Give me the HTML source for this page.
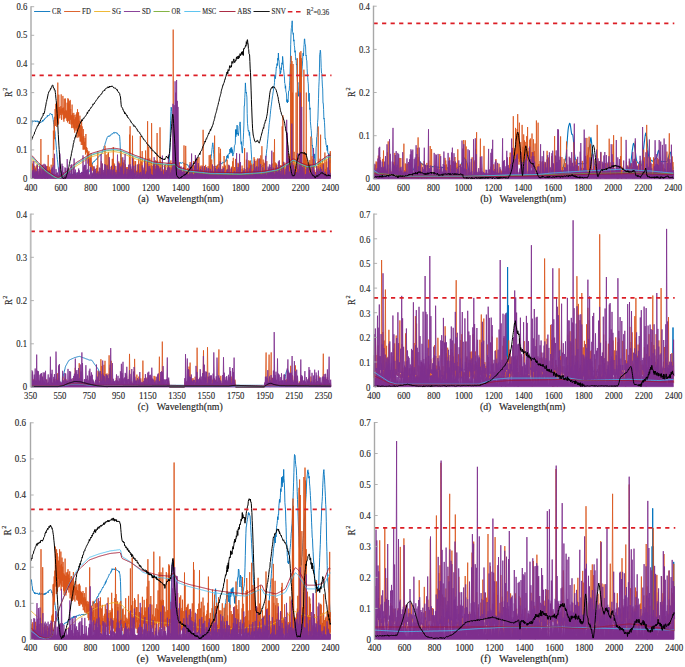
<!DOCTYPE html>
<html><head><meta charset="utf-8"><style>
html,body{margin:0;padding:0;background:#fff;width:685px;height:667px;overflow:hidden}
svg{display:block}
.tk{font-family:"Liberation Serif",serif;font-size:10.3px;fill:#262626;stroke:#262626;stroke-width:0.12px}
.lab{font-family:"Liberation Serif",serif;font-size:9.8px;fill:#262626;stroke:#262626;stroke-width:0.15px}
.lg{font-family:"Liberation Serif",serif;font-size:8px;fill:#262626;stroke:#262626;stroke-width:0.12px}
</style></head><body>
<svg width="685" height="667" viewBox="0 0 685 667">
<path d="M310,1335l3-36 3-36 3-29 3-23 3,6 3-11 3,9 3-4 3,8 3-4 3-2 3-3 3-5 3,3 3,11 3-7 3,1 3,2 3-5 3-4 3,10 3-6 3,1 3,12 3-10 3,2 3,8 3-4 3,7 3-3 3,1 3,4 3-7 3-1 3-1 3,1 3-5 3,0 3-13 3,11 3-11 3,0 3,1 3-11 3,4 3-12 3,3 3-5 3-1 3-7 3-4 3,3 3-5 3-10 3,7 3-13 3,6 3-2 3,2 3-7 3,1 3-8 3-9 3,1 3-1 3,2 3,1 3,7 3,4 3-9 3,13 3,15 3,10 3,17 3,32 3,19 3,27 3,24 3,9 3,14 3,44 3,35 3,22 3,37 3,39 3,31 3,41 3,27 3,25 3,32 3,24 3,29 3,17 3,11 3,13 3-7 3,9 3,0 3,6 3-9 2,6 3,0 3-7 3,2 3,4 3,8 3-12 3,3 3,1 3-5 3,5 3-2 3-4 3,1 3,5 3-9 3,1 3-4 3,9 3-2 3-3 3,2 3,1 3,1 3,1 3,1 3,0 3-5 3,3 3,5 3-7 3-7 3,1 3,14 3-5 3-7 3,3 3,0 3,0 3,0 3,4 3-10 3,10 3-4 3-8 3,2 3,5 3-1 3,3 3-1 3-2 3-7 3,7 3-5 3,0 3,0 3,2 3-5 3,2 3,0 3,2 3,6 3-13 3,0 3,4 3-2 3-2 3,5 3-8 3-1 3-1 3-1 3,12 3-11 3,3 3-7 3,0 3,0 3,3 3-12 3,11 3,4 3-9 3,9 3-15 3,4 3-2 3,0 3,3 3,6 3-3 3-6 3,3 3-5 3,1 3-6 3-12 3-9 3-4 3-3 3-4 3-23 3,6 3-9 3-8 3-14 3,1 3-10 3-2 3,3 3-8 3,3 3-8 3-7 3,1 3,0 3-5 3-4 3-5 3,8 3-5 3-13 3,0 3-4 3-3 3-2 3-2 3-5 3-5 3-2 3-2 3,2 3-9 3,3 3-5 3-8 3-5 3-13 3-8 3-7 3-6 3-10 3-8 3-17 3-4 3-4 3-9 3-18 3,0 3-14 3-8 3-13 3-1 3-13 3-5 3-6 3-4 3,3 3-1 3-6 3,7 3-8 3,3 3-2 3,0 3-2 3-12 3-3 3,2 3-6 3,2 3,0 3,1 3-10 3-3 3-3 3,7 3-3 3,5 3-11 3,2 3,1 3,2 3,1 3,2 3-4 3,9 3-4 3,5 3,8 3,4 3,0 3-1 3,8 3-3 3,15 3,47 3,80 3,83 2,63 3,60 3,48 3,16 3,13" transform="scale(.1)" fill="none" stroke="#0072BD" stroke-width="8.5" stroke-linejoin="round"/>
<path d="M1664,1770l3-6 3-2 3-7 3-8 3-19 3,3 3-13 3-35 3-39 3-55 3-51 3-100 3-122 3-112 3-88 3-44 3,19 3,26 3,46 3,49 3,60 3,92 3,93 3,90 3,86 3,39 3,7 3,9 3-9 3-4 3,4 3-4 3-10 3,4 3-14 3-5 3-5 3-4 3-6 3,5 3-8 3,2 3-2 3,2 3-6 3,6 3-8 3-3 2,8 3,2 3,0 3-3 3-1 3-1 3-4 3,2 3,7 3,3 3,5 3-9 3,2 3,5 3,0 3,0 3,12 3-10 3-1 3,3 3,7 3-1 3,2 3-2 3,7 3,6 3,7 3,9 3,0 3,8 3-2 3-1 3,4 3,4 3,7 3-3 3,7 3,8 3-8 3,2 3,8 3-4 3,9 3-7 3-7 3,9 3-7 3,5 3,6 3,5 3-11 3,0 3,9 3-5 3-7 3,8 3-6 3,10 3-5 3-7 3,8 3,1 3-1 3-4 3,4 3-6 3-4 3-4 3,8 3-9 3,4 3,3 3-3 3-5 3,0 3,3 3,3 3-4 3,2 3,0 3-1 3-7 3,13 3-5 3,4 3-9 3-1 3-2 3,7 3-2 3-3 3,2 3-1 3-1 3-6 3-12 3-20 3-11 3-24 3-15 3-25 3-19 3-32 3-36 3-23 3-32 3-14 3,19 3,47 3,51 3,50 3,42 3,20 3,7 3,2 3,2 3,2 3-4 3-4 3,2 3-8 3,6 3-6 3-5 3-3 3,1 3-6 3,6 3,0 3-10 3,7 3-5 3,6 3-14 3,0 3,5 3,3 3-11 3-1 3-6 3-4 3,5 3,1 3-2 3-1 3,3 3-3 3-5 3,4 3-4 3-22 3,14 3-32 3-18 3,19 3-30 3,22 3,14 3-29 3-12 3-8 3-5 3,8 3-48 3,31 3,0 3-43 3,54 3-24 3-34 3,51 3-30 3,56 3,10 3-17 3-2 3-20 3-12 3-51 3-6 3-6 3-10 3-141 3,72 3-73 3,49 3-32 3-61 3,76 3,15 3-13 3,28 3-17 3-32 3-46 3-5 3-17 3-21 3,29 2,92 3,87 3,16 3-26 3,73 3,30 3,11 3-67 3-6 3-64 3-72 3-71 3-194 3,2 3-84 3-59 3-87 3,54 3,46 3-8 3,24 3,26 3,164 3,102 3,24 3,37 3,16 3-11 3,10 3,42 3-35 3,49 3,13 3,35 3,28 3,48 3,47 3,54 3,40 3,39 3,12 3,1 3-2 3,10 3,3 3-4 3-4 3,8 3-11 3,20 3-15 3,1 3-1 3,6 3-11 3-1 3-2 3,4 3-1 3-9 3,3 3,1 3,0 3-6 3,5 3-10 3,0 3,6 3-11 3-5 3,3 3,5 3-5 3-8 3,7 3-6 3-8 3,5 3-1 3-8 3-5 3,3 3,0 3-15 3-31 3-23 3-38 3-35 3-15 3-42 3-33 3-27 3-34 3-31 3-33 3-38 3-21 3-25 3-30 3-28 3-35 3-23 3-23 3-21 3-29 3-20 3-23 3-15 3-24 3-18 3-26 3-26 3-6 3-28 3-77 3,26 3,12 3-26 3-48 3-41 3,7 3-42 3-2 3,20 3-73 3,22 3-74 3,64 3,9 3,46 3,30 3,17 3,45 3-27 3,11 3-48 3,19 3-51 3-17 3,16 3-80 3,30 3,45 3,46 3,25 3,32 3,20 3,69 3,3 3,50 3-26 3,57 3,9 3,15 3,79 3-24 3,36 3-27 3,17 3-51 3-59 3,1 3-4 3-50 3-48 3-97 3-88 3-176 3-106 3-56 3-11 3-29 3-38 3,110 3,2 3,23 3-9 3,78 3-14 3,56 3,17 3,52 3-16 3,56 3,33 3-9 3,62 3-6 3,98 3,56 3,47 3-21 3,81 3,59 3-34 3-19 3-76 3-10 3-27 3-44 3-36 2,1 3-8 3,6 3,51 3-77 3-28 3-53 3-68 3-11 3,29 3-82 3-29 3-58 3-2 3,52 3,3 3,26 3,89 3-6 3,48 3,8 3,75 3,58 3,33 3,43 3,21 3,97 3,80 3-84 3,99 3,65 3-17 3,138 3,35 3,35 3,21 3,69 3,12 3,72 3-7 3,45 3,71 3-28 3,43 3-11 3,10 3-44 3,79 3,46 3-52 3-3 3-131 3-27 3-80 3-6 3-42 3-99 3-34 3-101 3-102 3-114 3-61 3-84 3-184 3-16 3-26 3,16 3,64 3,93 3,56 3,3 3,62 3,65 3,28 3,145 3-1 3,63 3,95 3-8 3,44 3,62 3,101 3-4 3,19 3,37 3,10 3,17 3-7 3,44 3-53 3,74 3,8 3-3 3,32 3,15 3-36 3,92 3-8 3-100 3,36" transform="scale(.1)" fill="none" stroke="#0072BD" stroke-width="8.5" stroke-linejoin="round"/>
<path d="M310,1774l2-32 4,24 3-161 3,152 3-121 3,127 2-24 4,40 2-134 4,138 4-125 2,118 2-70 4,64 2-94 4,101 4-119 2,104 3-28 3,44 3-133 3,136 3-59 3,46 3-19 3,14 2-51 4,67 2-75 4,71 4-85 2,88 3-388 3,394 3-29 3,10 4-67 2,86 3-129 3,112 4-73 2,73 2-121 4,124 3-56 3,70 3-111 3,111 2-34 4,20 3-111 3,112 2-48 4,62 3-123 3,123 4-236 2,214 2-63 4,76 3-109 3,97 2-76 4,91 2-79 4,77 4-130 2,112 2-6 4,26 2-28 4,22 3-192 3,81 2-356 4,193 4-300 2,193 2-224 4,37 1-114 5,168 2-220 4,152 2-158 4,237 2-233 4,204 4-415 2,422 3-176 3,164 2-289 4,214 1-91 5,114 2-92 4,57 4-87 2,67 2-185 3,255 4-108 2,60 2-72 4,57 2-177 4,236 4-120 2,142 4-230 2,199 3-75 3,71 3-197 3,187 2-73 4,85 3-76 3,101 2-182 4,197 4-242 2,229 3-219 3,213 2-167 4,201 4-228 2,227 3-239 3,198 2-107 4,156 4-93 2,128 4-235 2,197 2-109 4,145 4-125 2,121 3-146 3,165 2-101 4,134 2-178 4,134 3-110 3,134 4-165 2,140 3-158 3,254 4-286 2,248 3-213 3,238 3-242 3,252 3-167 3,154 4-205 2,258 4-163 2,162 3-79 3,115 3-247 3,222 3-161 3,186 4-83 2,130 2-206 4,203 2-133 4,132 3-75 3,76 2-114 4,165 4-205 2,180 4-50 2,56 3-47 3,111 3-90 3,136 4-115 2,131 4-141 2,111 4-41 2,78 2-89 4,135 3-137 3,146 2-183 4,141 3-35 3,60 4-42 2,53 4-45 2,100 4-90 2,38 2-23 4,81 3-59 3,58 2-56 4,63 4-62 2,32 2-65 4,78 2-105 4,108 3-248 3,254 2-49 4,36 4-30 2,41 3-57 3,57 2-47 4,60 3-98 3,70 2-139 4,171 3-141 3,105 2-31 4,31 2-19 4,36 2-38 4,53 3-91 3,89 3-319 3,322 2-132 4,108 3-208 3,222 2-60 4,34 2-97 4,124 2-235 4,236 2-250 4,235 4-151 2,142 2-25 4,40 2-47 4,65 3-113 3,111 4-111 2,87 4-165 2,163 3-163 3,153 2-272 4,290 3-127 3,118 3-107 3,112 2-35 4,40 3-100 3,89 1-46 5,72 3-79 3,81 3-59 3,53 3-44 3,40 3-153 3,129 2-103 4,109 3-116 3,119 2-47 3,41 3-240 3,262 3-194 3,168 3-82 3,85 3-128 3,159 4-148 2,140 4-170 2,173 3-63 3,68 4-133 2,101 3-24 3,47 4-96 2,76 3-26 3,37 4-88 2,111 3-111 3,95 3-68 3,53 4-405 2,425 3-509 3,510 3-92 3,101 4-91 2,75 2-43 4,23 3-388 3,427 3-168 3,131 2-171 4,183 2-64 4,78 4-162 2,135 4-135 2,134 4-32 2,30 4-36 2,58 4-120 2,122 3-64 3,53 4-162 2,153 3-51 3,74 4-132 2,133 3-410 3,406 2-53 4,70 4-172 2,137 4-238 2,254 4-42 2,42 3-39 3,32 4-74 2,66 3-94 3,99 3-48 3,64 2-266 4,267 3-64 3,63 4-155 2,146 4-550 2,538 4-42 2,77 3-317 3,291 4-74 2,64 2-165 4,177 4-69 2,77 3-154 3,150 2-534 4,532 3-103 3,98 3-65 3,89 3-158 3,127 4-74 2,84 2-126 4,138 3-170 3,143 3-87 3,109 3-81 3,65 3-422 3,442 2-169 4,158 3-129 3,145 4-152 2,148 2-60 4,58 2-498 4,506 2-170 4,143 3-42 3,56 4-143 2,147 2-99 4,89 4-47 2,62 3-80 3,71 2-41 4,36 3-112 3,110 2-120 4,128 3-40 3,26 3-49 3,44 2-117 4,113 2-29 4,46 4-90 2,73 3-120 3,121 3-79 3,91 2-35 4,57 3-175 3,153 4-122 2,127 2-95 4,88 2-55 4,73 2-1477 4,1446 3-49 3,77 2-48 4,20 2-20 4,51 2-47 4,38 2-46 4,38 3-46 3,64 3-119 3,113 1-104 5,93 1-94 5,90 2-132 4,125 3-22 3,37 3-68 3,51 2-19 3,48 4-84 2,70 5-34 1,27 3-27 3,56 4-58 2,28 3-297 3,296 3-118 3,129 4-55 2,39 2-286 4,296 4-43 2,57 4-63 2,44 4-69 2,82 3-38 3,31 2-71 4,58 4-79 2,91 4-134 2,131 4-26 2,24 4-125 2,151 4-110 2,117 3-118 3,117 3-56 3,39 3-155 3,134 4-37 2,59 3-96 3,75 4-74 2,101 3-169 3,176 3-118 3,107 4-182 2,163 2-37 4,31 3-92 3,111 2-190 4,197 4-94 2,76 3-94 3,110 3-98 3,103 2-72 4,53 3-99 3,127 3-57 3,28 2-454 4,446 2-60 4,97 3-67 3,37 3-85 3,118 3-135 3,131 4-59 2,51 4-67 2,37 4-16 2,57 4-121 2,103 3-41 3,42 3-214 3,225 3-92 3,58 3-196 3,228 2-48 4,19 4-150 2,166 2-50 4,42 2-94 4,93 3-40 3,43 3-94 3,88 3-394 3,391 3-45 3,77 3-98 3,100 2-118 4,103 2-105 4,119 3-134 3,114 3-52 3,37 4-275 2,293 3-54 3,69 4-245 2,247 2-292 4,274 2-72 4,63 3-50 3,47 2-27 4,30 2-91 4,103 2-42 4,24 2-187 4,202 2-116 4,110 3-99 3,128 4-66 2,45 2-67 4,84 2-184 4,179 3-52 3,48 2-124 4,112 2-74 4,96 2-123 4,95 2-62 4,76 2-47 4,55 3-109 3,77 3-16 3,29 3-144 3,158 4-193 2,202 2-85 4,69 3-93 3,81 2-79 4,90 2-174 4,183 4-46 2,54 3-76 3,71 4-84 2,60 3-123 3,150 4-140 2,105 2-55 4,66 1-26 5,40 2-115 3,124 3-86 3,74 4-43 2,22 3-88 3,124 3-95 3,90 4-72 2,79 2-74 4,46 4-273 2,263 2-34 4,51 3-69 3,80 4-175 2,147 4-64 2,80 3-51 3,35 3-70 3,95 4-167 2,177 3-167 3,170 2-134 4,126 3-168 3,160 2-132 4,118 4-105 2,118 2-77 4,85 4-54 2,27 3-108 3,122 3-188 3,187 3-168 3,159 3-48 3,54 3-146 3,165 2-62 4,31 3-148 3,182 2-193 4,193 3-52 3,31 4-56 2,59 3-175 3,190 3-184 3,164 4-201 2,227 4-60 2,44 3-303 3,282 3-34 3,37 4-151 2,163 4-135 2,127 3-63 3,69 2-124 4,142 2-170 4,143 4-44 2,55 4-148 2,148 4-51 2,36 4-43 2,60 3-35 3,45 2-52 4,48 4-98 2,92 3-34 3,21 3-78 3,79 3-31 3,50 3-133 3,129 3-43 3,62 3-260 3,235 3-50 3,43 3-359 3,385 4-153 2,134 4-124 2,145 3-143 3,113 3-102 3,107 4-84 2,75 3-46 3,74 4-56 2,61 2-165 4,147 3-70 3,93 3-130 3,97 4-25 2,51 4-79 2,82 2-515 4,515 3-626 3,602 3-117 3,145 2-84 4,68 4-142 2,152 3-58 3,32 4-78 2,110 2-115 4,109 3-132 3,107 2-330 4,341 3-169 3,186 3-242 3,204 3-182 3,209 2-43 4,41 3-1127 3,1113 2-1194 4,1205 4-1153 2,1138 3-823 3,836 3-1122 3,1134 2-108 4,96 2-244 4,231 4-22 2,46 2-107 4,92 3-832 3,834 3-206 3,201 4-1173 2,1188 2-60 4,65 4-86 2,67 3-173 3,166 3-1224 3,1240 3-1211 3,1225 3-1268 2,1239 3-1168 3,1180 4-83 2,77 3-122 3,147 2-258 4,228 4-1054 2,1072 3-240 3,218 4-210 2,237 3-188 3,199 4-859 2,845 5-173 1,156 4-118 2,118 4-128 2,123 3-41 3,68 3-145 3,128 3-158 3,181 3-132 3,125 2-409 4,417 2-126 4,101 2-195 4,184 4-155 2,167 3-37 3,37 4-166 2,153 3-47 3,72 4-47 2,37 4-41 2,30 3-54 3,81 3-115 3,93 2-60 4,87 3-517 3,504 3-157 3,165 3-89 3,78 3-179 3,189 3-429 3,435 3-153 3,137 3-75 3,77 4-175 2,160 2-115 4,146 2-152 4,126 2-35 4,60 4-258 2,239 3-73 3,93 4-166 2,128 4-152 2,170 2-44 4,45 4-38 2,55 2-168 4,137 3-187 3,210 3-193 3,184 4-254 2,243" transform="scale(.1)" fill="none" stroke="#D95319" stroke-width="8.0" stroke-linejoin="round"/>
<path d="M310,1583l7,5 8,8 7,8 8,8 7,8 8,9 7,8 8,8 7,8 8,8 7,8 8,7 7,7 8,8 7,7 8,7 7,7 8,7 7,7 8,7 7,5 8,6 7,5 8,5 7,5 8,5 7,6 8,5 7,4 8,4 7,1 8,1 7,0 8,0 7,0 8,0 7,0 8,0 7-1 8-1 7-4 7-4 8-5 7-6 8-5 7-5 8-5 7-5 8-6 7-5 8-7 7-7 8-7 7-7 8-7 7-7 8-8 7-7 8-7 7-6 8-5 7-5 8-5 7-4 8-5 7-5 8-4 7-5 8-4 7-5 8-5 7-4 8-5 7-4 8-5 7-4 8-5 7-5 8-4 7-4 7-3 8-2 7-3 8-2 7-2 8-2 7-3 8-2 7-2 8-3 7-2 8-2 7-3 8-2 7-2 8-2 7-3 8-2 7-2 8-2 7-1 8-1 7-1 8-1 7,0 8-1 7-1 8-1 7,0 8-1 7,0 8,0 7,1 8,1 7,2 8,1 7,1 8,2 7,1 7,2 8,3 7,3 8,3 7,3 8,3 7,3 8,3 7,3 8,4 7,3 8,3 7,3 8,3 7,3 8,4 7,3 8,3 7,3 8,3 7,3 8,3 7,2 8,3 7,3 8,2 7,3 8,3 7,2 8,3 7,2 8,3 7,3 8,2 7,3 8,2 7,3 8,3 7,2 8,3 7,2 7,3 8,3 7,2 8,2 7,2 8,1 7,0 8,1 7,1 8,0 7,1 8,1 7,1 8,0 7,1 8,1 7,0 8,1 7,1 8,1 7,0 8,1 7,1 8,0 7,1 8,1 7,0 8,0 7-2 8-2 7-1 8,2 7,6 8,10 7,10 8,9 7,5 8,3 7,2 8,2 7,2 7,2 8,2 7,2 8,2 7,2 8,2 7,2 8,2 7,2 8,1 7,1 8,1 7,1 8,0 7,1 8,1 7,1 8,0 7,1 8,1 7,1 8,0 7,1 8,1 7,1 8,0 7,1 8,1 7,1 8,0 7,1 8,1 7,1 8,1 7,0 8,1 7,1 8,1 7,0 7,0 8,1 7,0 8,0 7,0 8,0 7,0 8,1 7,0 8,0 7,0 8,0 7,0 8,0 7,1 8,0 7,0 8,0 7,0 8,0 7,0 8,1 7,0 8,0 7,0 8,0 7,0 8,0 7,1 8,0 7,0 8,0 7,0 8,0 7,0 8,1 7,0 8,0 7,0 7,0 8,0 7-1 8,0 7-1 8,0 7-1 8,0 7-1 8,0 7-1 8,0 7-1 8,0 7-1 8,0 7-1 8,0 7,0 8-1 7,0 8-1 7,0 8-1 7,0 8-1 7,0 8-1 7,0 8-1 7-1 8-1 7-1 8-2 7-1 8-1 7-2 8-1 7-2 8-1 7-2 7-1 8-1 7-2 8-1 7-2 8-1 7-2 8-1 7-2 8-2 7-4 8-4 7-4 8-5 7-4 8-5 7-4 8-5 7-4 8-5 7-4 8-5 7-4 8-5 7-4 8-6 7-6 8-7 7-6 8-3 7,1 8,3 7,4 8,4 7,4 8,5 7,4 8,4 7,4 8,4 7,4 7,3 8,2 7,3 8,3 7,3 8,3 7,3 8,2 7,2 8,0 7-1 8-2 7-1 8-2 7-1 8-2 7-1 8-2 7-3 8-4 7-5 8-5 7-5 8-6 7-5 8-5 7-6 8-5 7-5 8-6 7-5 8-6 7-5 8-5 7-3 8-2 7-1 8,0 7,0" transform="scale(.1)" fill="none" stroke="#EDB120" stroke-width="9.0" stroke-linejoin="round"/>
<path d="M310,1775l5-43 2,40 4-48 4,24 2-44 5,43 6-136 2,164 3-53 4,34 3-62 5,82 4-62 3,33 5-34 3,34 2-100 5,109 3-67 5,74 4-13 3,7 4-96 4,99 3-54 4,45 3-104 5,104 4-8 3,7 3-102 5,102 3-62 4,84 4-134 4,134 4-65 3,48 3-109 5,114 2-96 5,82 5-42 3,73 4-57 3,45 3-46 5,30 4-40 3,55 4-25 4,36 3-41 4,34 4-81 4,59 3-73 4,80 5-98 3,95 5-9 2,29 3-232 5,214 2-13 5,40 3-88 5,81 4-44 3,30 3-32 5,31 2-10 5,17 3-91 5,73 4-210 3,231 4-25 4,28 2-62 5,64 3-135 4,117 4-94 4,91 3-28 4,28 5-3 3,10 3-84 4,104 4-97 4,84 3-47 4,56 3-183 5,179 2-90 5,98 5-80 3,57 4-59 3,75 4-24 4,13 3-112 4,98 4-103 4,128 4-31 3,29 3-96 5,97 4-185 3,192 5-59 3,42 3-64 4,64 5-16 3,15 4-36 3,23 5-21 3,34 5-74 2,73 3-55 5,46 4,0 3,0 3-20 5,32 4-42 3,39 5-37 3,46 3-213 4,208 4-97 4,98 4-114 3,112 3-111 5,121 3-193 4,181 3-59 5,70 3-76 4,75 5-182 3,182 2-20 5,3 4-8 4,33 3-107 4,75 3-70 4,99 5-47 3,31 3-21 4,34 5-73 3,58 2-93 5,87 4-2 4,16 2-76 5,75 5-28 3,10 4-13 3,27 3-46 5,54 3-27 4,31 3-95 5,74 5-5 2,10 5-215 3,229 5-83 2,76 4-127 4,140 3-75 4,53 4-10 4,5 4-108 3,114 4-104 4,105 2-6 5,26 4-121 4,94 2-56 5,67 3-64 5,53 4-176 3,182 4-14 4,9 4-54 3,57 4-94 4,96 4-4 3,9 3-59 5,70 4-80 3,81 3-118 5,95 2,0 5,4 3-31 5,50 2-28 5,33 4-230 4,203 3-94 4,124 2-148 6,127 4-36 3,33 5-89 2,99 5-89 3,72 5-95 2,104 5-184 3,172 5,0 2,11 5-21 3,25 5-221 2,238 5-92 3,64 3-5 4,31 4-84 4,79 4-35 3,22 4-110 4,109 5-56 2,47 3-105 5,105 2-82 5,83 4-41 4,45 3-175 4,189 5-64 3,52 2-96 5,116 5-44 3,38 5-122 2,99 3,0 5,12 5-37 2,27 4-6 4,33 2-130 5,115 5-9 3,23 2-44 5,26 4-36 4,28 3,0 4,17 4-111 4,126 2-106 5,95 4-66 4,74 4-184 3,172 4-26 4,14 3-12 4,6 5-29 3,53 4-175 3,179 3-112 5,116 4-45 3,36 5-108 3,109 4-83 3,85 3-31 4,8 5,0 3,20 4-19 3,24 4-127 4,127 4-202 3,182 4-7 4,17 4-77 3,79 4-154 4,143 5-105 2,108 4-71 4,76 2-105 5,100 3-70 5,81 3-91 4,86 4-53 4,45 5-41 2,64 4-223 4,209 3-26 4,27 3-19 5,21 4-114 3,108 5-43 3,37 4-56 3,54 4-36 4,35 3-76 4,81 4-210 4,231 3-40 4,32 3-98 5,83 4-30 3,49 4-77 4,61 5-92 2,90 5-719 3,546 3-269 4,384 2-647 6,601 3-840 4,894 3-781 5,771 3-897 4,847 3-638 5,629 2-569 5,681 2-38 6,60 3-116 4,93 4-75 4,97 2-108 5,103 3-72 4,52 3-26 5,42 4-91 3,100 5-48 3,41 4-67 3,54 3-15 5,13 5-32 2,58 5-63 3,50 3-18 4,22 3-21 5,31 4-118 3,106 3-120 5,125 3-29 4,14 4-219 4,244 3-94 4,79 5-22 3,25 3-20 4,18 3-110 5,109 4-214 3,196 5-168 3,178 3-52 4,62 4-70 4,72 3-137 4,133 4-58 4,41 3-16 4,28 3-68 5,56 5-34 2,59 5-109 3,98 4-32 3,25 4-16 4,13 5-90 2,115 3-74 5,63 3-30 4,14 4-77 4,86 2-29 5,45 5-94 3,85 4-77 3,74 5-33 3,50 5-90 2,76 4-57 3,55 5-17 3,0 3-101 4,116 5-29 3,29 4-42 3,58 5-119 3,120 3-95 4,80 4-23 4,18 4-68 3,82 4-22 4,10 5-84 2,100 4-82 4,76 5-156 2,147 3-62 5,70 3-47 4,42 3-76 5,67 3-44 4,62 4-97 4,81 2-11 5,0 5-15 3,20 5-10 2,25 5-61 3,52 2-65 5,83 3-40 5,19 3-105 4,105 2-33 6,51 4-22 3,16 4-87 4,79 3-14 4,13 3-7 5,8 2-29 5,25 5-44 3,40 4-16 3,29 3-38 5,54 4-248 3,221 3-30 5,54 3-106 4,91 3-34 5,28 4-217 3,214 5-131 2,140 4-18 4,15 5-32 2,20 6,0 2,7 3-44 4,61 6-88 2,65 3-32 4,41 5-21 3,34 4-44 3,45 4-246 4,240 4-30 3,28 3-37 5,25 4-66 3,80 4-31 4,22 4-103 3,116 5-28 3,23 5-13 2,18 5-53 3,51 5-64 2,53 4-150 4,166 2-45 5,36 4-90 4,82 2-91 5,116 5-71 3,57 3-98 4,86 3-167 5,171 2-18 5,12 5-110 3,129 4-27 3,15 3-12 5,23 4-97 3,104 3-56 5,32 4-10 3,27 4-68 4,53 4-196 3,195 3-4 5,3 4-36 3,53 5-103 3,86 4-70 3,89 3-127 5,112 3-47 4,70 4-132 3,105 5-245 3,270 4-69 3,47 4-79 4,82 4-47 3,66 5-37 3,19 4-78 3,74 5-101 3,98 3-30 4,24 3-30 5,55 3-155 4,149 5-163 3,165 5-60 2,50 4-22 4,38 4-117 3,104 4-10 4,21 5-106 2,107 3-154 5,135 4-7 3,14 5-10 3,3 5-64 2,68 4-559 4,552 3-423 4,436 5-182 3,198 5-34 2,0 3-29 5,55 5-67 2,47 3-95 5,116 2-536 5,526 2-21 6,28 2-120 5,108 3-67 5,87 3-34 4,34 3-29 5,15 5-43 2,30 5-17 3,30 2-232 5,244 3-44 5,14 4-91 3,122 4-850 4,843 3-83 4,74 4-691 3,701 5-100 3,85 4-37 3,47 5-105 3,92 2-4 5,28 3-34 5,9 3-8 4,5 4-81 4,104 4-123 3,123 5-95 3,73 5-22 2,38 5-17 3,18 3-119 4,112 3-19 5,20 5-92 2,83 5-41 3,46 2-276 5,275 3-39 5,48 3-17 4,15 4-18 4,6 4-90 3,89 4-37 4,46 4-72 3,73 5-34 3,44 2-61 5,55 3-93 5,103 5-84 2,74 4-45 4,59 3-66 4,59 4-126 4,125 3-20 4,14 5-46 3,39 4-13 3,33 4-31 4,12 4-9 3,5 4-79 4,100 2-232 5,232 5-73 3,75 2-48 5,30V1785H310Z" transform="scale(.1)" fill="#7E2F8E" stroke="#7E2F8E" stroke-width="8.0" stroke-linejoin="round"/>
<path d="M310,1565l7,6 8,7 7,9 8,8 7,8 8,8 7,9 8,8 7,8 8,8 7,8 8,7 7,7 8,7 7,7 8,8 7,7 8,7 7,7 8,6 7,6 8,6 7,5 8,5 7,5 8,5 7,5 8,5 7,5 8,5 7,3 8,4 7,2 8,3 7,3 8,1 7,0 8-1 7-2 8-3 7-5 7-5 8-7 7-6 8-6 7-7 8-6 7-6 8-7 7-6 8-7 7-7 8-7 7-7 8-8 7-7 8-7 7-7 8-7 7-6 8-6 7-4 8-5 7-5 8-4 7-5 8-4 7-5 8-5 7-4 8-5 7-4 8-5 7-4 8-5 7-5 8-4 7-5 8-4 7-4 7-3 8-2 7-3 8-2 7-2 8-3 7-2 8-2 7-3 8-2 7-2 8-2 7-3 8-2 7-2 8-3 7-2 8-2 7-2 8-2 7-1 8-1 7-1 8-1 7-1 8,0 7-1 8-1 7-1 8,0 7,0 8,0 7,1 8,1 7,1 8,2 7,1 8,1 7,2 7,2 8,2 7,3 8,4 7,3 8,3 7,3 8,3 7,3 8,3 7,4 8,3 7,3 8,3 7,3 8,3 7,4 8,3 7,3 8,3 7,3 8,3 7,2 8,3 7,3 8,2 7,3 8,2 7,3 8,3 7,2 8,3 7,2 8,3 7,3 8,2 7,3 8,2 7,3 8,3 7,2 7,3 8,2 7,3 8,2 7,1 8,1 7,1 8,1 7,1 8,0 7,1 8,1 7,0 8,1 7,1 8,1 7,0 8,1 7,1 8,0 7,1 8,1 7,1 8,0 7,1 8,1 7,0 8,0 7-2 8-2 7-1 8,1 7,7 8,10 7,10 8,8 7,6 8,3 7,2 8,2 7,2 7,2 8,2 7,2 8,2 7,2 8,2 7,2 8,2 7,2 8,1 7,1 8,1 7,0 8,1 7,1 8,1 7,0 8,1 7,1 8,1 7,0 8,1 7,1 8,1 7,0 8,1 7,1 8,1 7,1 8,0 7,1 8,1 7,1 8,0 7,1 8,1 7,1 8,0 7,1 7,0 8,0 7,1 8,0 7,0 8,0 7,0 8,0 7,0 8,1 7,0 8,0 7,0 8,0 7,0 8,0 7,1 8,0 7,0 8,0 7,0 8,0 7,0 8,1 7,0 8,0 7,0 8,0 7,0 8,0 7,1 8,0 7,0 8,0 7,0 8,0 7,0 8,1 7,0 7,0 8-1 7,0 8-1 7,0 8,0 7-1 8,0 7-1 8,0 7-1 8,0 7-1 8,0 7-1 8,0 7-1 8,0 7-1 8,0 7-1 8,0 7-1 8,0 7-1 8,0 7,0 8-1 7,0 8-1 7-1 8-1 7-1 8-2 7-1 8-2 7-1 8-1 7-2 8-1 7-2 7-1 8-2 7-1 8-1 7-2 8-1 7-2 8-1 7-2 8-2 7-4 8-4 7-4 8-5 7-4 8-5 7-4 8-5 7-4 8-5 7-4 8-5 7-4 8-5 7-4 8-6 7-6 8-7 7-6 8-3 7,0 8,4 7,4 8,4 7,4 8,5 7,4 8,4 7,4 8,4 7,3 7,3 8,3 7,3 8,3 7,3 8,3 7,3 8,2 7,1 8,0 7-1 8-1 7-1 8-2 7-1 8-2 7-1 8-2 7-3 8-4 7-5 8-5 7-5 8-6 7-5 8-6 7-5 8-5 7-6 8-5 7-5 8-6 7-5 8-5 7-3 8-2 7-1 8,0 7,0" transform="scale(.1)" fill="none" stroke="#77AC30" stroke-width="9.0" stroke-linejoin="round"/>
<path d="M310,1560l7,5 8,8 7,8 8,8 7,8 8,9 7,8 8,8 7,9 8,7 7,8 8,7 7,7 8,8 7,7 8,7 7,7 8,7 7,7 8,7 7,5 8,6 7,5 8,5 7,5 8,5 7,6 8,5 7,5 8,4 7,5 8,4 7,4 8,3 7,3 8,2 7-1 8-2 7-3 8-4 7-5 7-6 8-6 7-7 8-6 7-6 8-7 7-6 8-6 7-7 8-7 7-7 8-7 7-7 8-7 7-7 8-8 7-7 8-7 7-6 8-5 7-5 8-5 7-4 8-5 7-5 8-4 7-5 8-4 7-5 8-4 7-5 8-5 7-4 8-5 7-4 8-5 7-4 8-5 7-4 7-3 8-2 7-3 8-2 7-2 8-2 7-3 8-2 7-2 8-3 7-2 8-2 7-2 8-3 7-2 8-2 7-3 8-2 7-2 8-2 7-1 8-1 7-1 8,0 7-1 8-1 7-1 8,0 7-1 8-1 7,0 8,0 7,1 8,1 7,2 8,1 7,1 8,2 7,1 7,2 8,3 7,3 8,3 7,3 8,3 7,3 8,3 7,4 8,3 7,3 8,3 7,3 8,3 7,3 8,4 7,3 8,3 7,3 8,3 7,3 8,3 7,3 8,2 7,3 8,2 7,3 8,3 7,2 8,3 7,2 8,3 7,3 8,2 7,3 8,2 7,3 8,3 7,2 8,3 7,2 7,3 8,3 7,2 8,2 7,2 8,1 7,0 8,1 7,1 8,1 7,0 8,1 7,1 8,0 7,1 8,1 7,1 8,0 7,1 8,1 7,0 8,1 7,1 8,1 7,0 8,1 7,0 8,0 7-2 8-2 7-1 8,2 7,6 8,10 7,10 8,9 7,5 8,3 7,2 8,2 7,2 7,2 8,2 7,2 8,2 7,2 8,2 7,2 8,2 7,2 8,1 7,1 8,1 7,1 8,0 7,1 8,1 7,1 8,0 7,1 8,1 7,1 8,0 7,1 8,1 7,1 8,1 7,0 8,1 7,1 8,1 7,0 8,1 7,1 8,1 7,0 8,1 7,1 8,1 7,0 7,1 8,0 7,0 8,0 7,0 8,0 7,0 8,1 7,0 8,0 7,0 8,0 7,0 8,0 7,1 8,0 7,0 8,0 7,0 8,0 7,0 8,1 7,0 8,0 7,0 8,0 7,0 8,0 7,1 8,0 7,0 8,0 7,0 8,0 7,0 8,1 7,0 8,0 7,0 7,0 8,0 7-1 8,0 7-1 8,0 7-1 8,0 7-1 8,0 7-1 8,0 7-1 8,0 7,0 8-1 7,0 8-1 7,0 8-1 7,0 8-1 7,0 8-1 7,0 8-1 7,0 8-1 7,0 8-1 7-1 8-1 7-1 8-1 7-2 8-1 7-2 8-1 7-2 8-1 7-1 7-2 8-1 7-2 8-1 7-2 8-1 7-1 8-2 7-2 8-2 7-4 8-4 7-4 8-5 7-4 8-5 7-4 8-5 7-4 8-5 7-4 8-4 7-5 8-4 7-5 8-6 7-6 8-7 7-5 8-4 7,1 8,3 7,4 8,4 7,4 8,5 7,4 8,4 7,5 8,3 7,4 7,3 8,3 7,2 8,3 7,3 8,3 7,3 8,2 7,2 8,0 7-1 8-2 7-1 8-2 7-1 8-1 7-2 8-2 7-2 8-5 7-5 8-5 7-5 8-6 7-5 8-5 7-6 8-5 7-5 8-6 7-5 8-6 7-5 8-5 7-3 8-2 7-1 8,0 7,0" transform="scale(.1)" fill="none" stroke="#4DBEEE" stroke-width="9.0" stroke-linejoin="round"/>
<path d="M310,1548l7,6 8,7 7,8 8,9 7,8 8,8 7,9 8,8 7,8 8,8 7,8 8,7 7,7 8,7 7,7 8,7 7,8 8,7 7,7 8,6 7,6 8,5 7,6 8,5 7,5 8,5 7,5 8,5 7,5 8,5 7,5 8,4 7,5 8,4 7,3 8,2 7-1 8-3 7-4 8-4 7-6 7-6 8-6 7-6 8-6 7-7 8-6 7-6 8-7 7-6 8-7 7-7 8-7 7-8 8-7 7-7 8-7 7-7 8-7 7-6 8-6 7-5 8-4 7-5 8-4 7-5 8-5 7-4 8-5 7-4 8-5 7-4 8-5 7-5 8-4 7-5 8-4 7-5 8-4 7-4 7-3 8-3 7-2 8-2 7-3 8-2 7-2 8-2 7-3 8-2 7-2 8-3 7-2 8-2 7-2 8-3 7-2 8-2 7-2 8-2 7-1 8-1 7-1 8-1 7-1 8,0 7-1 8-1 7-1 8,0 7-1 8,1 7,1 8,1 7,1 8,2 7,1 8,1 7,2 7,2 8,2 7,3 8,3 7,4 8,3 7,3 8,3 7,3 8,3 7,3 8,4 7,3 8,3 7,3 8,3 7,3 8,3 7,4 8,3 7,3 8,2 7,3 8,3 7,2 8,3 7,3 8,2 7,3 8,2 7,3 8,3 7,2 8,3 7,2 8,3 7,3 8,2 7,3 8,2 7,3 7,3 8,2 7,3 8,2 7,1 8,1 7,1 8,1 7,0 8,1 7,1 8,1 7,0 8,1 7,1 8,0 7,1 8,1 7,1 8,0 7,1 8,1 7,0 8,1 7,1 8,0 7,1 8,0 7-2 8-2 7-2 8,2 7,7 8,10 7,10 8,8 7,5 8,3 7,3 8,2 7,2 7,2 8,2 7,2 8,2 7,2 8,2 7,2 8,2 7,2 8,1 7,1 8,0 7,1 8,1 7,1 8,0 7,1 8,1 7,1 8,0 7,1 8,1 7,1 8,1 7,0 8,1 7,1 8,1 7,0 8,1 7,1 8,1 7,0 8,1 7,1 8,1 7,0 8,1 7,1 7,0 8,0 7,0 8,1 7,0 8,0 7,0 8,0 7,0 8,0 7,1 8,0 7,0 8,0 7,0 8,0 7,0 8,1 7,0 8,0 7,0 8,0 7,0 8,0 7,1 8,0 7,0 8,0 7,0 8,0 7,0 8,1 7,0 8,0 7,0 8,0 7,0 8,0 7,1 7-1 8,0 7,0 8-1 7,0 8-1 7,0 8-1 7,0 8-1 7,0 8-1 7,0 8,0 7-1 8,0 7-1 8,0 7-1 8,0 7-1 8,0 7-1 8,0 7-1 8,0 7-1 8,0 7-1 8,0 7-1 8-1 7-1 8-2 7-1 8-2 7-1 8-2 7-1 8-1 7-2 7-1 8-2 7-1 8-2 7-1 8-1 7-2 8-1 7-2 8-3 7-3 8-4 7-5 8-4 7-5 8-4 7-5 8-4 7-4 8-5 7-4 8-5 7-4 8-5 7-5 8-5 7-6 8-7 7-6 8-3 7,0 8,3 7,4 8,5 7,4 8,4 7,5 8,4 7,4 8,4 7,3 7,3 8,3 7,3 8,3 7,3 8,3 7,2 8,3 7,1 8,0 7-1 8-1 7-2 8-1 7-1 8-2 7-1 8-2 7-3 8-4 7-5 8-5 7-6 8-5 7-5 8-6 7-5 8-5 7-6 8-5 7-6 8-5 7-5 8-5 7-4 8-1 7-1 8,0 7,0" transform="scale(.1)" fill="none" stroke="#A2142F" stroke-width="9.0" stroke-linejoin="round"/>
<path d="M310,1407l3-4 3-6 3-1 3-10 3-4 3-16 3-5 3-5 3-8 3-5 3-2 3-20 3-2 3-4 3-10 3-10 3-6 3-5 3-8 3-2 3-13 3-5 3-6 3,4 3-15 3-6 3-7 3,9 3-9 3-16 3,0 3-12 3-4 3-11 3,1 3-4 3-13 3-3 3-2 3-2 3-29 3,9 3-7 3,1 3-13 3-16 3-17 3-17 3-9 3-21 3-18 3-8 3-18 3-7 3-20 3-10 3-20 3-5 3-14 3,0 3-9 3-5 3-5 3,0 3-18 3,1 3,2 3-12 3-3 3-16 3-3 3-2 3,0 3,18 3,11 3,1 3,0 3,20 3-3 3,2 3,24 3,22 3,36 3,23 3,36 3,51 3,42 3,46 3,52 3,58 3,56 3,54 3,51 3,44 3,52 3,45 3,39 3,29 3,38 3,22 2,12 3,12 3,7 3,24 3,3 3,1 3,0 3,6 3,0 3-2 3,2 3-4 3-5 3,1 3,7 3-3 3-9 3-12 3-5 3-13 3-4 3-17 3-10 3-17 3-10 3-9 3-11 3-19 3-9 3-23 3-11 3-13 3-21 3-6 3-25 3-8 3-22 3-9 3-15 3-11 3-24 3-17 3-5 3-26 3-3 3-4 3-22 3,2 3-17 3,10 3-30 3,0 3-8 3-10 3-2 3-18 3-6 3-8 3-5 3-6 3-15 3-11 3-5 3-6 3-5 3-11 3-8 3,3 3-1 3-19 3,14 3-12 3-3 3-10 3,2 3,2 3-6 3-10 3-3 3-2 3-4 3,0 3-5 3-8 3-4 3-6 3,0 3-16 3,10 3-16 3-2 3-9 3-3 3,7 3-11 3-6 3-5 3-3 3,1 3-13 3,3 3-3 3-7 3-2 3-3 3-8 3-15 3,6 3-3 3-2 3-8 3,3 3-12 3-3 3-3 3-6 3-1 3-8 3-4 3-4 3-2 3-8 3,0 3-10 3,2 3-10 3,1 3-3 3,1 3-11 3-2 3-3 3-5 3-3 3,1 3-2 3-12 3-2 3-9 3-6 3,2 3-3 3-4 3-1 3-1 3,5 3-18 3-3 3,0 3-2 3-5 3-1 3,1 3,1 3-5 3-2 3-8 3,12 3-7 3,5 3-4 3-13 3,10 3-2 3,0 3-7 3,4 3,4 3-8 3-3 3,5 3,1 3,6 3,3 3-2 3,7 3-1 3,5 3-1 3-3 3,6 3-3 3,5 3,4 3,6 3-2 3,8 3-5 3,13 3,5 3,2 3,8 3-3 3,8 3,4 3,1 3,21 3,5 3,19 2,27 3,35 3,25 3,4 3,6 3,0 3,6 3,15 3-2 3,11 3,10 3-2 3,2 3,20 3-11 3,13 3-6 3,10 3,5 3-1 3,12 3-6 3,18 3,2 3,7 3-3 3,7 3,1 3,3 3,5 3,4 3,4 3,9 3,7 3,5 3-4 3,10 3,5 3,3 3,1 3,2 3,6 3,7 3-3 3,16 3-5 3-2 3,7 3-1 3,9 3,2 3,6 3,5 3,1 3,1 3,16 3-1 3,10 3-1 3,6 3,1 3,4 3-1 3,3 3,14 3,3 3,0 3,10 3,3 3,11 3-7 3,7 3,10 3,6 3,3 3-2 3,9 3,8 3,0 3,0 3,2 3,4 3,9 3,3 3,4 3,2 3,4 3,10 3,3 3,2 3-1 3,9 3,5 3-4 3,2 3,14 3,0 3-2 3,11 3-3 3,14 3-1 3,0 3-1 3,7 3,14 3,3 3,0 3-4 3,3 3,1 3,5 3,9 3,2 3,5 3-5 3,13 3-3 3,2 3-1 3,11 3-2 3,9 3-5 3,9 3,2 3,6 3,1 3,3 3,2 3-5 3,11 3-4 3-1 3,10 3,6 3-10 3,11 3-2 3-1 3,0 3,3 3,4 3-6 3,5 3-6 3,12 3-6 3-5 3-8 3-5 3-4 3-12 3,8 3,0 3,4 3,8 3-5 3,10 3-19 3,3 3-16 3-18 3-24 3-37 3-49 3-49 3-37 3-37 3-34 3-36 3-43 3-29 3-18 3,9 3,31 3,54 3,52 3,52 3,49 3,55 3,55 3,62 3,51 3,51 3,48 3,42 3,4 3,8 3-2 3,8 3-1 3,8 3,0 3-1 3,7 3-3 3-1 3-4 3,2 3-5 2,8 3-9 3-7 3-1 3,5 3-3 3-7 3-2 3-2 3-1 3-2 3-6 3,7 3,0 3-13 3,6 3-8 3,3 3-1 3-14 3,3 3,2 3-9 3-4 3-4 3-6 3,2 3-8 3-7 3-4 3-2 3,0 3,1 3-19 3,7 3-6 3-6 3-6 3-2 3-1 3-7 3-13 3-6 3,7 3-9 3,5 3-13 3-8 3,0 3-15 3-1 3-4 3,9 3-14 3-11 3,0 3,1 3-10 3-15 3-1 3-6 3-2 3-12 3,14 3-12 3-19 3-2 3-2 3-5 3,0 3-13 3-9 3-3 3-17 3-6 3-1 3-12 3-3 3-9 3-4 3-19 3,10 3-13 3-12 3-7 3,4 3-10 3-11 3-4 3-7 3-8 3-7 3-12 3,7 3-18 3-1 3-9 3-2 3-18 3,12 3-18 3,1 3-7 3-13 3,1 3-11 3-11 3-1 3-22 3-9 3-6 3-14 3-8 3-16 3-14 3-13 3-9 3-8 3-12 3-10 3-15 3-16 3-7 3-12 3-10 3-19 3-8 3-6 3-24 3-12 3-8 3-10 3-13 3-8 3-21 3-13 3-11 3-8 3-11 3-11 3-15 3,2 3-12 3-6 3-7 3-15 3-13 3,1 3-18 3-8 3-8 3-16 3,6 3-29 3,11 3-18 3,21 3-41 3,8 3,4 3,2 3-27 3-26 3,8 3,9 3,1 3-1 3-19 3,16 3-27 3-30 3,16 3-2 3,5 3-26 3-2 3-16 3,33 3,4 3-11 3,7 3-23 3,3 3,5 3-17 3-21 3,2 3,20 3-14 3-8 3-9 3,15 3,13 3-31 3,20 3-13 3-5 3-23 3,21 2-14 3,4 3,2 3-28 3,18 3-22 3-3 3,31 3-10 3,20 3-65 3-6 3,7 3-6 3-9 3-1 3-16 3-6 3,9 3-45 3,4 3,22 3-45 3-1 3,30 3,13 3,45 3,11 3,41 3,4 3,9 3,66 3,73 3,38 3,83 3,91 3,97 3,73 3,89 3,72 3,56 3,32 3,30 3,12 3,16 3,7 3,16 3,9 3,3 3,8 3,0 3-3 3-5 3-5 3,8 3-1 3-11 3,0 3,2 3,10 3,3 3,10 3,3 3-14 3-2 3-12 3-16 3-8 3-17 3-6 3-21 3,1 3-19 3-6 3-19 3-2 3-15 3,7 3-20 3-20 3-4 3-9 3-13 3-16 3,5 3-14 3-10 3-19 3-12 3-18 3-22 3-32 3-21 3-26 3-12 3-25 3-24 3-29 3-20 3-15 3-8 3-12 3,0 3-8 3-6 3,6 3,3 3-17 3,6 3-1 3,0 3-2 3,1 3,1 3,12 3,2 3,3 3,5 3,6 3,6 3,16 3,6 3,11 3,11 3,17 3,6 3,26 3,15 3,22 3,1 3,23 3,16 3,18 3,12 3,15 3,3 3,18 3,7 3,8 3,3 3,9 3,6 3,9 3,8 3,11 3,5 3,12 3,14 3,24 3,12 3,20 3,23 3,4 3,18 3,21 3,25 3,22 3,42 3,17 3,44 3,21 3,30 3,27 3,26 3,22 3,24 3,16 3,16 3,11 3,16 3,20 3,2 3,19 3,3 3,2 3,1 3-6 3,5 3,3 3-5 3-5 3-11 3-27 3-20 3-8 3-32 3-19 3-3 3-22 3-9 3-15 3,6 3-24 3-6 3-12 3-9 3,10 3-13 3-2 3-5 3-4 2-1 3,6 3-7 3,6 3-7 3,4 3,0 3-1 3,7 3-5 3,4 3-9 3,0 3,13 3,6 3-9 3,6 3,5 3-8 3,20 3,14 3,10 3,10 3,7 3,18 3,19 3,10 3,2 3,28 3,5 3,6 3,14 3,10 3,10 3,2 3,5 3,8 3,3 3,10 3,0 3,8 3-1 3,7 3-7 3,3 3,4 3,9 3-4 3,14 3-10 3-3 3,2 3-6 3-4 3-7 3,6 3,5 3,1 3-11 3-6 3-3 3,2 3,2 3-2 3-4 3-3 3-4 3,0 3-10 3,6 3-3 3-4 3,1 3,8 3,6 3,1 3-5 3,2 3,3 3,0 3,1 3,11 3-12 3,1 3,10 3,5 3-2 3,7 3-6 3,4 3-3 3,1 3-11 3,13 3-5 3,3 3-9 3,3 3,11 3-3" transform="scale(.1)" fill="none" stroke="#000000" stroke-width="10.0" stroke-linejoin="round"/>
<line x1="31.0" y1="75.42" x2="331.5" y2="75.42" stroke="#dc1e26" stroke-width="1.7" stroke-dasharray="4.2 4.35"/>
<line x1="31.0" y1="178.5" x2="31.0" y2="6.2" stroke="#bcbcbc" stroke-width="1.8"/>
<line x1="31.0" y1="178.5" x2="34.2" y2="178.5" stroke="#aaa" stroke-width="0.9"/>
<line x1="31.0" y1="149.9" x2="34.2" y2="149.9" stroke="#aaa" stroke-width="0.9"/>
<line x1="31.0" y1="121.2" x2="34.2" y2="121.2" stroke="#aaa" stroke-width="0.9"/>
<line x1="31.0" y1="92.6" x2="34.2" y2="92.6" stroke="#aaa" stroke-width="0.9"/>
<line x1="31.0" y1="64.0" x2="34.2" y2="64.0" stroke="#aaa" stroke-width="0.9"/>
<line x1="31.0" y1="35.3" x2="34.2" y2="35.3" stroke="#aaa" stroke-width="0.9"/>
<line x1="31.0" y1="6.7" x2="34.2" y2="6.7" stroke="#aaa" stroke-width="0.9"/>
<text x="23.0" y="181.5" class="tk" style="font-size:10.3px" textLength="4.4" lengthAdjust="spacingAndGlyphs">0</text>
<text x="16.5" y="152.9" class="tk" style="font-size:10.3px" textLength="10.9" lengthAdjust="spacingAndGlyphs">0.1</text>
<text x="16.5" y="124.2" class="tk" style="font-size:10.3px" textLength="10.9" lengthAdjust="spacingAndGlyphs">0.2</text>
<text x="16.5" y="95.6" class="tk" style="font-size:10.3px" textLength="10.9" lengthAdjust="spacingAndGlyphs">0.3</text>
<text x="16.5" y="67.0" class="tk" style="font-size:10.3px" textLength="10.9" lengthAdjust="spacingAndGlyphs">0.4</text>
<text x="16.5" y="38.3" class="tk" style="font-size:10.3px" textLength="10.9" lengthAdjust="spacingAndGlyphs">0.5</text>
<text x="16.5" y="9.7" class="tk" style="font-size:10.3px" textLength="10.9" lengthAdjust="spacingAndGlyphs">0.6</text>
<text x="24.4" y="190.9" class="tk" style="font-size:10.3px" textLength="13.1" lengthAdjust="spacingAndGlyphs">400</text>
<text x="54.4" y="190.9" class="tk" style="font-size:10.3px" textLength="13.1" lengthAdjust="spacingAndGlyphs">600</text>
<text x="84.3" y="190.9" class="tk" style="font-size:10.3px" textLength="13.1" lengthAdjust="spacingAndGlyphs">800</text>
<text x="112.1" y="190.9" class="tk" style="font-size:10.3px" textLength="17.5" lengthAdjust="spacingAndGlyphs">1000</text>
<text x="142.0" y="190.9" class="tk" style="font-size:10.3px" textLength="17.5" lengthAdjust="spacingAndGlyphs">1200</text>
<text x="172.0" y="190.9" class="tk" style="font-size:10.3px" textLength="17.5" lengthAdjust="spacingAndGlyphs">1400</text>
<text x="201.9" y="190.9" class="tk" style="font-size:10.3px" textLength="17.5" lengthAdjust="spacingAndGlyphs">1600</text>
<text x="231.9" y="190.9" class="tk" style="font-size:10.3px" textLength="17.5" lengthAdjust="spacingAndGlyphs">1800</text>
<text x="261.8" y="190.9" class="tk" style="font-size:10.3px" textLength="17.5" lengthAdjust="spacingAndGlyphs">2000</text>
<text x="291.8" y="190.9" class="tk" style="font-size:10.3px" textLength="17.5" lengthAdjust="spacingAndGlyphs">2200</text>
<text x="321.7" y="190.9" class="tk" style="font-size:10.3px" textLength="17.5" lengthAdjust="spacingAndGlyphs">2400</text>
<text x="137.9" y="202.0" class="lab" style="font-size:9.8px" textLength="10.9" lengthAdjust="spacingAndGlyphs">(a)</text>
<text x="156.6" y="202.0" class="lab" style="font-size:9.8px" textLength="66.7" lengthAdjust="spacingAndGlyphs">Wavelength(nm)</text>
<g transform="translate(12.0,97.1) rotate(-90) scale(0.9,1)"><text x="0" y="0" class="lab" style="font-size:9.5px">R<tspan dx="0.8" dy="-5.0" style="font-size:7px">2</tspan></text></g>
<path d="M3735,1683l3,4 3,6 3,7 3,6 3,6 3,7 3,6 3,7 3,6 3,4 3,2 3,2 3,0 3,1 3,0 3,0 3,1 3,0 3,1 3,0 3,1 3,0 3,0 3,1 3,0 3,1 3,0 3,1 3,0 3,0 3,1 3,0 3,1 3,0 3,1 3,0 3,1 3,0 3,0 3,1 3,0 3,1 3,0 3,1 3,0 3,0 3,1 3,0 3,1 3,0 3,0 3,0 3,0 3,0 3,0 3,0 3,0 3,0 3,0 3,0 3,0 3,0 3,0 3,0 3,0 3,0 3,0 3,0 3,0 3,0 3,0 3,0 3,0 3,0 3,0 3,0 3,0 3,0 3,0 3,0 3,0 3,0 3,0 3,0 3,0 3,0 3,0 3,0 3,0 3,0 3,0 3,0 3,0 3,0 3,0 3,0 3,0 3,0 3,0 3,0 3,0 3,0 3,0 3,0 3,0 3,0 3,0 3,0 3,0 3,0 3,0 3,0 3,0 3,0 3,0 3,0 3,0 3,0 3-1 3-1 3-4 3-4 3-5 3-6 3-5 3-5 3-5 3-5 3-5 3-6 3-5 3-5 3-5 3-5 3-6 3-5 3-5 3-5 3-6 3-5 3-7 3-7 3-7 3-7 3-7 3-8 3-7 3-6 3-3 3,0 3,3 3,4 3,4 3,3 3,4 3,4 3,4 3,4 3,4 3,3 3,2 3,2 3,2 3,1 3,2 3,2 3,1 3,2 3,1 3,2 3,2 3,1 3,1 3,1 3,1 3,0 3,1 3,0 3,0 3,1 3,0 3,0 3,1 3,0 3,0 3,1 3,0 3,0 3,1 3,0 3,0 3,1 3,0 3,0 3,1 3,0 3,0 3,1 3,0 3,0 3,0 3,1 3,0 3,0 3,1 3,0 3,0 3,0 3,1 3,0 3,0 3,1 3,0 3,0 3,0 3,1 3,0 3,0 3,0 3,1 3,0 3,0 3,1 3,0 3,0 3,0 3,1 3,0 3,0 3,1 3,0 3,0 3,0 3,1 3,0 3,0 3,0 3,1 3,0 3,0 3,1 3,0 3,0 3,0 3,1 3,0 3,1 3,1 3,1 2,1 3,1 3,2 3,1 3,1 3,1 3,1 3,1 3,2 3,1 3,1 3,1 3,1 3,1 3,1 3,0 3,0 3-2 3-1 3-2 3-2 3-2 3-1 3-2 3-2 3-2 3-1 3-2 3-2 3-1 3-2 3-2 3-2 3-1 3-2 3-2 3-2 3-1 3-2 3-2 3-3 3-5 3-5 3-6 3-5 3-6 3-6 3-6 3-5 3-6 3-6 3-6 3-5 3-6 3-4 3-1 3,4 3,7 3,8 3,9 3,8 3,9 3,9 3,8 3,10 3,12 3,14 3,16 3,17 3,18 3,17 3,16 3,13" transform="scale(.1)" fill="none" stroke="#0072BD" stroke-width="11.0" stroke-linejoin="round"/>
<path d="M5087,1776l3-9 3-10 3-10 3-11 3-10 3-10 3-11 3-10 3-11 3-10 3-12 3-14 3-16 3-17 3-17 3-17 3-17 3-17 3-15 3-13 3-11 3-11 3-11 3-11 3-11 3-10 3-11 3-7 3-1 3,10 3,16 3,19 3,19 3,19 3,20 3,19 3,20 3,19 3,21 3,22 3,23 3,22 3,23 3,23 3,22 3,18 3,11" transform="scale(.1)" fill="none" stroke="#0072BD" stroke-width="11.0" stroke-linejoin="round"/>
<path d="M5612,1772l3-13 3-14 3-15 3-14 3-14 3-15 3-14 3-12 3-12 3-11 3-10 3-10 3-10 3-11 3-12 3-18 3-27 3-37 3-42 3-44 3-44 3-41 3-33 3-22 3-15 3-11 3-10 3-8 3,0 3,11 3,18 3,20 3,21 3,20 3,15 3,7 3,1 3,1 3,9 3,24 3,35 3,39 3,38 3,36 3,29 3,18 3,11 3,8 3,7 3,7 3,7 3,7 3,7 3,5 3,2 3,1 3,0 3,0 3,0 3,0 3,0 3,0 3,0 3,0 3,0 3,0 3,0 3,0 3,0 3,0 3,0 3,0 3,0 3,0 3,0 3,0 3,0 3,0 3,0 3,0 3,0 3,0 3-2 3-6 3-10 3-15 3-16 3-16 3-16 3-16 3-16 3-16 3-17 3-16 3-18 3-22 3-26 3-24 3-9 3,12 3,28 3,33 3,30 3,27 3,23 3,22 3,21 3,21 3,18 3,15 3,12 3,12 3,11 3,12 3,12 3,13 3,14 3,16 3,17 3,16 3,13" transform="scale(.1)" fill="none" stroke="#0072BD" stroke-width="11.0" stroke-linejoin="round"/>
<path d="M6283,1780l3-12 3-15 3-17 3-17 3-17 3-18 3-20 3-22 3-24 3-26 3-26 3-27 3-26 3-24 3-21 3-19 3-12 3-3 3,6 3,12 3,14 3,17 3,20 3,23 3,25 3,24 3,20 3,15 3,7 3,4 3,3 3,2 3,3 3,2 3,3 3,2 3,3 3,2 3,3 3,2 3,3 3,2 3,2 3-1 3-8 3-18 3-26 3-28 3-29 3-28 3-29 3-27 3-26 3-24 3-24 3-22 3-20 3-13 3,1 3,13 3,21 3,26 3,29 3,32 3,34 3,32 3,28 3,19 3,10 3,6 3,3 3,4 3,3 3,4 3,3 3,4 3,3 3,3 3,3 3,1 3,0 3-2 3-3 3-3 3-3 3-3 3-3 3-3 3-2 3-3 3-3 3-3 3-3 3-4 3-7 3-9 3-13 3-13 3-12 3-11 3-6 3,4 3,14 3,19 3,21 3,20 3,17 3,11 3,5 3,1 3,0 3,0 3,0 3,0 3,0 3,0 3,0 3,0 3,0 3,0 3,0 3,0 3,0 3,0 3,0 3,0 3,0 3,0 3-1 3-4 3-8 3-10 3-11 3-12 3-11 3-11 3-11 3-9 3-6 3,0 3,8 3,17 3,22 3,23 3,21 3,20 3,18 3,17 3,15 3,12" transform="scale(.1)" fill="none" stroke="#0072BD" stroke-width="11.0" stroke-linejoin="round"/>
<path d="M3735,1764l4-9 3,19 4-23 4,9 3-111 4,103 4-138 4,143 5-135 2,158 4-16 4,0 3-208 4,231 3-57 5,46 4-206 3,194 4-50 4,46 4-1 3,20 5-20 3,0 2-170 5,184 3-268 5,280 3-98 4,58 4-80 4,99 4-77 3,75 5-31 3,50 4-257 3,231 5-341 3,371 5-42 2,38 4-95 4,66 4-47 3,50 5-41 3,55 5,0 2,12 5-146 3,132 3-122 4,131 3-157 5,153 3-243 4,251 4-72 4,41 3-78 4,81 5-104 3,97 3-39 4,67 4-61 4,57 3-190 4,179 6-44 2,34 3-168 4,203 5-76 3,75 5-31 2,34 5-55 3,56 4-349 3,342 5-78 3,74 3-141 4,135 3-128 5,117 3-63 4,61 3-119 5,112 2,0 5,5 5,0 3,21 5-144 2,114 5,0 3,28 3,0 4,9 3-33 5,0 4-22 3,22 4,0 4,20 4-4 3,15 4-128 4,122 4-27 3,0 5-37 3,74 3-306 4,279 4-383 4,412 3-215 4,189 3-7 5,0 3-128 4,137 4,0 4,26 3-154 4,151 5-18 3,0 4-12 3,0 4-145 4,173 4-120 3,108 4-24 4,0 3,0 4,41 2-159 6,117 3,0 4,34 5-175 3,175 4-29 3,0 5-291 3,286 4,0 3,10 4-265 4,297 2-23 5,16 3-35 5,0 4-16 3,34 3-114 5,104 2-60 5,59 5-65 3,75 3-65 4,80 3-94 5,91 2-24 5,0 3-39 5,34 3-205 4,238 3-20 5,0 3-5 4,0 3,0 5,26 2-17 5,0 4-41 4,37 4,0 3,12 3-192 5,193 3-167 4,169 3-129 5,111 5-7 2,0 5-79 2,92 4,0 4,22 4-209 3,181 5-107 3,123 4-51 3,27 5-38 3,58 2-43 5,37 5-151 3,151 2-91 5,78 6-179 2,189 3,0 4,5 3-136 5,135 4-18 3,17 4-269 4,264 3-82 4,73 3-4 5,26 5-131 2,128 3-116 5,105 2-6 5,0 4-70 4,73 4-161 3,165 3-357 5,363 4-5 3,24 4-379 4,382 5-320 2,318 3-151 5,123 2-5 5,36 4-86 4,78 5-43 2,25 3-138 5,149 4,0 3,16 4-40 4,0 4-174 3,178 4,0 4,37 5-32 2,7 4-147 4,132 3-146 4,181 4-292 4,276 4-445 3,450 3-27 5,0 3,0 4,40 5,0 3,0 3-16 4,0 5-383 3,382 3-86 4,89 3-9 5,0 4,0 3,14 4-20 4,0 3-297 4,310 3-23 5,0 5,0 2,39 5-35 3,11 3,0 4,18 4-18 4,0 3,0 4,4 5-59 3,71 4-6 3,0 3-104 5,98 4-166 3,162 5-12 3,0 3,0 4,14 4-120 4,107 3-60 4,73 4,0 4,1 2-174 5,192 3-23 5,0 3-71 4,57 3,0 5,34 3-142 4,116 3,0 5,9 4-69 3,92 3-79 5,72 4-59 3,48 5-59 3,75 5-70 2,71 3-37 5,25 2-63 5,37 5,0 3,31 2-31 5,0 3-62 5,96 2-72 5,63 4-90 4,69 4-179 3,200 3-245 5,224 3-2 4,16 3-255 5,203 5-185 2,86 4-451 4,458 3-140 4,280 3-234 5,144 3-391 4,307 3-260 5,397 4-434 3,466 3-614 5,447 3-252 4,310 5-419 3,392 3-123 4,154 4-229 4,343 4-241 3,69 2-343 6,492 2-273 5,138 3-262 4,337 4-277 4,304 3-289 4,320 4-253 4,107 3-231 4,245 5-337 3,486 5-243 2,65 5-99 3,267 4-349 3,182 3-194 5,269 3-133 4,156 4-342 4,294 4-109 3,105 4-232 4,324 4-206 3,148 5-224 3,239 4-7 3,75 3-537 5,519 5-63 2,86 5-520 3,536 4-123 3,123 5-56 3,74 2-171 5,141 4-134 4,143 4-5 3,29 5-47 3,28 4-14 3,27 3-137 5,127 4-150 3,137 5-128 3,159 3-30 4,0 5-248 3,262 3,0 4,14 4-209 4,209 5-182 2,144 5-16 3,40 3-37 4,43 5-216 3,195 3-66 4,99 4-123 4,82 3-102 4,119 5-403 3,424 2-96 5,74 3-200 5,188 2-129 5,143 5,0 3,21 4-82 3,68 4-29 4,38 5-91 2,98 5-424 3,394 2-34 5,34 3-188 5,214 2-114 5,101 3-32 5,18 2-169 5,192 3-46 5,31 3-134 4,151 4-367 4,370 3-28 4,0 5-24 3,41 3-19 4,5 5-175 3,176 4-46 3,37 2-147 6,178 3-109 4,93 3-132 5,151 4-32 3,0 3-332 5,346 5-147 2,137 4-108 4,100 5-157 2,166 3-127 5,149 5-121 2,114 3-115 5,94 4-5 3,25 3-11 5,0 5-83 2,89 3-89 5,80 4-150 3,145 3-2 5,8 4-9 3,0 4-158 4,187 3-75 4,48 3-49 5,76 5-401 2,383 4-209 4,198 3-279 4,286 5-391 3,419 4-34 3,0 5-314 3,336 4-180 3,188 5-36 3,0 4-50 3,76 4-29 4,39 4-122 3,92 5-161 3,169 2-19 5,42 3-12 5,16 3-538 4,499 4-114 3,113 3-18 5,20 4-136 3,140 4-58 4,91 3-262 4,224 3-21 5,47 5-132 2,129 3-31 5,40 3-114 4,110 4-10 4,21 2-156 5,116 4,0 4,38 5-49 2,9 4-111 4,152 4-24 3,16 4-391 4,397 5-160 2,123 5-80 3,115 4-25 3,0 4-2 4,0 4-312 3,314 3-405 5,428 3-27 4,0 4,0 4,22 5-25 2,0 4-78 4,114 2-44 5,43 5-1 3,0 3-120 4,116 4-99 4,67 5-187 2,215 4-408 4,420 5-120 2,96 6-2 2,3 2,0 5,13 5-54 3,33 4,0 3,13 3-51 5,69 4-169 3,154 4-2 4,0 4-115 3,120 3-101 5,106 2-167 5,154 5-73 3,55 4-94 3,124 3-144 5,113 4-75 3,110 5-24 3,1 4-170 3,192 5-77 3,55 2-347 5,361 5-161 3,144 2-88 5,82 3-24 5,48 4-134 3,110 5-45 3,71 5-115 2,105 4-161 4,178 3-16 4,0 5-130 3,108 2-152 5,186 4-286 4,272 2-194 5,212 3-68 5,40 4-3 3,24 4-529 4,506 3,0 4,6 3-96 5,81 4-179 3,212 4-169 4,147 3-183 4,188 3-45 5,68 4-145 3,126 5-20 3,0 4-172 3,178 3-158 5,179 2-112 5,100 4-69 4,82 2-20 5,0 5-175 3,178 2,0 5,24 3-188 5,161 2-49 5,42 2-173 6,187 3-37 4,29 3-18 5,37 4-104 3,116 4-141 4,114 4-76 3,75 3,0 5,5 3-11 4,0 4-29 4,60 3-265 4,249 3-100 5,118 4-200 3,170 5-420 3,445 4-96 3,101 3-30 5,0 3-10 4,23 4-202 4,195 4-138 3,132" transform="scale(.1)" fill="none" stroke="#D95319" stroke-width="8.0" stroke-linejoin="round"/>
<path d="M3735,1745l7,1 8,1 7,0 8,1 7,1 8,1 7,1 8,1 7,1 8,0 7,1 8,1 7,1 8,1 7,1 8,1 7,1 8,0 7,1 8,1 7,1 8,1 7,1 8,1 7,0 8,1 7,1 8,1 7,1 8,1 7,1 8,0 7,1 8,1 7,1 8,1 7,1 8,1 7,0 8,1 7,0 8,0 7,0 8,0 7,0 8,0 7,0 8,0 7,0 8,0 7,0 8,0 7,0 8,0 7,0 8,0 7,0 8,0 7,0 8,0 7,0 8,0 7,0 8,0 7,0 8,0 7,0 8,0 7,0 8,0 7,0 8,0 7,0 8,0 7,0 8,0 7,0 8,0 7,0 8,0 7,0 8,0 7,0 8,0 7,0 8,0 7,0 8,0 7,0 8,0 7,0 8,0 7,0 8,0 7,0 8,0 7,0 8,0 7,0 7,0 8,0 7,0 8,0 7,0 8,0 7,0 8,0 7,0 8,0 7,0 8,0 7,0 8,0 7,0 8,0 7,0 8,0 7,0 8,0 7,0 8,0 7,0 8,0 7,0 8,0 7,0 8,0 7,0 8-1 7,0 8,0 7,0 8,0 7,0 8,0 7,0 8,0 7-1 8,0 7,0 8,0 7,0 8,0 7,0 8,0 7,0 8-1 7,0 8,0 7,0 8,0 7,0 8,0 7,0 8,0 7-1 8,0 7,0 8,0 7,0 8,0 7,0 8,0 7,0 8,0 7-1 8,0 7,0 8,0 7,0 8,0 7,0 8,0 7,0 8-1 7,0 8,0 7,0 8,0 7,0 8,0 7,0 8,0 7-1 8,0 7,0 8,0 7,0 8,0 7,0 8,0 7,0 8-1 7,0 8,0 7,0 8,0 7,0 8,0 7,0 7,0 8-1 7,0 8,0 7,0 8-1 7,0 8,0 7,0 8,0 7-1 8,0 7,0 8,0 7,0 8-1 7,0 8,0 7,0 8-1 7,0 8,0 7,0 8,0 7-1 8,0 7,0 8,0 7-1 8,0 7,0 8,0 7,0 8-1 7,0 8,0 7,0 8,0 7-1 8,0 7,0 8,0 7-1 8,0 7,0 8,0 7,0 8-1 7,0 8,0 7,0 8,0 7-1 8,0 7,0 8,0 7-1 8,0 7,0 8,0 7,0 8-1 7,0 8,0 7,0 8,0 7-1 8,0 7,0 8,0 7-1 8,0 7,0 8,0 7,0 8-1 7,0 8,0 7,0 8,0 7-1 8,0 7,0 8,0 7,0 8,0 7-1 8,0 7,0 8,0 7,0 8,0 7,0 8-1 7,0 8,0 7,0 8,0 7,0 7,0 8-1 7,0 8,0 7,0 8,0 7,0 8,0 7-1 8,0 7,0 8,0 7,0 8,0 7,0 8-1 7,0 8,0 7,0 8,0 7,0 8,0 7-1 8,0 7,0 8,0 7,0 8,0 7,0 8-1 7,0 8,0 7,0 8,0 7,0 8,0 7-1 8,0 7,0 8,0 7,0 8,0 7,0 8,0 7,0 8,1 7,0 8,0 7,0 8,0 7,0 8,0 7,1 8,0 7,0 8,0 7,0 8,0 7,0 8,1 7,0 8,0 7,0 8,0 7,0 8,0 7,1 8,0 7,0 8,0 7,0 8,0 7,0 8,1 7,0 8,0 7,0 8,0 7,0 8,0 7,1 8,0 7,0 8,0 7,0 8,0 7,0 8,1 7,0 8,0 7,0 8,0 7,0 8,0 7,1 8,0 7,0 8,0 7,0 8,0 7,0" transform="scale(.1)" fill="none" stroke="#EDB120" stroke-width="8.0" stroke-linejoin="round"/>
<path d="M3735,1729l5-51 3,54 6-94 2,127 6-66 3,18 5-18 3,65 3-83 5,31 3-127 5,189 6-296 3,253 4-263 4,290 5-156 3,130 6-59 2,46 5-103 4,125 4-63 4,50 5-61 3,93 4-144 4,106 5-161 4,209 2-64 6,37 3-300 5,320 4-117 4,117 5-19 4,25 3-377 5,365 3-219 5,226 3-43 5,47 6-153 3,106 5-442 3,465 3-107 5,81 3-62 5,69 3-175 6,212 4-251 4,215 4-25 4,21 4-193 4,240 5-227 4,171 5,0 3,56 2-91 6,48 3-58 5,55 5,0 4,12 3-213 5,212 5-2 3,0 3-14 5,0 4,0 5,27 2-28 6,40 5-173 3,170 5-22 3,37 5-149 4,150 5-177 3,166 5-215 3,199 3-250 5,221 4-207 4,227 6-238 3,228 3,0 5,3 3-136 5,150 5-166 3,177 6-300 3,314 5-226 3,224 5-59 3,43 3-86 5,70 4-256 5,235 5-93 3,119 3-15 5,48 5-53 3,0 3-45 6,81 3-60 5,67 5-283 3,293 5-125 3,74 5-61 4,88 5-31 3,45 4-110 4,106 6-464 2,431 5-43 4,42 3-26 5,20 5-62 3,97 4-78 4,74 4-3 5,24 5-38 3,26 5-227 3,188 3-35 5,37 6-176 3,180 2-172 6,169 5-31 3,53 3-203 5,215 5-32 4,51 4-80 4,33 4-165 4,170 5-64 3,56 6-5 3,17 4-95 4,74 3-199 5,202 4-65 4,109 6-62 3,15 3,0 5,17 2,0 6,11 4-213 4,189 4-109 4,115 5-121 4,132 3-11 5,13 6-212 2,208 6-256 2,260 3-119 6,153 5-239 3,214 3-117 5,95 3-109 5,160 6-48 3,36 2-79 6,36 5-30 3,71 4-157 4,168 4-28 5,8 3-101 5,117 3-98 5,100 3-365 5,310 4-229 5,249 4-293 4,279 3-35 5,84 3-180 5,143 3-41 6,79 4-26 4,28 5-280 3,279 6-47 2,34 3-256 6,220 4,0 4,34 5-169 3,142 3-17 5,46 6-16 3,18 2-369 6,368 4-37 4,32 4-372 4,343 5-184 4,180 5,0 3,39 4-38 4,0 6-42 2,82 6-48 3,0 5-146 3,195 3-45 5,0 3-156 5,152 5,0 4,47 3-41 5,22 4-11 4,0 5,0 3,14 3-49 5,15 5-13 4,76 5-42 3,14 5-258 3,226 6-20 2,56 6-23 3,0 3-200 5,247 4-286 4,254 5-345 3,371 4-62 5,39 5-30 3,50 5-142 3,120 3-140 5,160 3-37 6,0 4-98 4,113 5-11 3,0 5-2 3,0 4-57 5,77 5-14 3,39 4-47 4,0 5-344 3,370 5-143 4,134 5-144 3,137 4-25 4,0 5-49 3,61 6-216 3,212 4-146 4,168 4-90 4,85 3-59 5,76 3-46 6,39 5-107 3,86 4-340 4,358 3-265 5,241 4-169 5,186 4-140 4,128 3,0 5,10 4-148 4,147 4-181 5,193 3-208 5,188 3,0 5,36 4-43 4,0 5-35 4,79 5-239 3,224 5-22 3,12 5-115 3,136 6-44 2,0 6-36 3,95 5-158 3,140 4-161 4,142 5-195 3,206 5-8 4,1 4-32 4,3 3-140 5,185 4-291 4,292 5-166 4,164 5-50 3,54 3-197 5,185 3-226 5,226 4-186 5,166 3-111 5,113 4,0 4,26 6-52 2,7 6,0 3,47 2-90 6,54 4-60 4,82 4-29 4,2 6-275 3,317 5-24 3,17 4-190 4,194 3-143 5,110 3-214 6,209 4,0 4,45 4-138 4,112 3-62 5,98 5-179 4,131 2-173 6,207 5-22 3,32 3-246 5,188 5-37 4,55 5-27 3,58 3-228 5,190 3-215 5,265 4-139 5,118 2-7 6,20 4-209 4,185 5-236 3,234 6-117 3,105 3-434 5,423 3-419 5,456 3-154 5,174 3-206 6,182 3-45 5,28 5-27 3,41 6-17 2,30 4-55 4,32 6-63 3,67 5-64 3,62 3-23 5,0 3-218 5,224 6-74 3,122 3-41 5,0 3-160 5,185 4-173 4,155 4-74 5,88 3-227 5,191 3-84 5,95 5-58 3,66 5-495 4,523 4-147 4,155 4-53 4,53 4-120 4,91 6-170 3,182 3-38 5,0 3,0 5,36 6-231 2,245 4-332 5,283 3,0 5,29 4-37 4,19 5-42 3,77 5-463 4,444 5-361 3,347 3-167 5,153 5-15 3,75 3-53 6,20 5-15 3,0 5,0 3,32 5-182 3,177 4-143 5,152 3-39 5,43 3-69 5,60 3-212 5,186 5-27 4,59 4-40 4,0 5-83 3,124 4-266 4,251 3-59 6,27 2-131 6,140 5-114 3,106 4-78 4,134 6-253 2,236 4-19 5,24 3-143 5,105 5-94 3,144 4-217 4,202 5-237 4,201 5,0 3,30 3-201 5,206 3-59 5,57 6-135 3,132 4-189 4,170 5-73 3,93 6-7 2,6 3-309 6,281 3-181 5,202 6-123 2,98 4-8 4,44 6-73 3,82 4-62 4,21 4-323 4,353 3-91 5,92 3-180 6,192 4-114 4,67 5-129 3,124 4-42 4,67 5,0 4,33 5-38 3,32 3-53 5,0 4-108 4,142 6-58 3,53 2-38 6,37 3-342 5,333 5-77 3,88 6-74 3,44 5,0 3,17 2-143 6,170 4-32 4,0 3-95 6,123 2-50 6,70 4-254 4,221 4-131 4,130 5-151 4,123 4-327 4,390 3-146 5,125 4-95 4,69 4-70 4,102 4-43 5,49 5-155 3,142 3-194 5,156 3-59 5,85 3-29 6,0 3-441 5,441 4-103 4,131 6-14 2,0 6-36 3,54 3-220 5,215 5-100 3,76 3-210 5,215 5-44 4,51 5-331 3,367 4-139 4,142 5-138 3,102 5-45 4,83 2-23 6,15 3-38 5,27 4-84 4,92 5-354 4,346 4-105 4,84 5-187 3,184 4-85 4,96 4-84 5,88 4-339 4,367 2-84 6,88 3-355 5,357 4-151 5,132 3-305 5,291 3-3 5,20 4-372 4,342 5-37 4,62 4-309 4,291 2-12 6,0 3-93 5,107 4-161 5,190 3-43 5,0 4-130 4,163 4-127 4,85 3-266 6,287 3-21 5,0 4-14 4,28V1788H3735Z" transform="scale(.1)" fill="#7E2F8E" stroke="#7E2F8E" stroke-width="8.0" stroke-linejoin="round"/>
<path d="M3735,1728l7,1 8,0 7,1 8,1 7,1 8,1 7,1 8,0 7,1 8,1 7,1 8,1 7,1 8,1 7,1 8,0 7,1 8,1 7,1 8,1 7,1 8,1 7,0 8,1 7,1 8,1 7,1 8,1 7,1 8,0 7,1 8,1 7,1 8,1 7,1 8,1 7,1 8,0 7,1 8,1 7,0 8,0 7,0 8,0 7,0 8,0 7,0 8,0 7,0 8,0 7,0 8,0 7,0 8,0 7,0 8,0 7,0 8,0 7,0 8,0 7,0 8,0 7,0 8,0 7,0 8,0 7,0 8,0 7,0 8,0 7,0 8,0 7,0 8,0 7,0 8,0 7,0 8,0 7,0 8,0 7,0 8,0 7,0 8,0 7,0 8,0 7,0 8,0 7,0 8,0 7,0 8,0 7,0 8,0 7,0 8,0 7,0 8,0 7,0 7,0 8,0 7,0 8,0 7,0 8,0 7,0 8,0 7,0 8,0 7,0 8,0 7,0 8,0 7,0 8,0 7,0 8,0 7,0 8,0 7,0 8,0 7,0 8,0 7,0 8,0 7-1 8,0 7,0 8,0 7,0 8,0 7,0 8,0 7,0 8-1 7,0 8,0 7,0 8,0 7,0 8,0 7,0 8,0 7,0 8-1 7,0 8,0 7,0 8,0 7,0 8,0 7,0 8,0 7-1 8,0 7,0 8,0 7,0 8,0 7,0 8,0 7,0 8-1 7,0 8,0 7,0 8,0 7,0 8,0 7,0 8,0 7,0 8-1 7,0 8,0 7,0 8,0 7,0 8,0 7,0 8,0 7-1 8,0 7,0 8,0 7,0 8,0 7,0 8,0 7,0 8-1 7,0 8,0 7,0 8,0 7,0 8,0 7,0 8,0 7-1 7,0 8,0 7,0 8,0 7-1 8,0 7,0 8,0 7,0 8-1 7,0 8,0 7,0 8-1 7,0 8,0 7,0 8,0 7-1 8,0 7,0 8,0 7,0 8-1 7,0 8,0 7,0 8-1 7,0 8,0 7,0 8,0 7-1 8,0 7,0 8,0 7-1 8,0 7,0 8,0 7,0 8-1 7,0 8,0 7,0 8,0 7-1 8,0 7,0 8,0 7-1 8,0 7,0 8,0 7,0 8-1 7,0 8,0 7,0 8,0 7-1 8,0 7,0 8,0 7-1 8,0 7,0 8,0 7,0 8-1 7,0 8,0 7,0 8,0 7-1 8,0 7,0 8,0 7-1 8,0 7,0 8,0 7,0 8,0 7,0 8-1 7,0 8,0 7,0 8,0 7,0 8-1 7,0 8,0 7,0 8,0 7,0 8,0 7-1 7,0 8,0 7,0 8,0 7,0 8,0 7-1 8,0 7,0 8,0 7,0 8,0 7,0 8-1 7,0 8,0 7,0 8,0 7,0 8,0 7-1 8,0 7,0 8,0 7,0 8,0 7,0 8-1 7,0 8,0 7,0 8,0 7,0 8,0 7-1 8,0 7,0 8,0 7,0 8,0 7,0 8,0 7,0 8,0 7,0 8,0 7,0 8,1 7,0 8,0 7,0 8,0 7,0 8,0 7,1 8,0 7,0 8,0 7,0 8,0 7,0 8,1 7,0 8,0 7,0 8,0 7,0 8,0 7,1 8,0 7,0 8,0 7,0 8,0 7,0 8,1 7,0 8,0 7,0 8,0 7,0 8,0 7,1 8,0 7,0 8,0 7,0 8,0 7,0 8,1 7,0 8,0 7,0 8,0 7,0 8,1 7,0 8,0 7,0 8,0 7,0" transform="scale(.1)" fill="none" stroke="#77AC30" stroke-width="8.0" stroke-linejoin="round"/>
<path d="M3735,1704l7,3 8,5 7,5 8,5 7,6 8,5 7,5 8,5 7,5 8,3 7,2 8,1 7,1 8,0 7,1 8,0 7,1 8,0 7,0 8,1 7,0 8,1 7,0 8,1 7,0 8,0 7,1 8,0 7,1 8,0 7,1 8,0 7,0 8,1 7,0 8,1 7,0 8,1 7,0 8,0 7,0 8,0 7,0 8,0 7,0 8,0 7,0 8,0 7,0 8,0 7,0 8,0 7,0 8,0 7,0 8,0 7,0 8,0 7,0 8,0 7,0 8,0 7,0 8,0 7,0 8,0 7,0 8,0 7,0 8,0 7,0 8,0 7,0 8,0 7,0 8,0 7,0 8,0 7,0 8,0 7,0 8,0 7,0 8,0 7,0 8,0 7,0 8,0 7,0 8,0 7,0 8,0 7,0 8,0 7,0 8,0 7,0 8,0 7,0 7,0 8,0 7,0 8,0 7,0 8,0 7,0 8,0 7,0 8,0 7,0 8,0 7,0 8,0 7,0 8,0 7,0 8,0 7,0 8,0 7,0 8,0 7,0 8,0 7-1 8,0 7,0 8-1 7,0 8,0 7,0 8-1 7,0 8,0 7-1 8,0 7,0 8,0 7-1 8,0 7,0 8-1 7,0 8,0 7,0 8-1 7,0 8,0 7-1 8,0 7,0 8,0 7-1 8,0 7,0 8-1 7,0 8,0 7-1 8,0 7,0 8,0 7-1 8,0 7,0 8-1 7,0 8,0 7,0 8-1 7,0 8,0 7-1 8,0 7,0 8,0 7-1 8,0 7,0 8-1 7,0 8,0 7,0 8,0 7,0 8,0 7,0 8-1 7,0 8,0 7,0 8,0 7,0 8,0 7,0 8,0 7-1 8,0 7,0 8,0 7,0 7,0 8,0 7,0 8,0 7-1 8,0 7,0 8,0 7,0 8,0 7,0 8,0 7,0 8-1 7,0 8,0 7,0 8,0 7,0 8,0 7-1 8-1 7-1 8-1 7,0 8-1 7-1 8-1 7-1 8-1 7,0 8-1 7-1 8-1 7-1 8,0 7-1 8,0 7-1 8,0 7-1 8,0 7-1 8,0 7-1 8,0 7-1 8,0 7-1 8,0 7-1 8,0 7-1 8,0 7-1 8,0 7-1 8,0 7-1 8,0 7,0 8-1 7,0 8-1 7,0 8-1 7,0 8-1 7,0 8-1 7,0 8-1 7,0 8-1 7,0 8-1 7,0 8-1 7,0 8-1 7,0 8,0 7-1 8,0 7,0 8-1 7,0 8,0 7-1 8,0 7,0 8-1 7,0 8-1 7,0 8,0 7-1 8,0 7,0 7-1 8,0 7,0 8-1 7,0 8,0 7-1 8,0 7,0 8-1 7,0 8,0 7-1 8,0 7,0 8-1 7,0 8,0 7-1 8,0 7,0 8-1 7,0 8-1 7,0 8,0 7-1 8,0 7,0 8,0 7-1 8,1 7,0 8,0 7,1 8,0 7,1 8,0 7,1 8,0 7,0 8,1 7,0 8,1 7,0 8,1 7,0 8,0 7,1 8,0 7,1 8,0 7,1 8,0 7,0 8,1 7,0 8,1 7,0 8,1 7,0 8,0 7,1 8,0 7,1 8,0 7,1 8,0 7,0 8,1 7,0 8,1 7,1 8,0 7,1 8,1 7,1 8,0 7,1 8,1 7,1 8,0 7,1 8,1 7,0 8,1 7,1 8,1 7,0 8,1 7,1 8,0 7,1 8,1 7,1 8,0 7,1 8,1 7,0 8,1 7,1" transform="scale(.1)" fill="none" stroke="#4DBEEE" stroke-width="9.0" stroke-linejoin="round"/>
<path d="M3735,1737l7,0 8,1 7,1 8,1 7,1 8,0 7,1 8,1 7,1 8,1 7,1 8,1 7,0 8,1 7,1 8,1 7,1 8,1 7,1 8,0 7,1 8,1 7,1 8,1 7,1 8,1 7,1 8,0 7,1 8,1 7,1 8,1 7,1 8,1 7,0 8,1 7,1 8,1 7,1 8,0 7,1 8,0 7,0 8,0 7,0 8,0 7,0 8,0 7,0 8,0 7,0 8,0 7,0 8,0 7,0 8,0 7,0 8,0 7,0 8,0 7,0 8,0 7,0 8,0 7,0 8,0 7,0 8,0 7,0 8,0 7,0 8,0 7,0 8,0 7,0 8,0 7,0 8,0 7,0 8,0 7,0 8,0 7,0 8,0 7,0 8,0 7,0 8,0 7,0 8,0 7,0 8,0 7,0 8,0 7,0 8,0 7,0 8,0 7,0 7,0 8,0 7,0 8,0 7,0 8,0 7,0 8,0 7,0 8,0 7,0 8,0 7,0 8,0 7,0 8,0 7,0 8,0 7,0 8,0 7,0 8,0 7,0 8-1 7,0 8,0 7,0 8,0 7,0 8,0 7,0 8,0 7-1 8,0 7,0 8,0 7,0 8,0 7,0 8,0 7,0 8-1 7,0 8,0 7,0 8,0 7,0 8,0 7,0 8,0 7,0 8-1 7,0 8,0 7,0 8,0 7,0 8,0 7,0 8,0 7-1 8,0 7,0 8,0 7,0 8,0 7,0 8,0 7,0 8-1 7,0 8,0 7,0 8,0 7,0 8,0 7,0 8,0 7-1 8,0 7,0 8,0 7,0 8,0 7,0 8,0 7,0 8,0 7-1 8,0 7,0 8,0 7,0 8,0 7,0 8,0 7,0 8-1 7,0 8,0 7,0 7,0 8,0 7-1 8,0 7,0 8,0 7,0 8-1 7,0 8,0 7,0 8,0 7-1 8,0 7,0 8,0 7-1 8,0 7,0 8,0 7,0 8-1 7,0 8,0 7,0 8,0 7-1 8,0 7,0 8,0 7-1 8,0 7,0 8,0 7,0 8-1 7,0 8,0 7,0 8-1 7,0 8,0 7,0 8,0 7-1 8,0 7,0 8,0 7,0 8-1 7,0 8,0 7,0 8-1 7,0 8,0 7,0 8,0 7-1 8,0 7,0 8,0 7,0 8-1 7,0 8,0 7,0 8-1 7,0 8,0 7,0 8,0 7-1 8,0 7,0 8,0 7-1 8,0 7,0 8,0 7,0 8,0 7-1 8,0 7,0 8,0 7,0 8,0 7,0 8-1 7,0 8,0 7,0 8,0 7,0 8,0 7-1 8,0 7,0 7,0 8,0 7,0 8,0 7-1 8,0 7,0 8,0 7,0 8,0 7,0 8-1 7,0 8,0 7,0 8,0 7,0 8,0 7-1 8,0 7,0 8,0 7,0 8,0 7,0 8-1 7,0 8,0 7,0 8,0 7,0 8,0 7-1 8,0 7,0 8,0 7,0 8,0 7,0 8-1 7,0 8,0 7,1 8,0 7,0 8,0 7,0 8,0 7,0 8,1 7,0 8,0 7,0 8,0 7,0 8,0 7,1 8,0 7,0 8,0 7,0 8,0 7,0 8,1 7,0 8,0 7,0 8,0 7,0 8,0 7,1 8,0 7,0 8,0 7,0 8,0 7,0 8,1 7,0 8,0 7,0 8,0 7,0 8,0 7,1 8,0 7,0 8,0 7,0 8,0 7,0 8,1 7,0 8,0 7,0 8,0 7,0 8,0 7,1 8,0 7,0" transform="scale(.1)" fill="none" stroke="#A2142F" stroke-width="8.0" stroke-linejoin="round"/>
<path d="M3735,1778l3-7 3-1 3,1 3,3 3-5 3-1 3,1 3-7 3,3 3,8 3-2 3,1 3-5 3-4 3-2 3,5 3,4 3,1 3,2 3-14 3,8 3,1 3-10 3,10 3-3 3-2 3,9 3-2 3-20 3,12 3,10 3-6 3-2 3-4 3,3 3,4 3-5 3-5 3,7 3,1 3,0 3,4 3-15 3,3 3,1 3-1 3-6 3,7 3,3 3-10 3,14 3-9 3-7 3-2 3,6 3-1 3,0 3,0 3-1 3-7 3,4 3-5 3,5 3,5 3,1 3-10 3,13 3-6 3,9 3-5 3,5 3,1 3,3 3,0 3-3 3-4 3,5 3,6 3-5 3,14 3-11 3-10 3,20 3-9 3-6 3-4 3,3 3,7 3-10 3,0 3,8 3-2 3,4 3-2 3-8 3,11 3-10 3,3 3,0 3,3 3-6 3,3 3,0 3,5 3-7 3,1 3-6 3,2 3,1 3,1 3,0 3-1 3-6 3,8 3,0 3-8 3-6 3,4 3,2 3-11 3,7 3,3 3-4 3-4 3,5 3-6 3,4 3-3 3-2 3,12 3-17 3,2 3,0 3,0 3,1 3-8 3,5 3-4 3,10 3-17 3,7 3-1 3,5 3-1 3-7 3,15 3-20 3,8 3-1 3-4 3-9 3,6 3-4 3,9 3-4 3-6 3,9 3,7 3-6 3,0 3,1 3-3 3,2 3,6 3-2 3,4 3,1 3,6 3-6 3,6 3-7 3,11 3-11 3,9 3-7 3,6 3-1 3-8 3,10 3-12 3-5 3,5 3,10 3-10 3,2 3-1 3,0 3-5 3-3 3,5 3-5 3,8 3-13 3,14 3,0 3-4 3-5 3-1 3,12 3-7 3,0 3-8 3,13 3,6 3,2 3-6 3-2 3,3 3,2 3,4 3-2 3,0 3-10 3,13 3,5 3-2 3,0 3,10 3-9 3,0 3,0 3,5 3-4 3-2 3-3 3,2 3,6 3-9 3-4 3,7 3,10 3-15 3-2 3,5 3,1 3-7 3,1 3,3 3,0 3-2 3-4 3,4 3,6 3-3 3-3 3-1 3,4 3-6 3,6 2-7 3-3 3,4 3,3 3-2 3,12 3-16 3,10 3,1 3-2 3,2 3-4 3,1 3-1 3-5 3,3 3,5 3-2 3,3 3-8 3,9 3-3 3-9 3,9 3-2 3-2 3,9 3-8 3-3 3,3 3-1 3,6 3-4 3,2 3-1 3,6 3-3 3-4 3,5 3-5 3-4 3,6 3,1 3-2 3,6 3-1 3,3 3,0 3-6 3,22 3,8 3,6 3,2 3-1 3,0 3-3 3,3 3-3 3,3 3,0 3,0 3-8 3,12 3-5 3-3 3,1 3,6 3,0 3-4 3-5 3,2 3,3 3,1 3,0 3,0 3,5 3,0 3-6 3-8 3,7 3,8 3-3 3-4 3,4 3-5 3,4 3,0 3,2 3-7 3,0 3,0 3-1 3,3 3-5 3,9 3-7 3,4 3,1 3,1 3-6 3,2 3-4 3,8 3-4 3,5 3-7 3-3 3,10 3-9 3,9 3-11 3,6 3-2 3,7 3-11 3,7 3,1 3-6 3,8 3-2 3,0 3,2 3-8 3-3 3,11 3-10 3,2 3,6 3-4 3-6 3,11 3,0 3,2 3-13 3,4 3,8 3-3 3-3 3,3 3-6 3,5 3-5 3,4 3,0 3,4 3-4 3-2 3,10 3-9 3-3 3,1 3,2 3,3 3,4 3-1 3-2 3,2 3-4 3,2 3-1 3-6 3,4 3-2 3,10 3-9 3,5 3-10 3,13 3-3 3-6 3-6 3,15 3-5 3,2 3-10 3-2 3,8 3-3 3,6 3,2 3-6 3,4 3-5 3,4 3-7 3,6 3,0 3-4 3,3 3-5 3,8 3,2 3-8 3,2 3,4 3,2 3-1 3-3 3,1 3,3 3-3 3-9 3-8 3-7 3,3 3-4 3-13 3-2 3-11 3-9 3-7 3-16 3-9 3-16 3-25 3-21 3,0 3-16 3-22 3-25 3-13 3-32 3-31 3-11 3-29 3-33 3-24 3-11 3-23 3-16 3-5 3-14 3,4 3,12 3,16 3,25 3,23 3,19 3,23 3,27 3,35 3,48 3,43 3,40 3,33 3,40 3,30 3,17 3-17 3-30 3-42 3-32 3-39 3-29 3-28 3-20 3-32 3-17 3-12 3,12 3,16 3,21 3,11 3,30 3,2 3,14 3,11 3,7 3,6 3,7 3,4 3,16 3,7 3-2 3,2 3,11 3,1 3-3 3,5 3-3 3,8 3,2 3-12 3,13 3,4 3,11 3,11 3-2 3,5 3,14 3,6 3,3 3,10 3,13 3-3 3,7 3,17 3-8 3,20 3,7 3,5 3,2 3,4 3,8 3-7 3-2 3,5 3,7 3-5 3-2 3-6 3,5 3-4 3-10 3,12 3,1 3-5 3-1 3-1 3,6 3,5 3,3 3-4 3-2 3,3 3,1 3-4 3,0 3,1 3-10 3,3 3,10 3-10 3,5 3,3 3-1 3-14 3,12 3,3 3-3 3-4 3,3 3,1 3,3 3-1 3,3 3-6 3-2 3,0 3,3 3-6 3,3 3-1 3,7 3-3 3,0 3-7 3,5 3,0 3,0 3-8 3,9 3,0 3-4 3,1 3-7 3,1 3,3 3,2 3-1 3-6 3,4 3-1 3,12 3-5 3-5 3-3 3-1 3,3 3,7 3-8 3,4 3,5 3-5 3-3 3-2 3-3 3,2 3,1 3,2 3-3 3,5 3-8 3,2 3-4 3,1 3,4 3-1 3-1 3,0 3,10 3-7 3-12 3,7 3-6 3,8 3,4 3-6 3,0 3,1 3-8 3-2 3,9 3-11 3,5 3,10 3-8 3,3 3,3 3,8 3-8 3,6 3-10 3,14 3,3 3-8 3,8 3-10 3,11 3-6 3,8 3-1 3-1 3,4 3-5 3,6 3-9 3,2 3,11 3-15 3,7 3,5 3-5 3,1 3-3 3-1 3-1 3,10 3-6 3,4 3,4 3-3 3,1 3-7 3,3 3-2 3,1 3,0 3-2 3,6 3-3 3,0 3,1 3,2 3-6 3-3 3-11 3-3 3-12 3-6 3-16 3-17 3-15 3-6 3-18 3-19 3-29 3-28 3-28 3-38 3-37 3-18 3-15 3-1 3,0 3,13 3,8 3,30 3,21 3,22 3,28 3,31 3,27 3,31 3,24 3,32 3,19 3,25 3,1 3,2 2-2 3-12 3-11 3-6 3-7 3,1 3-6 3-8 3-4 3-8 3-5 3-2 3,7 3-11 3,14 3-7 3,0 3-3 3,0 3-6 3,7 3-7 3,7 3-5 3-3 3-3 3,9 3,3 3-17 3,10 3-4 3-1 3-8 3,1 3-3 3-2 3,3 3,2 3-8 3,0 3,2 3,8 3-7 3-6 3,3 3-7 3-9 3,10 3-2 3-4 3-5 3,16 3-9 3-9 3,5 3,6 3-11 3,8 3-9 3,0 3,7 3,5 3-7 3,5 3,1 3,2 3,1 3,3 3-6 3-1 3,10 3,3 3-8 3-1 3,5 3,0 3,3 3,5 3,4 3,4 3-1 3,9 3-11 3,13 3-4 3,1 3,4 3,2 3,6 3,0 3-3 3,2 3,11 3-5 3,8 3-7 3,0 3,7 3-12 3,12 3-10 3,13 3-10 3,12 3-6 3,4 3-6 3,5 3-2 3-2 3,6 3-2 3-5 3,4 3-8 3,8 3-19 3,3 3,9 3-4 3-2 3,1 3,8 3,10 3,11 3,18 3-1 3,3 3-2 3,4 3,8 3-4 3-12 3,12 3-4 3,7 3,2 3-1 3,3 3-4 3,5 3,4 3-15 3-3 3,1 3-5 3-8 3-2 3,2 3-14 3-8 3,7 3,0 3-12 3-6 3,2 3-11 3-14 3-9 3,14 3,19 3,22 3,22 3,0 3-2 3,16 3-6 3,2 3,3 3-3 3,7 3-7 3,6 3,5 3-5 3,2 3-5 3,5 3,2 3-9 3,7 3-1 3-4 3,8 3-2 3,3 3-12 3,13 3,1 3,0 3-13 3,3 3,8 3,0 3-13 3,13 3-3 3,3 3-14 3,14 3,3 3-7 3,0 3,2 3,2 3,5 3-4 3-12 3,15 3-13 3-4 3,4 3,4 3-4 3,0 3,11 3-8 3,7 3,4 3-13 3,7 3-5 3,5 3-11 3,0 3,2 3,1 3-2 3-5 3,2 3,0 3-7 3,2 3,0 3,4 3,13 3-3 3,5 3,2 3-6 3,2 3-3 3,3 3-4 3,3 3-2 3-3 3-3 3,9 3,7 3-2" transform="scale(.1)" fill="none" stroke="#000000" stroke-width="10.0" stroke-linejoin="round"/>
<line x1="373.5" y1="23.46" x2="674.3" y2="23.46" stroke="#dc1e26" stroke-width="1.7" stroke-dasharray="4.2 4.35"/>
<line x1="373.5" y1="178.8" x2="373.5" y2="5.7" stroke="#a8a8a8" stroke-width="1.4"/>
<line x1="373.5" y1="178.8" x2="376.7" y2="178.8" stroke="#aaa" stroke-width="0.9"/>
<line x1="373.5" y1="135.7" x2="376.7" y2="135.7" stroke="#aaa" stroke-width="0.9"/>
<line x1="373.5" y1="92.5" x2="376.7" y2="92.5" stroke="#aaa" stroke-width="0.9"/>
<line x1="373.5" y1="49.4" x2="376.7" y2="49.4" stroke="#aaa" stroke-width="0.9"/>
<line x1="373.5" y1="6.2" x2="376.7" y2="6.2" stroke="#aaa" stroke-width="0.9"/>
<text x="365.5" y="182.2" class="tk" style="font-size:10.3px" textLength="4.4" lengthAdjust="spacingAndGlyphs">0</text>
<text x="359.0" y="139.1" class="tk" style="font-size:10.3px" textLength="10.9" lengthAdjust="spacingAndGlyphs">0.1</text>
<text x="359.0" y="95.9" class="tk" style="font-size:10.3px" textLength="10.9" lengthAdjust="spacingAndGlyphs">0.2</text>
<text x="359.0" y="52.8" class="tk" style="font-size:10.3px" textLength="10.9" lengthAdjust="spacingAndGlyphs">0.3</text>
<text x="359.0" y="9.6" class="tk" style="font-size:10.3px" textLength="10.9" lengthAdjust="spacingAndGlyphs">0.4</text>
<text x="366.9" y="191.2" class="tk" style="font-size:10.3px" textLength="13.1" lengthAdjust="spacingAndGlyphs">400</text>
<text x="396.9" y="191.2" class="tk" style="font-size:10.3px" textLength="13.1" lengthAdjust="spacingAndGlyphs">600</text>
<text x="426.9" y="191.2" class="tk" style="font-size:10.3px" textLength="13.1" lengthAdjust="spacingAndGlyphs">800</text>
<text x="454.7" y="191.2" class="tk" style="font-size:10.3px" textLength="17.5" lengthAdjust="spacingAndGlyphs">1000</text>
<text x="484.7" y="191.2" class="tk" style="font-size:10.3px" textLength="17.5" lengthAdjust="spacingAndGlyphs">1200</text>
<text x="514.6" y="191.2" class="tk" style="font-size:10.3px" textLength="17.5" lengthAdjust="spacingAndGlyphs">1400</text>
<text x="544.6" y="191.2" class="tk" style="font-size:10.3px" textLength="17.5" lengthAdjust="spacingAndGlyphs">1600</text>
<text x="574.6" y="191.2" class="tk" style="font-size:10.3px" textLength="17.5" lengthAdjust="spacingAndGlyphs">1800</text>
<text x="604.6" y="191.2" class="tk" style="font-size:10.3px" textLength="17.5" lengthAdjust="spacingAndGlyphs">2000</text>
<text x="634.6" y="191.2" class="tk" style="font-size:10.3px" textLength="17.5" lengthAdjust="spacingAndGlyphs">2200</text>
<text x="664.5" y="191.2" class="tk" style="font-size:10.3px" textLength="17.5" lengthAdjust="spacingAndGlyphs">2400</text>
<text x="480.2" y="202.0" class="lab" style="font-size:9.8px" textLength="11.6" lengthAdjust="spacingAndGlyphs">(b)</text>
<text x="499.5" y="202.0" class="lab" style="font-size:9.8px" textLength="66.5" lengthAdjust="spacingAndGlyphs">Wavelength(nm)</text>
<g transform="translate(354.5,97.0) rotate(-90) scale(0.9,1)"><text x="0" y="0" class="lab" style="font-size:9.5px">R<tspan dx="0.8" dy="-5.0" style="font-size:7px">2</tspan></text></g>
<path d="M307,3857l3,0 3,0 3,0 3,0 3,0 3,0 2,0 3,0 3,0 3,0 3,0 3,0 3,0 3,0 3,0 3,0 3,0 3,0 3,0 3,0 2,0 3,0 3,0 3,0 3,0 3,0 3,0 3,0 3,0 3,0 3,0 3,0 3,0 3,0 2,0 3,0 3,0 3,0 3,0 3,0 3,0 3,0 3,0 3,0 3,0 3,0 3,0 3,0 2,0 3,0 3,0 3,0 3,0 3,0 3,0 3,0 3,0 3,0 3,0 3,0 3,0 3,0 2,0 3,0 3,0 3,0 3,0 3,0 3,0 3,0 3,0 3,0 3,0 3,0 3,0 3,0 2,0 3,0 3,0 3,0 3,0 3,0 3,0 3,0 3,0 3,0 3,0 3,0 3,0 3,0 2,0 3,0 3,0 3,0 3,0 3,0 3,0 3,0 3,0 3,0 3,0 3,0 3,0 2-2 3-5 3-10 3-13 3-15 3-15 3-15 3-15 3-14 3-14 3-14 3-13 3-13 3-12 2-11 3-10 3-7 3-6 3-5 3-5 3-6 3-5 3-6 3-5 3-5 3-6 3-4 3-3 2-3 3-1 3-2 3-1 3-1 3-2 3-1 3-1 3-2 3-1 3-1 3-2 3-1 3-1 2-2 3-1 3-1 3-2 3-1 3-1 3,0 3-1 3-1 3-1 3-1 3,0 3-1 3-1 2-1 3-1 3,0 3-1 3-1 3-1 3,0 3,0 3,1 3,1 3,1 3,1 3,1 3,1 2,1 3,2 3,1 3,1 3,1 3,1 3,1 3,1 3,1 3,1 3,1 3,2 3,1 2,1 3,1 3,1 3,1 3,1 3,1 3,1 3,1 3,1 3,2 3,1 3,1 3,1 3,1 2,1 3,0 3,0 3-1 3,0 3-1 3,1 3,1 3,3 3,4 3,4 3,4 3,5 3,4 2,4 3,4 3,4 3,5 3,4 3,4 3,4 3,4 3,4 3,4 3,3 3,4 3,4 3,3 2,4 3,4 3,5 3,6 3,11 3,14 3,16 3,17 3,17 3,15 3,15 3,14 3,13 3,11 2,7 3,3 3,1 3,0 3,0 3,0 3,0 3,0 3,0 3,0 3,0 3,0 3,0 3,0 2,0 3,0 3,0 3,0 3,0 3,0 3,0 3,0 3,0 3,0 3,0 3,0 3,0 3,0 2,0 3,0 3,0 3,0 3,0 3,0 3,0 3,0 3,0 3,0 3,0 3,0 3,0 2,0 3,0 3,0 3,0 3,0 3,0 3,0 3,0 3,0 3,0 3,0 3,0 3,0 3,0 2,0 3,0 3,0 3,0 3,0 3,0 3,0 3,0 3,0 3,0 3,0 3,0 3,0 3,0 2,0 3,0 3,0 3,0 3,0 3,0 3,0 3,0 3,0 3,0 3,0 3,0 3,0 3,0 2,0 3,0 3,0 3,0 3,0 3,0 3,0 3,0 3,0 3,0 3,0 3,0 3,0 3,0 2,0 3,0 3,0 3,0 3,0 3,0 3,0 3,0 3,0 3,0 3,0 3,0 3,0 3,0 2,0 3,0 3,0 3,0 3,0 3,0 3,0 3,0 3,0 3,0 3,0 3,0 3,0 3,0 2,0 3,0 3,0 3,0 3,0 3,0 3,0 3,0 3,0 3,0 3,0 3,0 3,0 2,0 3,0 3,0 3,0 3,0 3,0 3,0 3,0 3,0 3,0 3,0 3,0 3,0 3,0 2,0 3,0 3,0 3,0 3,0 3,0 3,0 3,0 3,0 3,0 3,0 3,0 3,0 3,0 2,0 3,0 3,0 3,0 3,0 3,0 3,0 3,0 3,0 3,0 3,0 3,0 3,0 3,0 2,0 3,0 3,0 3,0 3,0 3,0 3,0 3,0 3,0 3,0 3,0 3,0 3,0 3,0 2,0 3,0 3,0 3,0 3,0 3,0 3,0 3,0 3,0 3,0 3,0 3,0 3,0 3,0 2,0 3,0 3,0 3,0 3,0 3,0 3,0 3,0 3,0 3,0 3,0 3,0 3,0 3,0 2,0 3,0 3,0 3,0 3,0 3,0 3,0 3,0 3,0 3,0 3,0 3,0 3,0 2,0 3,0 3,0 3,0 3,0 3,0 3,0 3,0 3,0 3,0 3,0 3,0 3,0 3,0 2,0 3,0 3,0 3,0 3,0 3,0 3,0 3,0 3,0 3,0 3,0 3,0 3,0 3,0 2,0 3,0 3,0 3,0 3,0 3,0 3,0 3,0 3,0 3,0 3,0 3,0 3,0 3,0 2,0 3,0 3,0 3,0 3,0 3,0 3,0 3,0 3,0 3,0 3,0 3,0 3,0 3,0 2,0 3,0 3,0 3,0 3,0 3,0 3,0 3,0 3,0 3,0 3,0 3,0 3,0 3,0 2,0 3,0 3,0 3,0 3,0 3,0 3,0 3,0 3,0 3,0 3,0 3,0 3,0 2,0 3,0 3,0 3,0 3,0 3,0 3,0 3,0 3,0 3,0 3,0 3,0 3,0 3,0 2,0 3,0 3,0 3,0 3,0 3,0 3,0 3,0 3,0 3,0 3,0 3,0 3,0 3,0 2,0 3,0 3,0 3,0 3,0 3,0 3,0 3,0 3,0 3,0 3,0 3,0 3,0 3,0 2,0 3,0 3,0 3,0 3,0 3,0 3,0 3,0 3,0 3,0 3,0 3,0 3,0 3,0 2,0 3,0 3,0 3,0 3,0 3,0 3,0 3,0 3,0 3,0 3,0 3,0 3,0 3,0 2,0 3,0 3,0 3,0 3,0 3,0 3,0 3,0 3,0 3,0 3,0 3,0 3,0 3,0 2,0 3,0 3,0 3,0 3,0 3,0 3,0 3,0 3,0 3,0 3,0 3,0 3,0 2,0 3,0 3,0 3,0 3,0 3,0 3,0 3,0 3,0 3,0 3,0 3,0 3,0 3,0 2,0 3,0 3,0 3,0 3,0 3,0 3,0 3,0 3,0 3,0 3,0 3,0 3,0 3,0 2,0 3,0 3,0 3,0 3,0 3,0 3,0 3,0 3,0 3,0 3,0 3,0 3,0 3,0 2,0 3,0 3,0 3,0 3,0 3,0 3,0 3,0 3,0 3,0 3,0 3,0 3,0 3,0 2,0 3,0 3,0 3,0 3,0 3,0 3,0 3,0 3,0 3,0 3,0 3,0 3,0 3,0 2,0 3,0 3,0 3,0 3,0 3,0 3,0 3,0 3,0 3,0 3,0 3,0 3,0 3,0 2,0 3,0 3,0 3,0 3,0 3,0 3,0 3,0 3,0 3,0 3,0 3,0 3,0 2,0 3,0 3,0 3,0 3,0 3,0 3,0 3,0 3,0 3,0 3,0 3,0 3,0 3,0 2,0 3,0 3,0 3,0 3,0 3,0 3,0 3,0 3,0 3,0 3,0 3,0 3,0 3,0 2,0 3,0 3,0 3,0 3,0 3,0 3,0 3,0 3,0 3,0 3,0 3,0 3,0 3,0 2,0 3,0 3,0 3,0 3,0 3,0 3,0 3,0 3,0 3,0 3,0 3,0 3,0 3,0 2,0 3,0 3,0 3,0 3,0 3,0 3,0 3,0 3,0 3,0 3,0 3,0 3,0 3,0 2,0 3,0 3,0 3,0 3,0 3,0 3,0 3,0 3,0 3,0 3,0 3,0 3,0 3,0 2,0 3,0 3,0 3,0 3,0 3,0 3,0 3,0 3,0 3,0 3,0 3,0 3,0 2,0 3,0 3,0 3,0 3,0 3,0 3,0 3,0 3,0 3,0 3,0 3-1 3-2 3-6 2-11 3-16 3-18 3-18 3-17 3-18 3-15 3-12 3-10 3-7 3-6 3-3 3,2 3,7 2,11 3,11 3,14 3,17 3,20 3,21 3,21 3,18 3,11 3,5 3,1 3,1 3,0 3,0 2,0 3,0 3,0 3,0 3,0 3,0 3,0 3,0 3,0 3,0 3,0 3,0 3,0 3,0 2,0 3,0 3,0 3,0 3,0 3,0 3,0 3,0 3,0 3,0 3,0 3,0 3,0 3,0 2,0 3,0 3,0 3,0 3,0 3,0 3,0 3,0 3,0 3,0 3,0 3,0 3,0 2,0 3,0 3,0 3,0 3,0 3,0 3,0 3,0 3,0 3,0 3,0 3,0 3,0 3,0 2,0 3,0 3,0 3,0 3,0 3,0 3,0 3,0 3,0 3,0 3,0 3,0 3,0 3,0 2,0 3,0 3,0 3,0 3,0 3,0 3,0 3,0 3,0 3,0 3,0 3,0 3,0 3,0 2,0 3,0 3,0 3,0 3,0 3,0 3,0 3,0 3,0 3,0 3,0 3,0 3,0 3,0 2,0 3,0 3,0 3,0 3,0 3,0 3,0 3,0 3,0 3,0 3,0 3,0 3,0 3,0 2,0 3,0 3,0 3,0 3,0 3,0 3,0 3,0 3,0 3,0 3,0 3,0 3,0 3,0 2,0 3,0 3,0 3,0 3,0 3,0 3,0" transform="scale(.1)" fill="none" stroke="#0072BD" stroke-width="9.0" stroke-linejoin="round"/>
<path d="M307,3851l6-22 4,34 7-14 3,0 8-55 3,57 6-50 4,64 6-16 4,0 7,0 3,16 7-41 4,28 6-50 4,58 6-40 4,44 6-9 4,6 5-22 6,31 4-104 6,84 6,0 4,16 5-10 5,9 8-20 3,10 6-60 4,61 7-5 3,0 4-22 6,28 7-4 4,0 3,0 7,6 3,0 7,8 4-39 6,24 6-59 5,72 6-76 4,65 5-5 5,12 4-70 6,77 4-136 7,125 3-75 7,80 5-6 5,7 4-6 6,4 4-7 7,0 4-89 6,91 6-3 4,1 3-67 7,73 4-70 7,69 4-12 6,8 5-13 5,9 4-47 6,56 7-11 4,0 4,0 6,18 6-12 4,0 4-68 6,68 4,0 7,8 4-185 6,192 4-12 6,0 6-65 4,69 7-73 4,64 3-221 7,224 4-23 6,24 4-63 6,73 4-12 7,0 4-19 6,30 6-10 4,0 7,0 3,3 5,0 6,9 5-18 5,0 7,0 3,3 6-66 4,72 5-52 6,54 6,0 4,1 5-21 5,27 5-14 5,11 7-3 4,0 4-64 6,0 5,0 5,39 7-130 3,135 6-117 5,84 7-11 3,68 5-274 5,230 4-163 6,155 4-83 7,76 5-159 5,200 5-240 5,233 7-64 3,37 5-80 6,102 5-55 5,74 5-302 5,304 3-178 7,189 6-260 5,251 6,0 4,10 6-56 4,53 6-15 4,0 6-6 5,17 5-83 5,84 5-57 5,43 4,0 6,7 3-47 8,56 5-39 5,36 4-46 6,40 3-10 7,21 5-18 6,0 5,0 5,3 6,0 4,12 6-101 4,105 7-28 3,8 5-9 6,16 4-316 6,313 3,0 7,15 7-53 3,37 8-3 3,18 4-25 6,14 4-266 6,262 6-39 4,51 7-117 4,103 3,0 7,12 5-95 5,98 7-15 3,4 5-69 6,73 6,0 4,3 5-254 5,261 5-57 5,40 6-14 5,18 6-78 4,94 5-45 5,34 5-82 5,85 4-12 7,7 6,0 4,8 5-102 5,98 5-64 5,60 4-7 7,0 4-91 6,99 4-93 6,99 6-15 4,0 7-7 4,26 3-65 7,67 6-303 4,294 6-72 4,70 5-60 6,55 4-438 6,450 7-8 3,2 5-7 5,0 7,0 4,12 5-19 5,7 3-4 7,0 5-55 5,57 5,19 6,0 5,0 5,0 7,0 3,0 5,0 5,0 4,0 7,0 6,0 4,0 4,0 6,0 4,0 6,0 5,0 6,0 3,0 7,0 5,0 5,0 4,0 6,0 7,0 4,0 5,0 5,0 5,0 5,0 7-46 3,31 5,0 6,11 6-53 4,46 5-51 5,47 5-189 5,187 6-227 5,224 5-36 5,47 3-76 7,64 4-67 6,67 4-1 7,12 4-93 6,92 7-52 3,53 4-383 6,390 4-34 7,28 5-47 5,49 4-72 6,78 7-20 3,19 7-30 4,21 6-356 4,347 4,0 6,7 4-69 6,70 5-14 6,24 5-396 5,378 4-79 6,97 6-106 4,88 5-82 6,85 5,0 5,2 6-58 4,67 4-92 6,78 6-59 5,68 3-57 7,53 7-19 3,28 7-28 3,23 7-365 4,371 4-68 6,68 5-107 5,100 7,0 3,2 6-34 4,38 8-13 3,19 3-31 7,24 4-54 6,46 3-5 7,18 6-40 5,33 6-36 4,32 4,0 6,3 7-94 3,103 5-82 6,66 5,0 5,5 4-17 6,10 3-55 7,74 6,0 5,0 4,0 6,0 7,0 3,0 7,0 3,0 8,0 3,0 4,0 6,0 6,0 4,0 7,0 3,0 4,0 7,0 4,0 6,0 5,0 5,0 7,0 3,0 4,0 7,0 4,0 6,0 4,0 6,0 5,0 5,0 4,0 7,0 6,0 4,0 4,0 6,0 7,0 3,0 7,0 4,0 7,0 3,0 4,0 6,0 4,0 6,0 5,0 6,0 4,0 6,0 6,0 4,0 3,0 7,0 4-16 7,0 7-329 3,328 4-16 6,12 7-9 3,25 7-319 4,321 6,0 4,0 7-343 3,331 5-78 5,73 4-71 7,77 4-27 6,39 5-84 5,75 4-51 6,48 5,0 6,7 6-45 4,43 5-43 5,35 7-3 3,15 4-52 7,52 3-50 7,54 5-9 5,9 5-10 5,0 4-50 7,60 4-75 6,70 7-57 3,46 7-36 3,32 4-40 7,45 7-196 3,211 5-31 5,14 5-99 5,99 4-29 7,40 3-100 7,93 3-202 7,204 4,0 6,7 5-56 6,55 4-7 6,7 7-52 3,37 7-82 3,93 4-89 7,80 4-21 6,19 6,0 4,18 6-22 4,13 4-18 7,13 5-22 5,26 4-12 6,20 5-85 5,74 7-43 4,43 4-89 6,96 3-33 7,40 4-18 6,18 5-68 6,67 6-44 4,42 6-75 4,62 3,0 7,1 7-25 3,37 6-99 5,86 5,0 5,5 5-2 5,0 4-2 6,5 6-321 5,319 3-59 7,64 7-40 3,39 4-14 6,4 5-79 6,81 4,0 6,8 6-14 4,4 7-2 3,10" transform="scale(.1)" fill="none" stroke="#D95319" stroke-width="8.0" stroke-linejoin="round"/>
<path d="M307,3826l5-83 3,84 3-126 5,149 3-136 5,99 4-5 4,0 4-62 4,92 5-153 3,128 3-8 5,1 4-260 4,280 3-119 5,104 5-99 4,121 2-28 6,13 4-71 4,84 3-94 5,119 3-125 5,112 4-74 4,63 4-108 4,122 3-40 5,8 3-89 5,83 3-100 5,137 5-48 3,47 3-13 5,2 6-89 2,70 4,0 4,29 5-68 3,52 4-260 4,284 4-114 4,115 5-154 3,143 6-15 2,25 6-82 2,50 4-78 5,67 2,0 6,31 3-323 5,296 2-72 6,87 5-27 3,50 5-196 3,172 5-186 3,172 5,0 3,32 4-23 4,12 4,0 4,10 6-135 2,115 4-20 4,39 6-20 2,12 4-104 4,101 4-95 4,86 3-15 5,0 4,0 4,2 3-120 5,149 6-6 2,0 4-122 5,145 4-138 4,121 3-50 5,48 4-17 4,0 4-39 4,38 3-59 5,52 2-74 6,77 3-228 5,264 2-135 6,117 3-132 5,125 3-83 5,105 3-166 5,137 5-35 3,31 5-169 3,172 4-102 4,125 5-316 3,321 3-215 5,221 5-24 3,29 6-63 2,60 3-61 5,61 5-201 4,157 3-19 5,32 4-66 4,65 3-16 5,7 5-105 3,143 4-163 4,122 5-50 3,52 4-87 4,124 4-100 4,101 3-54 5,25 4-6 4,16 3,0 5,16 5-46 3,21 6-176 2,206 5-85 3,42 4,0 4,38 5-132 3,133 5-21 3,0 4-116 4,115 4-18 5,18 5-86 3,86 3-220 5,230 2-87 6,82 4-68 4,51 3,0 5,31 4-104 4,99 4-91 4,87 2-80 6,93 5-65 3,55 3-97 5,85 6-179 2,178 3-344 5,325 3,0 5,29 4-204 4,196 5-39 3,32 3-5 5,0 5-7 3,0 5,0 3,37 5-101 4,111 3-49 5,0 3-48 5,78 2-21 6,34 3-65 5,38 3-109 5,104 5-179 3,201 3-109 5,85 5-197 3,223 4-56 4,59 4-69 4,40 4-86 4,90 3-78 5,84 3-157 5,177 4-52 4,46 4-48 4,28 6-118 2,120 3-82 5,81 5,0 3,6 5-136 3,158 5-20 4,14 5-127 3,138 3-183 5,141 3-44 5,53 3-12 5,29 2-31 6,46 5-70 3,24 5,0 3,47 5-61 3,38 4-110 4,91 3-4 5,30 5-11 3,22 4-29 4,29 5-16 3,22 6-45 2,26 3-52 5,42 4-84 4,100 5-55 3,48 5-7 3,0 4-101 5,100 5-109 3,118 2-83 6,66 5-70 3,95 4-55 4,23 3-134 5,148 4-39 4,64 3-54 5,39 5-12 3,21 4-40 4,32 5-6 3,19 5-82 3,76 6-99 2,107 4-117 4,94 5-8 3,0 4-11 4,38 4-127 4,86 4-94 4,130 4-122 4,93 4-152 4,183 5-54 4,65 4-56 4,55 5-59 3,59 4-64 4,19 5-234 3,255 3-37 5,21 3-38 5,52 3,42 5,0 4,0 4,0 5,0 3,0 4,0 4,0 5,0 3,0 3,0 5,0 4,0 4,0 6,0 2,0 5,0 3,0 4,0 4,0 6,0 2,0 5,0 3,0 6,0 3,0 3,0 5,0 4,0 4,0 2,0 6,0 3,0 5,0 5,0 3,0 5,0 3,0 3-88 5,59 2-300 6,272 4,0 4,6 4-234 4,269 5-164 3,140 3-132 5,139 3-71 5,82 3-77 5,60 4-86 4,61 5,0 3,13 6-3 2,0 3-18 5,32 3-31 5,54 6-29 3,31 2-196 6,195 4-135 4,91 2-21 6,25 5-21 3,41 5-57 3,70 4-155 4,122 4-16 4,32 4-65 4,64 3-98 5,74 4-244 4,278 6-192 2,209 4-83 4,33 4-92 4,106 4-101 4,130 3-18 5,1 3-67 5,83 5-121 3,96 5-32 3,22 4-59 5,64 4-64 4,85 4-7 4,24 4-120 4,99 3-311 5,299 3-38 5,38 3-16 5,0 3-44 5,70 3-257 5,240 5,0 3,9 4-71 4,65 4-41 4,57 4-28 4,0 3,0 5,45 3-20 5,0 4-82 4,77 4-255 4,240 4-85 4,94 5-22 3,37 6-67 3,74 3-82 5,67 3-21 5,1 5-60 3,76 3-55 5,77 3-175 5,144 2-104 6,134 2-14 6,16 5-167 3,153 5-112 3,103 5-248 3,237 4-6 4,42 5,21 3,0 4,0 4,0 5,0 3,0 4,0 4,0 6,0 2,0 3,0 5,0 3,0 5,0 6,0 2,0 5,0 4,0 3,0 5,0 4,0 4,0 3,0 5,0 3,0 5,0 3,0 5,0 5,0 3,0 5,0 3,0 3,0 5,0 6,0 2,0 3,0 5,0 3,0 5,0 5,0 3,0 4,0 4,0 5,0 3,0 4,0 4,0 3,0 5,0 6,0 2,0 3,0 5,0 4,0 5,0 3,0 5,0 2,0 6,0 3,0 5,0 5,0 3,0 5,0 3,0 5,0 3,0 3,0 5,0 5,0 3,0 5-45 3,24 4-81 4,53 4-56 4,89 4-72 4,70 4-151 4,151 4-30 4,4 6-62 2,75 4-37 4,54 5-106 3,82 5-9 3,5 3-46 5,48 4-124 5,116 3-501 5,498 3-69 5,67 5-100 3,99 4-18 4,18 4-231 4,272 5-121 3,104 5-94 3,78 3-10 5,24 6-68 2,52 4-89 4,79 4-6 4,0 5,0 3,44 5-105 3,68 4-69 4,66 5-8 3,33 3-20 5,31 5-161 3,121 4-212 4,257 4-134 5,96 2-80 6,109 3-113 5,80 3-82 5,88 5-255 3,257 5-18 3,22 5-3 3,0 4-207 4,228 5-126 3,97 5,0 3,25 3-138 5,149 3-89 5,80 5-2 3,21 3-29 5,11 5-15 3,25 4-253 4,234 5-79 3,70 5-56 3,86 3-40 5,0 6-8 2,36 5-127 4,142 3-38 5,34 3-78 5,41 2-4 6,0 4-17 4,53 5-173 3,170 5-142 3,158 5-31 3,6 5-19 3,24 3-109 5,120 5-29 3,0 4-64 4,93 6-151 2,152 3-19 5,0 4-105 4,112 3-83 5,98 3-42 5,22 3-127 5,148 5-74 3,45 3-3 6,21 2-68 6,78 4-26 4,29 5-88 3,39 3-41 5,72 3-96 5,113 4-84 4,42 2-74 6,93 4-42 4,32 4-127 4,136 4-29 4,43 5-277 3,260 4,0 4,2 5-32 3,54V3870H307Z" transform="scale(.1)" fill="#7E2F8E" stroke="#7E2F8E" stroke-width="8.0" stroke-linejoin="round"/>
<path d="M307,3861l7,0 8,0 7,0 7,0 8,0 7,0 7,0 8,0 7,0 7,0 8,0 7,0 7,0 7,0 8,0 7,0 7,0 8,0 7,0 7,0 8,0 7,0 7,0 8,0 7,0 7,0 8,0 7,0 7,0 8,0 7,0 7,0 8,0 7,0 7,0 8,0 7,0 7,0 7,0 8,0 7,0 7,0 8-1 7-2 7-2 8-1 7-2 7-1 8-2 7-1 7-1 8-1 7-1 7-1 8-1 7-1 7-1 8-1 7,0 7-1 7,0 8,1 7,0 7,0 8,1 7,0 7,1 8,0 7,1 7,0 8,1 7,0 7,1 8,1 7,0 7,1 8,1 7,0 7,1 8,1 7,0 7,1 8,0 7,1 7,1 7,0 8,1 7,1 7,0 8,1 7,0 7,0 8,0 7,0 7,0 8,0 7,0 7,0 8,0 7,0 7,0 8,0 7,0 7,0 8,0 7,0 7,0 8,0 7,0 7,0 7,0 8,0 7,0 7,0 8,0 7,0 7,0 8,0 7,0 7,0 8,0 7,0 7,0 8,0 7,0 7,0 8,0 7,0 7,0 8,0 7,0 7,0 7,0 8,0 7,0 7,0 8,0 7,0 7,0 8,0 7,0 7,0 8,0 7,0 7,0 8,0 7,0 7,0 8,0 7,0 7,0 8,0 7,0 7,0 8,0 7,0 7,0 7,0 8,0 7,0 7,0 8,0 7,0 7,0 8,0 7,0 7,0 8,0 7,0 7,0 8,0 7,0 7,0 8,0 7,0 7,0 8,0 7,0 7,0 8,0 7,0 7,0 7,0 8,0 7,0 7,0 8,0 7,0 7,0 8,0 7,0 7,1 8,0 7,0 7,0 8,0 7,1 7,0 8,0 7,0 7,0 8,1 7,0 7,0 8,0 7,0 7,1 7,0 8,0 7,0 7,0 8,0 7,0 7,0 8,0 7,0 7,0 8,0 7,0 7,0 8,0 7,0 7,0 8,0 7,0 7,0 8,0 7,0 7,0 7,0 8,0 7,0 7,0 8,0 7,0 7,0 8,0 7,0 7,0 8,0 7,0 7,0 8,0 7,0 7,0 8,0 7,0 7,0 8,0 7-1 7,0 8,0 7,0 7,0 7,0 8,0 7,0 7,0 8,0 7,0 7,0 8,0 7,0 7,0 8,0 7,0 7,0 8,0 7,0 7,0 8,0 7,0 7,0 8,0 7,0 7,0 8,0 7,0 7,0 7,0 8,0 7,0 7,0 8,0 7,0 7,0 8,0 7,0 7,0 8,0 7,0 7,0 8,0 7,0 7,0 8-1 7,0 7,0 8,0 7,0 7,0 7,0 8,0 7,0 7,0 8,0 7,0 7,0 8,0 7,0 7,0 8,0 7,0 7,0 8,0 7,0 7,0 8,0 7,0 7,0 8,0 7,0 7,0 8,0 7,0 7,0 7,0 8,0 7,0 7,0 8,0 7,0 7,0 8,0 7,0 7,0 8,0 7,0 7,0 8,0 7,0 7,0 8-1 7,0 7,0 8,0 7,0 7,0 8,0 7,0 7,0 7,0 8,0 7,0 7,0 8,0 7,0 7,0 8,0 7,0 7,0 8,0 7,0 7,0 8,0 7,0 7,0 8,0 7,0 7,0 8,0 7,0 7,0 7,0 8,0 7,0 7,0 8,0 7,0 7,0 8,0 7,0 7,0 8,0 7,0 7,0 8,0 7,0 7-1 8,0 7,0 7,0 8,0 7,0 7,0 8,0 7,0 7,0 7,0 8,0 7,0 7,0 8,0 7,0 7,0 8,0 7,0 7,0 8,0 7,0" transform="scale(.1)" fill="none" stroke="#4DBEEE" stroke-width="9.0" stroke-linejoin="round"/>
<path d="M307,3857l7,0 8,0 7,0 7,0 8,0 7,0 7,0 8,0 7,0 7,0 8,0 7,0 7,0 7,0 8,0 7,0 7,0 8,0 7,0 7,0 8,0 7,0 7,0 8,0 7,0 7,0 8,0 7,0 7,0 8,0 7,0 7,0 8,0 7,0 7,0 8,0 7,0 7,0 7,0 8,0 7,0 7-1 8-1 7-1 7-2 8-1 7-2 7-2 8-1 7-2 7-1 8-1 7-1 7,0 8-1 7-1 7-1 8-1 7-1 7,0 7,0 8,0 7,1 7,0 8,1 7,0 7,0 8,1 7,0 7,1 8,0 7,1 7,1 8,0 7,1 7,1 8,0 7,1 7,1 8,0 7,1 7,1 8,0 7,1 7,0 7,1 8,1 7,0 7,1 8,0 7,1 7,0 8,0 7,0 7,0 8,0 7,0 7,0 8,0 7,0 7,0 8,0 7,0 7,0 8,0 7,0 7,0 8,0 7,0 7,0 7,0 8,0 7,0 7,0 8,0 7,0 7,0 8,0 7,0 7,0 8,0 7,0 7,0 8,0 7,0 7,0 8,0 7,0 7,0 8,0 7,0 7,0 7,0 8,0 7,0 7,0 8,0 7,0 7,0 8,0 7,0 7,0 8,0 7,0 7,0 8,0 7,0 7,0 8,0 7,0 7,0 8,0 7,0 7,0 8,0 7,0 7,0 7,0 8,0 7,0 7,0 8,0 7,0 7,0 8,0 7,0 7,0 8,0 7,0 7,0 8,0 7,0 7,0 8,0 7,0 7,0 8,0 7,0 7,0 8,0 7,0 7,0 7,0 8,0 7,0 7,0 8,0 7,0 7,0 8,0 7,0 7,0 8,0 7,1 7,0 8,0 7,0 7,0 8,1 7,0 7,0 8,0 7,1 7,0 8,0 7,0 7,0 7,1 8,0 7,0 7,0 8,0 7,0 7,0 8,0 7,0 7,0 8,0 7,0 7,0 8,0 7,0 7,0 8,0 7,0 7,0 8,0 7,0 7,0 7,0 8,0 7,0 7,0 8,0 7-1 7,0 8,0 7,0 7,0 8,0 7,0 7,0 8,0 7,0 7,0 8,0 7,0 7,0 8,0 7,0 7,0 8,0 7,0 7,0 7,0 8,0 7,0 7,0 8,0 7,0 7,0 8,0 7,0 7,0 8,0 7,0 7,0 8,0 7,0 7,0 8,0 7,0 7,0 8,0 7,0 7,0 8,0 7,0 7,0 7,0 8,0 7-1 7,0 8,0 7,0 7,0 8,0 7,0 7,0 8,0 7,0 7,0 8,0 7,0 7,0 8,0 7,0 7,0 8,0 7,0 7,0 7,0 8,0 7,0 7,0 8,0 7,0 7,0 8,0 7,0 7,0 8,0 7,0 7,0 8,0 7,0 7,0 8,0 7,0 7,0 8,0 7,0 7,0 8,0 7,0 7,0 7,0 8-1 7,0 7,0 8,0 7,0 7,0 8,0 7,0 7,0 8,0 7,0 7,0 8,0 7,0 7,0 8,0 7,0 7,0 8,0 7,0 7,0 8,0 7,0 7,0 7,0 8,0 7,0 7,0 8,0 7,0 7,0 8,0 7,0 7,0 8,0 7,0 7,0 8,0 7,0 7,0 8,0 7,0 7,0 8,0 7,0 7,0 7-1 8,0 7,0 7,0 8,0 7,0 7,0 8,0 7,0 7,0 8,0 7,0 7,0 8,0 7,0 7,0 8,0 7,0 7,0 8,0 7,0 7,0 8,0 7,0 7,0 7,0 8,0 7,0 7,0 8,0 7,0 7,0 8,0 7,0 7,0 8,0 7,0" transform="scale(.1)" fill="none" stroke="#A2142F" stroke-width="7.0" stroke-linejoin="round"/>
<path d="M307,3866l3,0 3,0 3,0 3,0 3,0 3,0 2,0 3,0 3,0 3,0 3,0 3,0 3,0 3,0 3,0 3,0 3,0 3,0 3,0 3,0 2,0 3,0 3,0 3,0 3,0 3,0 3,0 3,0 3,0 3,0 3,0 3,0 3,0 3,0 2,0 3,0 3,0 3,0 3,0 3,0 3,0 3,0 3,0 3,0 3,0 3,0 3,0 3,0 2,0 3,0 3,0 3,0 3,0 3,0 3,0 3,0 3,0 3,0 3,0 3,0 3,0 3,0 2,0 3,0 3,0 3,0 3,0 3,0 3,0 3,0 3,0 3,0 3,0 3,0 3,0 3,0 2,0 3,0 3,0 3,0 3,0 3,0 3,0 3,0 3,0 3,0 3,0 3,0 3,0 3,0 2,0 3,0 3,0 3-1 3,0 3,0 3-1 3,0 3-1 3,0 3-1 3,0 3-1 2,0 3-1 3,0 3-1 3-1 3,0 3-1 3-1 3-1 3-1 3-2 3-1 3-1 3-2 2-1 3-1 3-2 3-1 3-1 3-2 3-1 3-1 3-2 3-1 3-1 3-1 3-1 3-1 2-1 3-1 3,0 3-1 3-1 3-1 3-1 3-1 3-1 3-1 3-1 3-1 3-1 3-1 2,0 3-1 3-1 3-1 3,0 3-1 3,0 3,1 3,0 3,0 3,0 3,0 3,1 3,0 2,0 3,0 3,0 3,1 3,0 3,0 3,0 3,1 3,0 3,0 3,1 3,0 3,1 3,0 2,1 3,1 3,1 3,1 3,0 3,1 3,1 3,1 3,0 3,1 3,1 3,1 3,0 2,1 3,1 3,1 3,1 3,0 3,1 3,1 3,1 3,0 3,1 3,1 3,1 3,0 3,1 2,1 3,0 3,1 3,1 3,0 3,1 3,1 3,0 3,1 3,0 3,1 3,1 3,0 3,1 2,1 3,0 3,1 3,1 3,0 3,1 3,0 3,1 3,1 3,0 3,1 3,0 3,1 3,0 2,0 3,0 3,1 3,0 3,0 3,1 3,0 3,0 3,0 3,1 3,0 3,0 3,1 3,0 2,0 3,1 3,0 3,0 3,0 3,1 3,0 3,0 3,1 3,0 3,0 3,0 3,0 3,1 2,0 3,0 3,0 3,0 3,0 3,0 3,0 3-1 3,0 3,0 3,0 3,0 3,0 3,0 2,0 3,0 3,0 3,0 3,0 3,0 3,0 3,0 3,0 3,0 3,0 3,0 3,0 2,0 3,0 3,0 3,0 3,0 3,0 3,0 3,0 3,0 3,0 3,0 3,0 3,0 3,0 2,0 3,0 3,0 3,0 3,0 3,0 3,0 3,0 3,0 3,0 3,0 3,0 3,0 3,0 2,0 3,0 3,0 3-1 3,0 3,0 3,0 3,0 3,0 3,0 3,0 3,0 3,0 3,0 2,0 3,0 3,0 3,0 3,0 3,0 3,0 3,0 3,0 3,0 3,0 3,0 3,0 3,0 2,0 3,0 3,0 3,0 3,0 3,0 3,0 3,0 3,0 3,0 3,0 3,0 3,0 3,0 2,0 3,0 3,0 3,0 3,0 3,0 3,0 3,0 3,0 3,0 3,0 3,0 3-1 3,0 2,0 3,0 3,0 3,0 3,0 3,0 3,0 3,0 3,0 3,0 3,0 3,0 3,0 2,0 3,0 3,0 3,0 3,0 3,0 3,0 3,0 3,0 3,0 3,0 3,0 3,0 3,0 2,0 3,0 3,0 3,0 3,0 3,0 3,0 3,0 3,0 3,0 3,0 3,0 3,0 3,0 2,0 3,0 3,0 3,0 3,0 3,0 3,0 3-1 3,0 3,0 3,0 3,0 3,0 3,0 2,0 3,0 3,0 3,0 3,0 3,0 3,0 3,0 3,0 3,0 3,0 3,0 3,0 3,0 2,0 3,0 3,0 3,0 3,0 3,0 3,0 3,0 3,0 3,0 3,0 3,0 3,0 3,0 2,0 3,0 3,0 3,0 3,0 3,0 3,0 3,0 3,0 3,0 3,0 3,0 3,0 3,0 2,0 3,0 3-1 3,0 3,0 3,0 3,0 3,0 3,0 3,0 3,0 3,0 3,0 2,0 3,0 3,0 3,0 3,0 3,0 3,0 3,0 3,0 3,0 3,0 3,0 3,0 3,0 2,0 3,0 3,0 3,0 3,0 3,0 3,0 3,0 3,0 3,0 3,0 3,0 3,0 3,0 2,0 3,0 3,0 3,0 3,0 3,0 3,0 3,0 3,0 3,0 3,0 3,0 3,0 3,0 2,0 3,0 3,0 3,0 3,0 3,0 3,0 3,0 3,0 3,0 3,0 3,0 3,0 3,0 2,0 3,0 3,0 3,0 3,0 3,0 3,0 3,0 3,0 3,0 3,0 3,0 3,0 3,0 2,0 3,0 3,0 3,0 3,0 3,0 3,0 3,0 3,0 3,0 3,0 3,0 3,0 2,0 3,0 3,0 3,0 3,0 3,0 3,0 3,0 3,0 3,0 3,0 3,0 3,0 3,0 2,0 3,0 3,0 3,0 3,0 3,0 3,0 3,0 3,0 3,0 3,0 3,0 3,0 3,0 2,0 3,0 3,0 3,0 3,0 3,0 3,0 3,0 3,0 3,0 3,0 3,0 3,0 3,0 2,0 3,0 3,0 3,0 3,0 3,0 3,0 3,0 3,0 3,0 3,0 3,0 3,0 3,0 2,0 3,0 3,0 3,0 3,0 3,0 3,0 3,0 3,0 3,0 3,0 3,0 3,0 3,0 2,0 3,0 3,0 3,0 3,0 3,0 3,0 3,0 3,0 3,0 3,0 3,0 3,0 3,0 2,0 3,0 3,0 3,0 3,0 3,0 3,0 3,0 3,0 3,0 3,0 3,0 3,0 2,0 3,0 3,0 3,0 3,0 3,0 3,0 3,0 3,0 3,0 3,0 3,0 3,0 3,0 2,0 3,0 3,0 3,0 3,0 3,0 3-1 3,0 3,0 3-1 3,0 3,0 3-1 3,0 2-1 3,0 3,0 3-1 3,0 3,0 3-1 3,0 3,0 3-1 3,0 3,0 3-1 3,0 2,0 3,0 3,0 3,0 3,0 3,0 3,1 3,0 3,0 3,0 3,0 3,0 3,0 3,0 2,1 3,0 3,0 3,0 3,0 3,0 3,0 3,1 3,0 3,0 3,0 3,0 3,0 3,0 2,0 3,1 3,0 3,0 3,0 3,0 3,0 3,0 3,0 3,1 3,0 3,0 3,0 3,0 2,0 3,0 3,1 3,0 3,0 3,0 3,0 3,0 3,0 3,0 3,1 3,0 3,0 2,0 3,0 3,0 3,0 3,1 3,0 3,0 3,0 3,0 3,0 3,0 3,0 3,1 3,0 2,0 3,0 3,0 3,0 3,0 3,0 3,1 3,0 3,0 3,0 3,0 3,0 3,0 3,1 2,0 3,0 3,0 3,0 3,0 3,0 3,0 3,1 3,0 3,0 3,0 3,0 3,0 3,0 2,0 3-1 3-1 3-2 3-2 3-2 3-2 3-2 3-3 3-2 3-2 3-2 3-1 3-1 2-2 3-1 3-1 3-1 3-1 3-1 3-1 3,0 3-1 3,0 3,0 3,1 3,1 3,1 2,2 3,1 3,1 3,1 3,2 3,1 3,0 3,1 3,1 3,1 3,0 3,1 3,1 3,0 2,1 3,1 3,0 3,1 3,0 3,1 3,1 3,0 3,1 3,1 3,0 3,1 3,0 2,0 3,0 3,0 3,0 3,0 3,0 3,0 3,0 3,0 3,0 3,0 3,0 3,0 3,0 2,0 3,0 3,0 3,1 3,0 3,0 3,0 3,0 3,0 3,0 3,0 3,0 3,0 3,0 2,0 3,0 3,0 3,0 3,0 3,0 3,0 3,0 3,0 3,0 3,0 3,0 3,0 3,0 2,0 3,0 3,0 3,0 3,0 3,0 3,0 3,0 3,0 3,0 3,0 3,0 3,0 3,0 2,0 3,0 3,1 3,0 3,0 3,0 3,0 3,0 3,0 3,0 3,0 3,0 3,0 3,0 2,0 3,0 3,0 3,0 3,0 3,0 3,0 3,0 3,0 3,0 3,0 3,0 3,0 2,0 3,0 3,0 3,0 3,0 3,0 3,0 3,0 3,0 3,0 3,0 3,0 3,0 3,0 2,0 3,1 3,0 3,0 3,0 3,0 3,0 3,0 3,0 3,0 3,0 3,0 3,0 3,0 2,0 3,0 3,0 3,0 3,0 3,0 3,0 3,0 3,0 3,0 3,0 3,0 3,0 3,0 2,0 3,0 3,0 3,0 3,0 3,0 3,0 3,0 3,0 3,0 3,0 3,0 3,0 3,0 2,1 3,0 3,0 3,0 3,0 3,0 3,0 3,0 3,0 3,0 3,0 3,0 3,0 3,0 2,0 3,0 3,0 3,0 3,0 3,0 3,0 3,0 3,0 3,0 3,0 3,0 3,0 3,0 2,0 3,0 3,0 3,0 3,0 3,0 3,0" transform="scale(.1)" fill="none" stroke="#000000" stroke-width="10.0" stroke-linejoin="round"/>
<line x1="169.3" y1="387.0" x2="184.6" y2="387.0" stroke="#444" stroke-width="1.1"/>
<line x1="235.5" y1="387.0" x2="264.5" y2="387.0" stroke="#444" stroke-width="1.1"/>
<line x1="30.7" y1="231.39" x2="331.8" y2="231.39" stroke="#dc1e26" stroke-width="1.7" stroke-dasharray="4.2 4.35"/>
<line x1="30.7" y1="387.0" x2="30.7" y2="213.6" stroke="#bcbcbc" stroke-width="1.8"/>
<line x1="30.7" y1="387.0" x2="33.9" y2="387.0" stroke="#aaa" stroke-width="0.9"/>
<line x1="30.7" y1="343.8" x2="33.9" y2="343.8" stroke="#aaa" stroke-width="0.9"/>
<line x1="30.7" y1="300.6" x2="33.9" y2="300.6" stroke="#aaa" stroke-width="0.9"/>
<line x1="30.7" y1="257.3" x2="33.9" y2="257.3" stroke="#aaa" stroke-width="0.9"/>
<line x1="30.7" y1="214.1" x2="33.9" y2="214.1" stroke="#aaa" stroke-width="0.9"/>
<text x="22.7" y="390.4" class="tk" style="font-size:10.3px" textLength="4.4" lengthAdjust="spacingAndGlyphs">0</text>
<text x="16.2" y="347.2" class="tk" style="font-size:10.3px" textLength="10.9" lengthAdjust="spacingAndGlyphs">0.1</text>
<text x="16.2" y="303.9" class="tk" style="font-size:10.3px" textLength="10.9" lengthAdjust="spacingAndGlyphs">0.2</text>
<text x="16.2" y="260.7" class="tk" style="font-size:10.3px" textLength="10.9" lengthAdjust="spacingAndGlyphs">0.3</text>
<text x="16.2" y="217.5" class="tk" style="font-size:10.3px" textLength="10.9" lengthAdjust="spacingAndGlyphs">0.4</text>
<text x="24.1" y="399.4" class="tk" style="font-size:10.3px" textLength="13.1" lengthAdjust="spacingAndGlyphs">350</text>
<text x="53.4" y="399.4" class="tk" style="font-size:10.3px" textLength="13.1" lengthAdjust="spacingAndGlyphs">550</text>
<text x="82.7" y="399.4" class="tk" style="font-size:10.3px" textLength="13.1" lengthAdjust="spacingAndGlyphs">750</text>
<text x="112.0" y="399.4" class="tk" style="font-size:10.3px" textLength="13.1" lengthAdjust="spacingAndGlyphs">950</text>
<text x="139.1" y="399.4" class="tk" style="font-size:10.3px" textLength="17.5" lengthAdjust="spacingAndGlyphs">1150</text>
<text x="168.3" y="399.4" class="tk" style="font-size:10.3px" textLength="17.5" lengthAdjust="spacingAndGlyphs">1350</text>
<text x="197.6" y="399.4" class="tk" style="font-size:10.3px" textLength="17.5" lengthAdjust="spacingAndGlyphs">1550</text>
<text x="226.9" y="399.4" class="tk" style="font-size:10.3px" textLength="17.5" lengthAdjust="spacingAndGlyphs">1750</text>
<text x="256.2" y="399.4" class="tk" style="font-size:10.3px" textLength="17.5" lengthAdjust="spacingAndGlyphs">1950</text>
<text x="285.4" y="399.4" class="tk" style="font-size:10.3px" textLength="17.5" lengthAdjust="spacingAndGlyphs">2150</text>
<text x="314.7" y="399.4" class="tk" style="font-size:10.3px" textLength="17.5" lengthAdjust="spacingAndGlyphs">2350</text>
<text x="137.7" y="410.3" class="lab" style="font-size:9.8px" textLength="10.9" lengthAdjust="spacingAndGlyphs">(c)</text>
<text x="156.8" y="410.3" class="lab" style="font-size:9.8px" textLength="66.0" lengthAdjust="spacingAndGlyphs">Wavelength(nm)</text>
<g transform="translate(11.7,305.1) rotate(-90) scale(0.9,1)"><text x="0" y="0" class="lab" style="font-size:9.5px">R<tspan dx="0.8" dy="-5.0" style="font-size:7px">2</tspan></text></g>
<path d="M507.2,357.1L507.6,267.1L508.0,357.1M506.5,362.0L506.9,312.7L507.2,362.0M508.0,362.0L508.4,305.3L508.7,362.0M559.4,374.4L559.8,349.7L560.2,374.4M635.9,374.4L636.2,337.4L636.6,374.4M672.6,367.0L673.0,327.5L673.3,367.0M488.3,376.8L488.7,362.0L489.1,376.8" fill="none" stroke="#0072BD" stroke-width="1.00" stroke-linejoin="round"/>
<path d="M3739,3779l6-165 6,234 4-466 8,444 7-275 5,231 6-329 6,341 4-235 8,262 4-81 8,36 5-1176 7,1237 5-517 7,472 7-387 5,421 7-930 5,916 7-354 5,365 7-247 5,264 6-542 6,542 7-139 5,52 6-31 6,139 6-159 6,139 8-356 4,374 4-425 8,400 7-479 5,395 7-154 5,163 4-26 8,30 8-559 4,576 4-31 8,60 5-370 7,323 3-86 9,124 6-131 6,140 4-475 8,522 7-245 5,198 4-132 8,147 4-127 8,131 5-78 7,39 7-127 5,96 3-182 9,217 6-363 6,396 7-664 5,635 7-561 5,624 4-105 8,95 5-195 7,144 7-33 5,60 8-205 4,231 6-205 6,192 7-95 5,2 5-77 7,198 4-292 8,282 4-168 8,72 7-365 5,380 8-133 4,173 5-224 7,273 6-129 6,88 6-246 6,217 6-343 6,401 7-293 5,303 4-207 8,211 4-489 8,416 8-128 4,169 5-67 7,96 8-376 4,330 7-156 5,129 5-42 7,63 4-549 8,531 7-260 5,329 6-386 6,320 7-54 4,113 7-305 5,219 5-279 7,262 7-226 5,321 9-184 3,89 8-317 4,388 8-1022 4,957 7-140 5,141 7-217 5,238 7-114 5,147 6-413 6,377 4-436 8,510 7-131 5,123 6-117 6,36 6-347 6,379 5-217 7,190 5-95 7,193 5-268 7,174 4-254 8,240 8-243 4,231 9-404 3,443 8-140 4,172 8-302 4,340 8-230 4,221 6-140 6,147 6-268 6,246 5-433 7,352 7-605 5,616 4-322 8,368 8-622 4,647 7-210 5,146 6-109 6,203 7-417 5,326 6-47 6,120 8-92 4,101 5-136 7,112 8-463 4,456 4-105 8,45 7-42 5,117 6-333 6,247 8-375 4,385 5-23 7,18 8-6 4,104 8-232 4,169 8-30 4,28 8-331 4,342 4-420 8,454 6-216 6,246 7-305 5,222 5-16 7,9 5-370 7,401 7-306 5,300 5-225 7,183 8-59 4,108 6-419 6,427 7-88 5,94 5-177 7,112 7-198 5,209 8-44 4,84 8-426 4,406 7-237 5,252 5-105 7,54 8,0 4,69 4-408 8,424 4-85 8,0 7,0 5,47 5-219 7,219 6-41 6,95 6-278 6,184 6-151 6,258 4-243 8,205 4-207 8,175 4-101 8,152 6-448 6,427 5-241 7,169 6-125 6,123 6-170 6,276 7-331 5,262 5-201 7,199 8-218 4,257 4-1239 8,1166 8,0 4,46 4-410 8,390 5-62 7,73 5-50 7,27 4-516 8,565 6-414 6,467 4-483 8,482 6-181 6,170 5-251 7,171 5-123 7,212 5-192 7,117 5-1106 7,1174 6-296 6,186 5-341 7,452 5-195 7,167 6-73 6,68 5-82 7,20 4-80 8,154 7-490 5,437 4-65 8,71 6-478 6,435 4-322 8,392 5-52 7,48 5-578 7,533 6-7 6,92 5-466 7,387 3-1012 9,1040 6-763 6,722 7-81 5,121 6-128 6,156 4-899 8,879 7-335 5,297 6-363 6,376 5-33 7,68 4-576 8,600 5-765 7,719 6-595 6,650 4-341 8,278 3-286 9,304 7-40 5,37 6-45 6,96 5-266 7,200 6-81 6,100 4-43 8,31 7-142 4,108 4-1419 8,1486 4-87 8,90 8-265 4,268 8-490 4,501 7-160 5,61 6-336 6,394 5-64 7,48 7-352 5,377 7-435 5,449 5-220 7,240 6-109 6,35 5-369 7,340 6-241 6,285 8-415 4,376 6-62 6,151 7-418 5,429 5-465 7,361 6-85 6,126 7-77 5,144 6-445 6,445 4-107 8,77 7-221 5,263 7-373 5,304 4-189 8,194 8-149 4,153 6-537 6,569 6-418 6,408 4-505 8,466 5-153 7,131 7-605 5,688 6-871 6,851 9-272 3,235 4-347 8,410 6-427 6,424 7-244 5,160 5-122 7,100 8-100 4,189 7-365 5,309 4-28 8,114 5-327 7,304 6-120 6,46 5-427 7,509 5-121 7,40 8-350 4,367 7-832 5,850 5-354 7,345 6-177 6,198 4-475 8,453 5-138 7,198 8-451 4,402 5-56 7,77 6-946 6,951 5-150 7,176 6-241 6,207 4-354 8,306 5-321 7,302 4-131 8,143 8-598 4,627 8-141 4,105 5-8 7,7 6-229 6,258 6-174 6,216" transform="scale(.1)" fill="none" stroke="#D95319" stroke-width="8.0" stroke-linejoin="round"/>
<path d="M3739,3757l4-205 5,264 6-37 3,17 3-56 6,76 6-83 3,120 4-278 5,201 5-109 4,122 6-228 3,217 5-49 4,91 4-184 5,182 5-51 4,75 5-133 4,113 6-78 3,0 5,0 4,9 5-135 4,178 3-219 6,237 6-246 3,179 5-154 4,191 3-154 6,220 5-147 4,132 4-202 5,121 4-34 5,34 4-192 5,261 3-69 6,73 5-78 4,73 6-104 3,117 3-63 6,9 4-12 5,81 5-225 4,204 3-45 6,39 4-83 5,74 6-91 3,109 3-119 6,136 3-86 6,24 5-69 4,61 4-165 5,192 4-30 5,56 4-220 5,230 3-241 6,196 5-27 4,55 2-246 7,175 6-16 3,66 3-125 6,92 5-204 4,237 4-56 5,0 6-53 3,64 3-69 6,94 6-22 3,0 3,0 6,3 5-51 4,124 3-67 6,47 3-42 6,2 4-114 5,150 3-212 6,206 5-182 4,161 5-55 4,54 4-196 5,167 5-103 4,97 5,0 4,5 2,0 7,25 6-94 3,90 5-166 4,195 6-116 3,137 3-68 6,3 3-6 6,0 4,0 5,18 4-142 5,181 6-238 3,229 3-252 6,228 6-97 3,137 6-96 3,24 3-31 6,80 3-27 6,28 6-243 3,226 4-6 5,52 2-125 7,112 3-63 6,0 4,0 5,61 5-47 4,32 2-85 7,75 6-215 3,229 6-8 3,42 3-163 6,129 4-233 5,234 4-131 4,86 6-148 3,159 7-39 2,37 6-153 3,182 6-96 3,121 4-255 5,212 4-31 5,49 3-34 6,36 6-139 3,138 4-78 5,38 6,0 3,66 5-34 4,58 5-154 4,90 4-197 5,209 5-28 4,87 5-214 4,131 3,0 6,54 6-107 3,100 7-198 2,188 5-160 4,152 6-73 3,65 4-62 5,80 5-182 4,189 4-31 5,27 5-211 4,213 4-229 5,176 5-178 4,172 5,0 4,96 7-105 2,0 5-48 4,111 3-253 6,263 5-168 4,116 6-193 3,188 6-208 3,206 4-189 5,199 6,0 3,31 4-99 5,140 6-191 3,167 4-226 5,194 5-89 4,128 6-99 3,68 6-45 3,37 5-15 4,35 3-255 6,247 5-228 4,261 4-45 5,0 6-19 3,33 3-162 6,197 6-189 3,121 4,0 5,53 4-96 5,97 4-41 5,17 3-71 6,112 6-252 3,190 5-88 4,106 5-169 4,226 5-175 4,128 6-168 3,138 6-14 3,75 4-184 5,189 3-110 6,40 6-9 3,62 6-129 3,105 5-25 4,0 6-61 3,142 5-247 4,160 5-55 4,131 6-69 3,38 3-44 6,0 5-132 4,208 6-62 3,4 6-17 3,0 4-203 5,286 3-288 6,247 6-256 3,226 5-187 4,227 3-141 6,98 5-4 4,32 5-57 4,40 3-139 6,116 5-4 4,15 4-211 5,201 6-108 3,155 6-53 3,59 5-141 4,135 3-131 6,83 6-170 3,203 5-169 4,166 6-40 3,68 3-74 6,32 5-16 4,36 4-15 5,34 4-146 5,110 3-170 6,187 5-15 4,49 6-175 3,163 3-259 6,200 3-155 6,238 5-227 4,172 5-71 4,93 4-158 5,175 4-108 5,58 4-34 5,35 3-155 6,119 4-2 5,0 5-97 4,135 3-8 6,21 3-64 6,40 3-171 6,204 3-135 6,133 3-45 6,95 3-111 6,78 5-214 4,175 5-51 4,95 5-175 4,177 3-245 6,209 3-33 6,0 4-13 5,0 5,0 4,52 4-198 5,191 3-8 6,6 4,0 5,10 3-224 6,213 4-61 5,60 3-188 6,172 5,0 4,33 5-90 4,75 3-19 6,54 3-162 6,111 4,0 5,3 5-194 4,179 5-23 4,33 5-121 4,189 3-57 6,68 3-226 6,227 3-169 6,125 5-143 4,152 4-261 5,242 6-91 3,93 3-45 6,59 3-165 6,132 5-159 4,139 3-65 6,75 4-163 5,154 3-45 6,58 4,0 5,4 5-130 4,167 4-46 5,41 4-81 5,37 4,0 5,72 6-264 3,186 4-171 5,183 5-207 4,253 6-248 3,279 3-248 6,227 3-75 6,70 5-233 4,210 3-167 6,178 4-152 5,178 4-224 5,200 2-146 7,126 3-87 6,130 3-144 6,89 3-2 6,10 5-75 4,34 4-57 5,76 5-53 4,117 5-183 3,130 5-26 4,34 5-139 4,137 7-19 2,46 5-67 4,25 4-183 5,230 4-235 5,247 6-107 3,108 7-75 2,67 4-208 5,196 6-193 3,133 5-51 4,93 4-53 5,69 6-213 3,203 3-234 6,233 4-207 5,242 4-65 5,60 6-73 3,51 4-80 5,81 4-253 5,279 6-86 3,0 4-59 5,64 5-164 4,188 4-92 5,169 5-266 4,182 4,0 5,49 4-97 5,47 7,0 2,88 4-73 5,0 6-179 3,226 5-47 4,20 3-113 6,92 5-153 4,209 4-101 5,90 5-77 4,29 4-11 5,63 3-170 6,92 6-144 3,218 3-153 6,128 7-68 2,42 5-39 4,81 3-216 6,169 6-196 3,252 6-230 3,171 5-12 4,94 6-149 3,151 6-100 3,91 6-73 3,0 3-5 6,0 3-101 6,106 3-5 6,0 4-186 5,186 6-115 3,106 6-77 3,121 6-128 3,144 6-245 3,197 4-31 5,71 6-51 3,31 4-204 5,200 6-94 3,125 5-128 4,143 6-83 3,0 5-190 4,221 5-84 4,62 4-107 5,198 4-255 5,226 5-98 4,111 4-83 5,0 6-51 3,112 6-50 3,0 4-56 5,112 4-147 5,142 5-75 4,31 4-1 5,18 4-199 5,256 4-54 5,57 4-169 5,105 6-128 3,97 5-59 4,74 5-125 4,147 4-22 5,0 5,0 4,10 4-39 5,110V3867H3739Z" transform="scale(.1)" fill="#7E2F8E" stroke="#7E2F8E" stroke-width="6.0" stroke-linejoin="round"/>
<path d="M3739,3746l6-404 4,400 4-457 5,424 5-29 5,110 7-633 3,668 4-548 6,550 5-782 4,686 6-168 4,138 4-360 6,475 3-372 7,339 3-1050 6,970 4-222 6,289 7-224 3,236 3-97 7,44 5-145 4,235 5-172 5,53 7-263 3,392 3-415 7,370 6-259 3,193 4-194 6,255 5-624 5,616 5-428 5,438 5-173 4,228 6-144 4,51 4-362 6,382 6-640 4,596 3-287 6,351 4-160 6,109 5-245 5,241 5-769 5,820 4-596 5,593 5-308 5,285 6-97 4,177 4-159 6,149 3-538 6,536 5-316 5,257 5-197 5,186 5-67 5,87 3-126 6,145 6-301 4,255 6-241 4,289 5-769 4,803 4-155 6,75 7-294 3,298 5-649 5,764 5-387 4,239 4-196 6,327 3-780 7,772 3-479 7,502 4-246 5,219 4-398 6,330 5-651 5,724 4-206 6,143 5-1018 4,1032 4-673 6,704 6-680 4,679 5-344 5,328 3-248 6,183 4-1181 6,1170 5-569 5,577 3-44 7,41 6-102 3,200 4-366 6,315 5-130 5,106 3-701 7,761 6-124 3,157 7-270 3,119 4-85 6,155 4-81 6,115 6-400 3,366 6-418 4,406 6-349 4,392 3-622 7,602 4-355 5,354 4-423 6,486 4-420 6,308 6-124 4,250 5-359 4,248 6-60 4,118 4-416 6,395 4-518 5,480 5-340 5,309 4-436 6,569 4-217 6,131 5-642 4,586 5-331 5,492 6-538 4,448 3-114 7,132 4-322 5,258 4-743 6,802 4-111 6,34 7-592 3,744 6-446 3,385 7-109 3,10 4-520 6,634 6-403 4,440 5-292 4,166 3-621 7,668 4-461 6,398 6-361 4,371 5-90 4,87 5-63 5,116 5-499 5,496 5-791 5,734 3-473 6,461 6-90 4,85 7-416 3,451 4-333 6,385 5-91 4,23 6-132 4,272 3-188 7,124 6-367 4,376 3-582 6,494 7-305 3,325 4-91 6,130 5-90 5,54 4-589 5,602 5-102 5,191 3-770 7,698 4-586 5,559 7-313 3,313 4-562 6,627 4-552 6,556 6-172 3,156 4-193 6,256 4-345 6,252 7-132 3,160 3-152 6,63 5-203 5,327 5-529 5,412 6-1107 4,1123 6-489 3,630 5-266 5,145 5-606 5,660 6-435 4,388 6-604 3,574 4-587 6,568 6-111 4,107 6-62 4,132 4-77 5,44 7-240 3,245 4-98 6,73 5-150 5,282 3-393 6,287 4-369 6,490 5-956 5,914 5-845 5,846 4-694 5,707 7-389 3,421 5-427 5,379 3-427 7,361 3-574 6,623 6-258 4,283 5-157 5,166 6-612 3,615 5-210 5,207 3-187 7,82 5-570 5,619 3-549 6,606 7-423 3,329 4-205 6,259 5-119 5,22 6-1246 3,1297 6-562 4,631 6-434 4,335 6-629 4,702 5-330 4,304 6-591 4,534 5-541 5,636 4-240 6,269 3-485 6,417 6-312 4,379 6-427 4,304 3-136 7,145 5-192 4,258 7-328 3,312 4-354 6,414 6-246 4,221 3-359 6,323 6-421 4,418 6-285 4,359 3-158 7,91 4-231 5,232 7-529 3,556 6-1116 4,1081 6-571 4,512 4-329 5,324 4-269 6,278 4-731 6,768 4-678 6,694 2-610 7,558 4-203 6,331 6-180 4,80 6-701 3,684 7-194 3,199 4-294 6,307 4-199 6,233 6-359 3,415 7-260 3,196 6-786 4,866 3-642 7,583 4-581 5,533 4-326 6,431 6-664 4,630 6-584 4,638 4-1660 5,1622 5-743 5,717 6-243 4,280 6-600 4,580 4-753 5,663 4-236 6,315 4-658 6,641 5-586 5,626 3-685 6,720 4-619 6,526 6-225 4,216 5-206 5,233 3-126 6,111 3-331 7,311 5-275 5,382 6-1063 4,1020 4-427 5,310 4-736 6,753 3-129 7,264 6-434 4,411 5-668 4,561 6-593 4,658 5-244 5,246 4-456 6,426 5-252 4,212 4-239 6,249 6-523 4,606 6-743 3,772 7-413 3,375 7-243 3,183 5-218 5,322 4-680 5,600 6-134 4,105 3-653 7,712 6-1027 4,1044 4-124 5,94 4-130 6,93 6-702 4,794 4-808 6,781 5-518 4,534 4-709 6,675 3-466 7,426 4-154 6,160 3-68 6,132 7-317 3,238 3-91 7,179 4-1051 6,943 3-416 6,401 7-539 3,544 4-66 6,93 4-532 6,492 4-52 5,114 4-422 6,359 5-393 5,487 6-148 4,150 4-163 5,186 5-779 5,726 6-218 4,298 3-827 7,838 6-376 3,315 4-686 6,727 5-188 5,138 5-261 5,332 5-375 4,341 6-286 4,171 6-386 4,450 6-196 3,144 5-214 5,273 3-421 7,445 4-630 6,668 4-742 5,674 4-175 6,101 4-123 6,140 3-652 7,754 3-559 6,478 5-658 5,702 7-338 3,318 4-507 6,572 6-266 3,256 5-572 5,586 4-542 6,473 6-463 4,548 4-317 5,268 6-556 4,457 3-207 7,261 6-84 4,156 3-896 6,882 5-523 5,486 4-309 6,356 6-275 4,309 6-322 3,245 7-485 3,500 4-100 6,5 4-299 6,451 6-170 3,34 6-472 4,536 4-1490 6,1443 4-517 6,497 4-29 5,140 6-206 4,162 7-239 3,261 5-182 5,105 6-66 3,138 6-399 4,366" transform="scale(.1)" fill="none" stroke="#7E2F8E" stroke-width="8.5" stroke-linejoin="round"/>
<path d="M3739,3721l7,4 8,4 7,5 8,5 7,5 8,5 7,5 8,5 7,4 8,5 7,5 8,5 7,5 8,5 7,5 8,5 7,5 8,5 7,4 8,5 7,3 8,3 7,2 8,3 7,2 8,2 7,3 8,2 7,3 8,1 7,1 8,0 7,0 8,0 7,0 8,0 7,0 8,0 7,0 8,0 7,0 8,0 7,0 8,0 7,0 8,0 7,0 8,0 7,0 8,0 7,0 8,0 7,0 8,0 7,0 8,0 7,0 8,0 7,0 8,0 7,0 8,0 7,0 8,0 7,0 8,0 7,0 8,0 7,0 8,0 7,0 8,0 7,0 8,0 7,0 8,0 7,0 8,0 7,0 8,0 7,0 8,0 7,0 8,0 7,0 8,0 7,0 8,0 7,0 8,0 7,0 8,0 7,0 8,0 7,0 8,0 7,0 8,0 7,0 7,0 8,0 7,0 8,0 7,0 8,0 7,0 8,0 7,0 8,0 7,0 8,0 7,0 8,0 7,0 8,0 7,0 8,0 7,0 8,0 7,0 8,0 7,0 8,0 7,0 8,0 7,0 8,0 7,0 8,0 7,0 8,0 7,0 8,0 7,0 8,0 7,0 8,0 7,0 8,0 7-1 8-1 7-3 8-2 7-3 8-2 7-2 8-3 7-2 8-3 7-2 8-3 7-2 8-3 7-2 8-3 7-2 8-3 7-2 8-2 7-2 8-1 7-1 8-1 7,0 8-1 7-1 8,0 7-1 8-1 7,0 8-1 7,0 8-1 7-1 8,0 7-1 8,0 7-1 8-1 7,0 8,0 7,0 8,0 7,0 8,0 7,0 8,0 7,0 8,0 7,0 8,0 7,0 8,0 7,0 8,0 7,0 8,0 7,0 8,0 7,0 7,0 8,0 7,0 8,0 7,0 8,0 7,0 8,0 7,0 8,0 7,0 8,0 7,0 8,0 7,0 8,0 7,0 8,0 7,0 8,0 7,0 8,0 7,0 8,0 7,0 8,0 7,0 8,0 7,0 8,0 7,0 8,0 7,0 8,0 7,0 8,0 7,0 8,0 7,0 8,0 7,0 8,0 7,0 8,0 7,0 8,0 7,0 8,0 7,0 8,0 7,0 8,0 7,0 8,0 7,0 8,0 7,0 8,0 7,0 8,0 7,1 8,1 7,1 8,2 7,1 8,1 7,1 8,2 7,1 8,1 7,1 8,1 7,2 8,1 7,1 8,1 7,2 8,1 7,1 8,1 7,0 8,0 7,0 8,0 7-1 8,0 7,0 8,0 7,0 8-1 7,0 8,0 7,0 8-1 7,0 8,0 7,0 8,0 7-1 8,0 7,0 7,0 8,0 7-1 8,0 7,0 8,0 7,0 8-1 7,0 8,0 7,0 8,0 7-1 8,0 7,0 8,0 7,0 8-1 7,0 8,0 7,0 8,0 7-1 8,0 7,0 8,0 7-1 8,0 7,0 8,0 7,0 8-1 7,0 8,0 7,0 8,0 7-1 8,0 7,0 8,0 7,1 8,0 7,0 8,1 7,0 8,0 7,0 8,1 7,0 8,0 7,1 8,0 7,0 8,1 7,0 8,0 7,1 8,0 7,0 8,1 7,0 8,0 7,0 8,1 7,0 8,0 7,1 8,0 7,0 8,1 7,0 8,0 7,1 8,0 7,0 8,0 7,1 8,0 7,0 8,0 7-1 8,0 7-1 8-1 7,0 8-1 7-1 8,0 7-1 8,0 7-1 8-1 7,0 8-1 7-1 8,0 7-1 8,0 7-1" transform="scale(.1)" fill="none" stroke="#4DBEEE" stroke-width="9.0" stroke-linejoin="round"/>
<path d="M3739,3758l7,2 8,4 7,3 8,4 7,4 8,3 7,4 8,4 7,3 8,4 7,4 8,3 7,4 8,4 7,4 8,3 7,4 8,4 7,3 8,3 7,3 8,1 7,2 8,2 7,2 8,1 7,2 8,2 7,1 8,1 7,1 8,0 7,0 8,0 7,0 8,0 7,0 8,0 7,0 8,0 7,0 8,0 7,0 8,0 7,0 8,0 7,0 8,0 7,0 8,0 7,0 8,0 7,0 8,0 7,0 8,0 7,0 8,0 7,0 8,0 7,0 8,0 7,0 8,0 7,0 8,0 7,0 8,0 7,0 8,0 7,0 8,0 7,0 8,0 7,0 8,0 7,0 8,0 7,0 8,0 7,0 8,0 7,0 8,0 7,0 8,0 7,0 8,0 7,0 8,0 7,0 8,0 7,0 8,0 7,0 8,0 7,0 8,0 7,0 7,0 8,0 7,0 8,0 7,0 8,0 7,0 8,0 7,0 8,0 7,0 8,0 7,0 8,0 7,0 8,0 7,0 8,0 7,0 8,0 7,0 8,0 7,0 8,0 7,0 8,0 7,0 8,0 7,0 8,0 7,0 8,0 7,0 8,0 7,0 8,0 7,0 8,0 7,0 8,0 7,0 8-1 7-2 8-1 7-2 8-1 7-2 8-1 7-2 8-1 7-2 8-1 7-1 8-2 7-1 8-2 7-1 8-2 7-1 8-2 7-1 8-1 7-1 8,0 7-1 8,0 7-1 8-1 7,0 8-1 7,0 8-1 7-1 8,0 7-1 8-1 7,0 8-1 7,0 8-1 7,0 8-1 7,0 8,0 7,0 8,0 7-1 8,0 7,0 8,0 7,0 8,0 7,0 8-1 7,0 8,0 7,0 8,0 7,0 8-1 7,0 7,0 8,0 7,0 8,0 7,0 8-1 7,0 8,0 7,0 8,0 7,0 8-1 7,0 8,0 7,0 8,0 7,0 8,0 7-1 8,0 7,0 8,0 7,0 8,0 7-1 8,0 7,0 8,0 7,0 8,0 7-1 8,0 7,0 8,0 7,0 8,0 7,0 8-1 7,0 8,0 7,0 8,0 7,0 8-1 7,0 8,0 7,0 8,0 7,0 8,0 7-1 8,0 7,0 8,0 7,0 8,0 7-1 8,0 7,0 8,0 7,1 8,0 7,1 8,0 7,1 8,1 7,0 8,1 7,1 8,0 7,1 8,0 7,1 8,1 7,0 8,1 7,1 8,0 7,1 8,0 7,0 8,0 7,0 8,0 7,0 8,0 7,0 8,0 7,0 8,0 7,0 8,0 7,0 8,0 7,0 8,0 7,0 8,0 7,0 8,0 7,0 7,0 8,0 7,0 8,0 7,0 8,0 7,0 8,0 7,0 8,0 7,0 8,0 7,0 8,0 7,0 8,0 7,0 8,0 7,0 8,0 7,0 8,0 7,0 8,0 7,0 8,0 7,0 8,0 7,0 8,0 7,0 8,0 7,0 8,0 7,0 8,0 7,0 8,0 7,0 8,1 7,0 8,0 7,1 8,0 7,0 8,1 7,0 8,0 7,0 8,1 7,0 8,0 7,1 8,0 7,0 8,1 7,0 8,0 7,1 8,0 7,0 8,0 7,1 8,0 7,0 8,1 7,0 8,0 7,1 8,0 7,0 8,1 7,0 8,0 7,0 8,1 7,0 8,0 7,1 8,0 7,0 8,0 7,0 8,0 7,0 8,0 7,0 8,0 7,0 8,0 7,0 8,0 7,0 8,0 7,0 8,0 7,0 8,0 7,0" transform="scale(.1)" fill="none" stroke="#A2142F" stroke-width="8.0" stroke-linejoin="round"/>
<path d="M3739,3862l3,3 3-6 3-1 3,6 3,2 3,0 3-3 3,0 3-1 3-2 3,3 3,1 3-9 3,7 3,0 3,2 3-3 3,1 3-1 3,1 3,4 3,0 3-6 3,1 3,1 3-1 3-2 3,5 3-5 3-1 3,1 3,4 3-2 3,1 3,3 3-1 3-1 3,0 3-1 3,4 3,1 3-3 3-4 3,2 3-1 3,3 3,0 3-2 3,0 3-1 3-4 3,2 3,2 3,5 3-3 3,0 3,2 3-3 3,1 3,0 3-1 3,2 3-3 3,2 3-1 3-1 3-4 3,8 3-7 3,4 3,2 3-1 3,1 3-4 3,0 3,0 3-1 3,4 3,1 3-6 3,1 3,1 3-5 3-3 3,1 3,3 3-6 3,0 3,7 3-5 3,1 3,2 3-5 3,0 3,4 3,3 3-5 3-2 3,1 3-2 3-5 3,2 3,3 3,1 3-3 3,0 3-2 3-3 3,6 3-5 3-2 3,1 3,1 3,3 3-1 3-5 3,5 3,0 3,2 3,5 3-4 3,1 3,2 3-4 3,2 3,6 3-2 3,3 3-2 3,7 3-7 3,1 3,3 3-6 3,3 3,2 3,0 3,1 3,1 3,0 3-2 3,5 3,0 3-5 3,5 3-2 3,4 3-2 3,1 3,1 3-2 3-1 3,2 3-4 3,2 3,2 3-1 3-1 3-1 3,3 3,3 3,0 3,0 3-7 3,7 3-8 3,3 3-1 3,5 3-2 3-4 3,4 3-5 3,2 3,1 3-3 3,3 3-1 3,0 3,4 3-4 3-2 3,1 3-2 3,3 3,3 3-6 3,8 3-6 3,7 3-5 3-6 3,9 3-8 3,5 3,1 3-1 3,0 3-2 3,0 3,0 3,0 3,2 3-5 3,1 3,3 3-1 3,0 3-3 3,3 3,0 3-1 3,1 3,3 3,0 3-4 3,1 3,0 3,1 3,1 3-1 3,2 3,0 3-2 3-2 3,3 3-3 3-1 3,2 3,1 3-2 3,0 3-4 3,5 3-2 3-1 3-1 3,8 3-5 3,1 3,1 3,5 3-4 3-1 3-3 3,4 3-4 3,5 3-3 2-2 3,3 3,0 3-2 3-4 3,4 3,3 3-3 3-2 3-2 3,3 3,0 3,0 3,0 3,0 3,2 3-3 3,3 3,3 3-3 3,0 3-2 3,3 3,4 3-3 3-2 3,1 3,0 3-4 3,3 3-4 3,1 3-1 3,2 3,1 3-3 3,3 3-2 3,1 3,1 3,4 3-5 3-1 3,2 3-4 3,3 3,1 3-3 3,5 3-5 3-3 3,3 3,2 3-3 3,0 3,2 3,0 3-1 3-1 3,3 3-1 3-3 3,2 3,1 3-5 3,8 3-3 3-2 3-1 3,5 3-3 3,0 3,2 3-2 3,1 3,2 3,1 3-4 3-1 3,3 3,0 3,1 3,2 3-4 3-1 3-2 3,5 3-4 3,1 3,1 3-2 3,2 3-4 3,4 3-3 3-4 3,5 3,1 3-2 3,2 3-1 3-3 3,4 3-6 3,4 3,0 3-7 3,6 3-3 3-3 3,0 3-4 3,2 3,0 3-1 3-1 3-3 3,1 3-5 3,0 3,1 3-5 3,5 3-7 3,1 3-1 3,1 3-6 3-6 3,3 3-1 3,2 3-8 3,0 3,1 3-5 3,0 3,1 3-4 3,0 3-6 3,2 3-5 3-1 3-4 3-1 3-4 3,0 3-6 3-4 3-3 3-3 3-5 3,2 3-4 3-2 3-1 3-5 3,0 3-7 3-5 3-3 3,2 3-11 3-2 3,1 3-2 3-7 3-3 3-1 3-4 3-4 3-4 3-6 3,3 3-4 3-6 3-2 3,4 3-12 3-7 3-2 3-6 3-1 3-5 3,0 3-5 3-6 3,1 3-12 3-2 3-7 3-4 3-5 3-6 3-2 3-6 3-7 3-12 3-7 3-8 3-13 3-11 3-11 3-6 3-10 3-13 3-14 3-15 3-22 3-19 3-26 3-24 3-17 3-28 3-21 3-17 3-25 3-29 3-22 3,5 3-7 3-23 3,32 3,21 3,8 3,10 3,29 3,23 3,9 3-32 3,16 3,10 3,17 3-12 3,34 3,60 3,11 3,21 3,39 3-27 3,11 3,7 3,4 3,21 3-29 3,9 3,18 3,2 3,18 3-30 3,14 3-1 3,7 3-5 3-4 3-3 3,20 3,15 3,9 3-26 3,10 3-21 3,23 3,28 3-24 3,15 3-12 3,25 3-13 3,6 3,7 3,12 3-21 3,21 3,16 3-9 3-9 3-3 3,7 3-7 3,3 3,3 3,5 3-5 3-12 3,17 3,4 3,3 3-7 3,25 3-1 3-10 3,21 3-23 3,16 3,6 3,5 3,15 3-11 3,15 3-3 3,0 3-13 3,8 3-7 3,22 3-11 3,4 3-5 3,10 3-9 3,15 3-14 3-8 3,9 3,13 3,3 3-5 3,15 3,8 3-3 3,1 3,2 3-22 3-8 3,29 3,22 3-17 3,5 3,17 3-20 3,10 3,12 3-1 3-20 3,24 3-7 3,7 3,7 3-3 3-15 3-9 3,29 3-1 3,1 3-1 3-2 3-1 3,11 3,25 3-39 3,13 3,11 3-3 3,2 3,0 3,28 3-37 3,24 3-15 3,8 3,15 3-7 3-8 3,2 3,7 3,12 3-12 3-7 3,10 3,28 3-24 3,7 3-15 3,23 3,9 3-11 3-20 3,9 3,5 3-19 3,37 3,2 3,6 3-15 3,10 3,8 3-21 3,9 3-15 3,3 3,23 3-10 3,8 3,11 3-42 3,25 3,8 3-17 3,20 3-3 3-11 3,17 3-7 3,3 3,18 3-20 3,6 3,2 3-8 3,25 3-2 3,2 3-3 3-9 3-2 3,9 3,1 3-10 3,29 3-5 3-28 3,30 3-6 3-2 3-14 3,7 3,16 3,9 3-22 3,14 3,11 3-22 3,24 3-2 3-17 3,22 3-29 3,3 3,37 3-18 3-10 3,4 3-1 3,24 3-29 3,21 3,0 3,1 3-13 3,15 3-2 3,7 3-1 3-6 3,4 3,1 3-5 3,2 3-1 3-1 3,1 3-2 3,1 3,3 3-1 3,0 3,2 3-3 3,2 3-2 3,0 3,2 3-5 3,0 3-1 3,1 3,0 3,2 3-4 3,6 3,0 3-1 3,2 3-1 3-5 3,9 3,0 3-5 3-3 3,4 3-3 3,4 3-1 3-1 3,5 3-2 3-1 3-1 3-2 2,2 3-2 3,4 3-4 3-1 3,2 3,3 3-5 3-1 3,3 3,2 3-3 3-1 3,4 3,3 3-5 3-3 3,4 3-1 3,3 3,1 3-5 3-2 3,3 3,2 3,1 3-6 3,6 3-2 3-1 3-1 3,2 3,3 3-2 3,1 3-2 3,2 3-3 3,3 3-2 3-2 3-1 3,7 3-5 3,1 3,0 3,2 3,2 3-4 3-3 3,7 3-4 3-2 3-1 3,7 3-5 3,5 3-8 3,4 3-2 3,2 3,3 3-9 3,2 3-2 3-4 3-19 3-6 3-15 3-14 3-11 3-5 3-7 3-5 3-2 3,4 3-9 3-1 3-5 3,2 3-5 3-2 3-3 3,1 3-4 3-5 3-9 3,5 3-5 3-1 3-5 3,6 3-2 3-8 3-3 3-4 3-5 3-8 3-8 3,5 3-8 3-7 3-1 3-8 3-4 3-3 3-3 3,6 3,8 3,13 3,26 3,17 3,23 3,23 3,17 3,19 3,16 3,6 3,9 3-2 3,0 3,6 3-9 3,6 3,1 3-3 3,0 3,2 3,1 3,4 3,6 3,1 3-7 3-8 3,15 3-12 3,14 3-7 3-12 3,14 3,11 3-35 3,20 3-32 3-1 3-8 3,14 3-23 3,20 3-23 3,14 3-15 3-8 3,13 3,8 3-26 3-2 3-2 3-12 3,15 3,11 3-10 3-17 3,6 3-26 3-9 3,13 3-34 3,9 3,7 3-41 3,5 3-17 3-11 3,26 3-21 3-22 3,15 3,28 3-3 3,5 3,5 3,24 3-8 3,26 3-33 3,21 3-5 3-17 3,18 3,18 3-10 3-6 3,23 3-30 3,9 3,2 3,23 3,4 3-31 3,19 3,6 3-4 3-2 3-12 3,20 3-8 3,25 3-39 3,20 3,7 3,7 3,0 3-12 3,32 3-49 3,28 3-25 3,38 3,10 3-7 3-17 3-6 3,1 3-24 3,35 3,15 3-13 3,8 3-16 3,2 3,6 3-5 3-8 3,16 3-32 3,27 3-27 3,31 3-37 3-8 3-14 3,26 3-14 3,4 3-26 3,26 3,0 3,7 3,10" transform="scale(.1)" fill="none" stroke="#000000" stroke-width="10.0" stroke-linejoin="round"/>
<line x1="373.9" y1="297.93" x2="674.7" y2="297.93" stroke="#dc1e26" stroke-width="1.7" stroke-dasharray="4.2 4.35"/>
<line x1="373.9" y1="386.7" x2="373.9" y2="213.6" stroke="#999" stroke-width="1.1"/>
<line x1="373.9" y1="386.7" x2="377.1" y2="386.7" stroke="#aaa" stroke-width="0.9"/>
<line x1="373.9" y1="362.0" x2="377.1" y2="362.0" stroke="#aaa" stroke-width="0.9"/>
<line x1="373.9" y1="337.4" x2="377.1" y2="337.4" stroke="#aaa" stroke-width="0.9"/>
<line x1="373.9" y1="312.7" x2="377.1" y2="312.7" stroke="#aaa" stroke-width="0.9"/>
<line x1="373.9" y1="288.1" x2="377.1" y2="288.1" stroke="#aaa" stroke-width="0.9"/>
<line x1="373.9" y1="263.4" x2="377.1" y2="263.4" stroke="#aaa" stroke-width="0.9"/>
<line x1="373.9" y1="238.8" x2="377.1" y2="238.8" stroke="#aaa" stroke-width="0.9"/>
<line x1="373.9" y1="214.1" x2="377.1" y2="214.1" stroke="#aaa" stroke-width="0.9"/>
<text x="365.9" y="390.6" class="tk" style="font-size:10.3px" textLength="4.4" lengthAdjust="spacingAndGlyphs">0</text>
<text x="359.4" y="365.9" class="tk" style="font-size:10.3px" textLength="10.9" lengthAdjust="spacingAndGlyphs">0.1</text>
<text x="359.4" y="341.3" class="tk" style="font-size:10.3px" textLength="10.9" lengthAdjust="spacingAndGlyphs">0.2</text>
<text x="359.4" y="316.6" class="tk" style="font-size:10.3px" textLength="10.9" lengthAdjust="spacingAndGlyphs">0.3</text>
<text x="359.4" y="292.0" class="tk" style="font-size:10.3px" textLength="10.9" lengthAdjust="spacingAndGlyphs">0.4</text>
<text x="359.4" y="267.3" class="tk" style="font-size:10.3px" textLength="10.9" lengthAdjust="spacingAndGlyphs">0.5</text>
<text x="359.4" y="242.7" class="tk" style="font-size:10.3px" textLength="10.9" lengthAdjust="spacingAndGlyphs">0.6</text>
<text x="359.4" y="218.0" class="tk" style="font-size:10.3px" textLength="10.9" lengthAdjust="spacingAndGlyphs">0.7</text>
<text x="367.3" y="399.1" class="tk" style="font-size:10.3px" textLength="13.1" lengthAdjust="spacingAndGlyphs">400</text>
<text x="397.3" y="399.1" class="tk" style="font-size:10.3px" textLength="13.1" lengthAdjust="spacingAndGlyphs">600</text>
<text x="427.3" y="399.1" class="tk" style="font-size:10.3px" textLength="13.1" lengthAdjust="spacingAndGlyphs">800</text>
<text x="455.1" y="399.1" class="tk" style="font-size:10.3px" textLength="17.5" lengthAdjust="spacingAndGlyphs">1000</text>
<text x="485.1" y="399.1" class="tk" style="font-size:10.3px" textLength="17.5" lengthAdjust="spacingAndGlyphs">1200</text>
<text x="515.0" y="399.1" class="tk" style="font-size:10.3px" textLength="17.5" lengthAdjust="spacingAndGlyphs">1400</text>
<text x="545.0" y="399.1" class="tk" style="font-size:10.3px" textLength="17.5" lengthAdjust="spacingAndGlyphs">1600</text>
<text x="575.0" y="399.1" class="tk" style="font-size:10.3px" textLength="17.5" lengthAdjust="spacingAndGlyphs">1800</text>
<text x="605.0" y="399.1" class="tk" style="font-size:10.3px" textLength="17.5" lengthAdjust="spacingAndGlyphs">2000</text>
<text x="635.0" y="399.1" class="tk" style="font-size:10.3px" textLength="17.5" lengthAdjust="spacingAndGlyphs">2200</text>
<text x="664.9" y="399.1" class="tk" style="font-size:10.3px" textLength="17.5" lengthAdjust="spacingAndGlyphs">2400</text>
<text x="479.9" y="410.0" class="lab" style="font-size:9.8px" textLength="11.5" lengthAdjust="spacingAndGlyphs">(d)</text>
<text x="499.0" y="410.0" class="lab" style="font-size:9.8px" textLength="66.4" lengthAdjust="spacingAndGlyphs">Wavelength(nm)</text>
<g transform="translate(354.9,304.9) rotate(-90) scale(0.9,1)"><text x="0" y="0" class="lab" style="font-size:9.5px">R<tspan dx="0.8" dy="-5.0" style="font-size:7px">2</tspan></text></g>
<path d="M305,5845l3-11 3-22 3-16 3,28 3,32 3,6 3,41 3-4 3,8 3,10 3,6 3,4 3-6 3,19 3-4 3,2 3-11 3,6 3,3 3,4 3-9 3,0 3,0 3,8 3,3 3,1 3-4 3,6 3-12 3-6 3,14 3,6 3-10 3,5 3-1 3-1 3-6 3,3 3,11 3-2 3-16 3,17 3-2 3,2 3,0 3-6 3-6 3,14 3-18 3,6 3-9 3,8 3-1 3-8 3,0 3-4 3-1 3-7 3,13 3-14 3-9 3,4 3-2 3-8 3,2 3-1 3-3 3,1 3,6 3,12 3,10 3-8 3,19 3,14 3,10 3,14 3,8 3,17 3,4 3,9 3,17 3,23 3,18 3,19 3,16 3,27 3,10 3,25 3,15 3,14 3,1 3,16 3,0 3,27 3,2 3,20 3-10 3,0 3,12 3,1 3-1 3,3 3-12 3,10 3,5 3-13 3-3 3-3 3-4 3,4 3-8 3-6 3-3 3,3 3-11 3,2 3-1 3,1 3-1 3-2 3,4 3-12 3,5 3-10 3-5 3-9 3,7 3,1 3-1 3-2 3-15 3,12 3-10 3-6 3-5 3-2 3,1 3,6 3-10 3,2 3-4 3,5 3-15 3,14 3-8 3,5 3-4 3-9 3,8 3-4 3-4 3,9 3,4 3-17 3,2 3-2 3-2 3,1 3-1 3,2 3-8 3,1 3-1 3,0 3,3 3,5 3-6 3-5 3,2 3-3 3,1 3-4 3,7 3-3 3-4 3,3 3,8 3-12 3,1 3,10 3-6 3-4 3,6 3-7 3,4 3-10 3-2 3-2 3-1 3-13 3,6 3-11 3,3 3-11 3-14 3,5 3-19 3,4 3,0 3-2 3-1 3-3 3-11 3,0 3,0 3-4 3-13 3-8 3-16 3,16 3-18 3,15 3-13 3-8 3,3 3-10 3-5 3-4 3-3 3-7 3-11 3,2 3-9 3-8 3,4 3-10 3-1 3-18 3-6 3,2 3-2 3,1 3-21 3,4 3-1 3-10 3-4 3-11 3-3 3-7 3-9 3,5 3-8 3-6 3-6 3-10 3,3 3-1 3-21 3,8 3-19 3,7 3-23 3,2 3-3 3-14 3-1 3-6 3-5 3-10 3-4 3-15 3,0 3-3 3-2 3-4 3-2 3-15 3,4 3-18 3,3 3-20 3,13 3-3 3,0 3-7 3,1 3,0 3,7 3-7 3,5 3-9 3,9 3-3 3-5 3,12 3,3 3-2 3,4 3,1 3,0 3,2 3,5 3-2 3,12 3-6 3,18 3,9 3,30 3,43 3,112 3,151 3,156 3,79 3,42 3,27" transform="scale(.1)" fill="none" stroke="#0072BD" stroke-width="9.0" stroke-linejoin="round"/>
<path d="M1685,6387l3-32 3-28 3-23 3-33 3-34 3-46 3-87 3-90 3-91 3-99 3-99 3-76 3-23 3,31 3,47 3,68 3,64 3,101 3,140 3,133 3,93 3,45 3,35" transform="scale(.1)" fill="none" stroke="#0072BD" stroke-width="9.0" stroke-linejoin="round"/>
<path d="M2117,6394l3-22 3-23 3-58 3-24 3-64 3-53 3-42 3-50 3-41 3-44 3-41 3-23 3-22 3,37 3,72 3,97 3,120 3,68 3,58 3,26 3,12" transform="scale(.1)" fill="none" stroke="#0072BD" stroke-width="9.0" stroke-linejoin="round"/>
<path d="M2210,6376l3-15 3-2 3,1 3-4 3-14 3-25 3-18 3-31 3-45 3-32 3-23 3-37 3-38 3-39 3-24 3-4 3-36 3,2 3-54 3-24 3,28 3-24 3,49 3-38 3,88 3-20 3-73 3,62 3,72 3,18 3-147 3,39 3-3 3-73 3,50 3-3 3-57 3,48 3-25 3-31 3,73 3-25 3,41 3-6 3,72 3-54 3,64 3-81 3,22 3-23 3-22 3,21 3,6 3-110 3-77 3-3 3,2 3-84 3,3 3,11 3,93 3,10 3,63 3-57 3-62 3,26 3-10 3,86 3,35 3,46 3,17 3,8 3-13 3-34 3-13 3-31 3-3 3-28 3-61 3-103 3-117 3-126 3-95 3-65 3-11 3-30 3-17 3-19 3-15 3-19 3-27 3-8 3,25 3-15 3,15 3,6 3,6 3,50 3,45 3,68 3,52 3,61 3,56 3,58 3,47 3,64 3,62 3,53 3,60 3,51 3,63 3,41 3,35 3,7 3,36 3,2 3,29 3,7 3,3 3,24 3-10 3,19 3,10 3-4 3,15 3,13 3,11 3,11 3,1 3,7 3,4 3-9 3,1 3-7 3,4 3-12 3-5 3,2 3,1 3-1 3-4 3,12 3-19 3,11 3-15 3-12 3,4 3,12 3,0 3-13 3-5 3,3 3-9 3-2 3,1 3-23 3,3 3-28 3-32 3-46 3-31 3-42 3-31 3-32 3-42 3-36 3-29 3-43 3-39 3-47 3-40 3-28 3-23 3-41 3-35 3-16 3-19 3-39 3-39 3,36 3,22 3-80 3,20 3-3 3-94 3-19 3-18 3-33 3-36 3,31 3-56 3,4 3-88 3-29 3-36 3,33 3-6 3-61 3-72 3,30 3-59 3-85 3,69 3,26 3-50 3-55 3,63 3-47 3-85 3,93 3,36 3,78 3,124 3,36 3,37 3,114 3,66 3,117 3,46 3,12 3,110 3,1 3,62 3-13 3,27 3-5 3-31 3-22 3-34 3-54 3-21 3-40 3-48 3-53 3-21 3-52 3-20 3-65 3-113 3-56 3-89 3-94 3-95 3-123 3-59 3,6 3,4 3,54 3,36 3,23 3,14 3,73 3,63 3,97 3,82 3,80 3,85 3,89 3,80 3,46 3,90 3,22 3,9 3,46 3,26 3,47 3,36 3-2 3-78 3-10 3-51 3-18 3-68 3-41 3-32 3-52 3-87 3-30 3,1 3-52 3-17 3-89 3-46 3-37 3-94 3-59 3-21 3-35 3-31 3-6 3,42 3-13 3,55 3-19 3,68 3,31 3,44 3,49 3,60 3,83 3,39 3,91 3,66 3,77 3,17 3,82 3,47 3,63 3,40 3,27 3,45 3,63 3,74 3,25 3,47 3,27 3-11 3,10 3-11 3,4 3-4 3-32 3-17 3,29 3-23 3-47 3-119 3-33 3-97 3-69 3-64 3-101 3-85 3-44 3-84 3-79 3-37 3-49 3-91 3-66 3-59 3-37 3-16 3,52 3,31 3,64 3,59 3,60 3,81 3,48 3,127 3,200 3,95 3,143 3,125 3,37 3,11 3,52 3,22 3,18 3,14 3,102 3,56 3,34 3,46" transform="scale(.1)" fill="none" stroke="#0072BD" stroke-width="9.0" stroke-linejoin="round"/>
<path d="M305,6383l2-28 4,18 2-23 4,38 3-147 3,129 4-147 2,139 4-45 2,70 4-53 2,53 3-53 3,34 3-11 3,14 3-153 3,160 3-27 3,18 3-110 3,121 2-83 4,65 2-116 4,131 3-39 3,31 3-129 3,150 4-109 2,107 3-97 3,85 3-884 3,875 3-35 3,47 3-145 3,134 2-696 4,706 4-24 2,30 3-114 3,98 2-45 4,40 4-26 2,46 2-132 4,119 3-51 3,74 3-96 3,64 3-99 3,129 4-34 2,15 3-76 3,87 2-103 4,81 2-94 4,102 2-139 4,155 4-104 2,97 4-222 2,231 3-244 3,172 4-471 2,373 3-379 3,212 3-286 3,253 3-310 3,159 2-400 4,356 3-193 3,312 3-448 3,296 4-258 2,385 3-350 3,308 3-268 3,184 4-82 2,159 3-374 3,359 2-199 4,181 4-318 2,389 3-264 3,223 3-288 3,231 4-140 2,201 2-249 4,287 3-172 3,215 3-202 3,178 4-339 2,322 4-150 2,197 4-230 2,206 2-172 4,113 3-153 3,180 3-207 3,160 3-107 3,180 3-144 3,99 2-167 4,271 4-167 2,134 3-186 3,243 3-247 3,240 4-218 2,227 2-169 4,83 3-204 3,276 4-136 2,54 3-48 3,149 2-140 4,78 3-145 3,121 3-61 3,129 3-151 3,160 2-104 4,82 3-74 3,127 2-192 4,213 4-220 2,220 3-202 3,175 3-119 3,133 4-127 2,123 3-111 3,85 2-84 4,136 3-157 3,192 2-126 4,72 4-117 2,185 4-145 2,156 4-139 2,75 3-190 3,257 3-113 3,102 2-110 4,128 3-98 3,140 2-162 4,186 4-163 2,72 4-438 2,522 2-181 4,187 4-147 2,104 3-98 3,100 4-75 2,118 2-82 4,98 2-211 4,310 2-239 4,236 2-146 4,81 2-214 4,211 4-216 2,334 3-162 3,11 2-224 4,364 3-327 3,203 4-108 2,136 3-179 3,135 4-45 2,162 4-321 2,277 3-314 3,348 2-120 4,147 2-264 4,169 4-205 2,206 3-73 3,132 4-104 2,17 3-70 3,190 4-209 2,230 4-321 2,171 4-59 2,99 2-168 4,179 3-150 3,203 3-132 3,24 2-239 4,282 4-127 2,171 3-88 3,126 3-237 3,155 4-132 2,117 2-118 4,158 2-354 4,409 2-252 4,138 4-16 2,72 3-70 3,79 2-106 4,174 3-376 3,332 4-639 2,641 4-373 2,404 2-158 4,130 4-304 2,226 4-169 2,253 2-128 4,38 2-192 4,312 3-141 3,18 2-207 4,231 3-245 3,228 3-33 3,34 4-52 2,122 3-214 3,168 2-177 4,194 3-66 3,130 3-134 3,163 2-225 4,226 4-391 2,311 2-96 4,142 3-162 3,134 4-103 2,64 2-82 4,50 3-281 3,384 3-229 3,194 3-124 3,59 3-559 3,624 2-143 4,98 2-210 4,242 3-719 3,684 2-250 4,284 2-127 4,56 2-39 4,50 2-254 4,257 2-239 4,277 3-153 3,166 4-216 2,150 4-150 2,259 3-131 3,122 3-379 3,397 4-215 2,89 4-94 2,116 2-101 4,178 2-105 4,88 2-162 4,146 3-206 3,276 3-382 3,352 3-148 3,66 4-84 2,74 3-229 3,229 3-153 3,168 2-129 4,219 3-257 3,233 4-321 2,348 2-470 4,489 4-763 2,661 4-84 2,62 2-423 4,408 3-19 3,146 2-201 4,120 3-302 3,269 2-43 4,103 2-243 4,235 3-135 3,122 3-60 3,103 3-794 3,839 3-191 3,85 4-74 2,43 4-136 2,267 3-147 3,72 3-232 3,172 4-126 2,125 4-310 2,432 2-237 4,167 2-543 4,493 3-652 3,678 3-241 3,271 3-549 3,556 3-266 3,232 2-249 4,283 3-603 3,630 2-305 4,224 2-27 4,135 3-267 3,289 3-163 3,64 4-139 2,132 2-528 4,547 3-84 3,93 3-175 3,257 4-625 2,605 3-696 3,721 3-708 3,595 3-56 3,43 4-145 2,254 2-230 4,131 3-31 3,45 2-233 4,346 3-306 3,291 3-127 3,139 2-1747 4,1709 4-89 2,14 3-167 3,203 3-57 3,20 2-232 4,333 4-304 2,319 2-444 4,418 2-265 4,253 4-114 2,88 3-336 3,342 2-223 4,230 2-369 4,347 3-196 3,190 3-216 3,231 2-313 4,319 2-56 4,100 3-249 3,251 4-637 2,649 4-525 2,480 3-59 3,30 3-226 3,243 3-244 3,262 3-282 3,268 4-283 2,288 4-61 2,80 2-246 4,246 4-255 2,270 4-76 2,13 2-183 4,238 4-180 2,202 4-340 2,298 2-95 4,67 4-683 2,685 3-608 3,646 3-85 3,37 3-99 3,102 2-25 4,18 3-31 3,102 2-225 4,164 3-212 3,244 3-135 3,132 4-295 2,257 4-591 2,625 4-59 2,96 4-280 2,238 4-304 2,353 3-184 3,99 3-31 3,56 3-335 3,382 3-234 3,169 2-237 4,273 3-60 3,72 3-68 3,23 3-139 3,217 3-233 3,217 3-254 3,265 3-341 3,270 3-532 3,587 3-68 3,73 4-177 2,120 4-172 2,214 3-150 3,145 2-56 4,89 4-289 2,216 2-402 4,393 4-4 2,66 3-106 3,65 4-362 2,388 2-86 4,100 2-290 4,277 2-212 4,163 3-261 3,309 3-88 3,92 3-61 3,24 2-330 4,368 3-234 3,267 4-271 2,206 3-25 3,45 3-224 3,241 2-141 4,118 4-290 2,328 3-134 3,138 3-96 3,66 4-257 2,248 4-150 2,199 4-124 2,106 3-318 3,319 2-75 4,92 4-582 2,532 3-171 3,158 3-61 3,114 3-81 3,35 3-290 3,321 3-302 3,318 3-99 3,71 2-228 4,209 3-174 3,198 4-201 2,201 2-64 4,46 2-251 4,288 4-103 2,84 4-281 2,305 4-90 2,97 3-559 3,541 4-304 2,292 4-83 2,106 3-275 3,230 2-185 4,191 2-327 4,363 2-101 4,95 2-74 4,87 3-93 3,55 4-50 2,59 4-259 2,257 2-569 4,553 4-286 2,334 2-91 4,77 4-132 2,109 2-164 4,165 3-174 3,168 2-419 4,432 2-563 4,582 2-462 4,473 3-268 3,245 2-69 4,45 2-122 4,153 2-635 4,635 3-256 3,246 4-70 2,71 4-720 2,733 3-120 3,104 4-495 2,489 2-450 4,486 4-90 2,54 2-517 4,515 3-310 3,303 2-51 4,88 3-215 3,173 2-95 4,121 4-276 2,288 2-585 4,566 3-142 3,127 4-293 2,309 4-112 2,130 2-507 4,503 3-92 3,103 2-177 4,170 4-259 2,270 2-118 4,109 2-184 4,172 3-196 3,168 4-40 2,87 4-305 2,291 3-643 3,649 4-82 2,70 3-138 3,159 3-289 3,279 3-357 3,344 2-317 4,305 2-331 4,320 2-55 4,76 4-139 2,148 2-71 4,62 4-563 2,577 2-151 4,161 4-733 2,711 3-321 3,322 2-145 4,118 4-516 2,552 3-306 3,287 4-89 2,106 4-377 2,350 3-198 3,219 3-322 3,339 3-104 3,78 3-66 3,81 2-96 4,110 3-246 3,246 3-175 3,177 2-501 4,468 2-512 4,510 3-61 3,59 2-160 4,177 3-169 3,150 3-292 3,315 3-143 3,121 4-73 2,100 2-92 4,71 4-216 2,217 2-106 4,86 3-102 3,107 4-70 2,69 3-201 3,233 3-395 3,374 3-117 3,114 3-322 3,349 4-182 2,186 3-1272 3,1254 3-1362 3,1351 2-1279 4,1317 2-89 4,41 3-158 3,171 3-160 3,164 4-59 2,83 3-233 3,220 4-270 2,238 3-365 3,416 2-141 4,135 3-1490 3,1461 3-1544 3,1579 4-1424 2,1409 4-138 2,128 4-204 2,226 2-1060 4,1041 2-279 4,300 3-196 3,165 4-1572 2,1589 3-302 3,315 3-1696 3,1662 2-1532 4,1563 3-877 3,853 4-388 2,377 3-417 3,446 4-114 2,125 3-220 3,188 3-376 3,361 4-343 2,339 3-285 3,328 4-190 2,190 3-138 3,107 2-81 4,72 2-49 4,90 2-84 4,59 2-88 4,89 2-202 4,216 2-72 4,80 3-93 3,102 2-573 4,564 4-95 2,55 4-111 2,109 3-164 3,210 2-110 4,113 4-175 2,158 2-312 4,328 4-333 2,314 3-303 3,297 4-94 2,78 3-101 3,126 3-227 3,235 4-421 2,420 4-162 2,128 2-44 4,64 3-165 3,189 3-205 3,156 3-57 3,83 2-237 4,252 4-226 2,233 4-91 2,47 3-554 3,587 4-841 2,856 3-255 3,206" transform="scale(.1)" fill="none" stroke="#D95319" stroke-width="8.5" stroke-linejoin="round"/>
<path d="M305,6108l6,4 6,4 6,6 6,5 6,6 6,5 6,6 6,5 6,5 6,6 6,5 6,6 6,6 6,7 6,8 6,9 6,10 6,11 6,11 6,10 6,11 6,10 6,10 6,8 6,7 6,6 6,5 6,4 6,5 6,5 6,4 6,5 6,4 6,5 6,4 6,3 6,4 6,4 6,4 6,4 6,3 6,4 6,2 6,3 6,1 6,2 6,1 6,1 6,0 6-2 6-4 6-7 6-7 6-8 6-8 6-8 6-8 6-8 6-8 6-8 6-7 6-7 6-6 6-6 6-6 6-5 6-6 6-6 6-5 6-6 6-6 6-6 6-5 6-6 6-6 6-6 6-5 6-5 6-5 6-4 6-3 6-4 6-3 6-4 6-3 6-4 6-3 6-4 6-3 6-4 6-3 6-4 6-3 6-4 6-3 6-4 6-3 6-4 6-3 6-4 6-3 6-4 6-3 6-4 6-3 6-3 6-3 6-3 6-2 6-3 6-2 6-2 6-2 6-2 6-2 6-2 6-2 6-3 6-2 6-2 6-2 6-2 6-2 6-2 6-2 6-3 6-2 6-2 6-2 6-2 6-2 6-2 6-2 6-2 6-2 6-1 6-1 6,0 6,0 6,1 6,1 6,0 6,1 6,0 6,1 6,1 6,1 6,1 6,3 6,3 6,5 6,5 6,5 6,6 6,6 6,6 6,6 6,7 6,6 6,6 6,6 6,5 6,5 6,4 6,4 6,3 6,4 6,3 6,4 6,3 6,4 6,3 6,4 6,3 6,4 6,3 6,4 6,3 6,3 6,4 6,3 6,4 6,3 6,4 6,3 6,3 6,3 6,2 6,2 6,1 6,1 6,1 6,1 6,1 6,1 6,1 6,1 6,1 6,1 6,1 6,1 6,1 6,1 6,1 6,1 6,1 6,1 6,1 6,1 6,1 6,1 6,1 6,0 6,1 6,0 6,1 6,0 6,1 6,0 6,1 6,0 6,1 6,0 6,1 6,0 6,1 6,0 6,1 6,0 6,1 6,1 6,1 6,0 6,1 6,1 6,1 6,1 6,1 6,0 6,1 6,1 6,1 6,1 6,1 6,0 6,1 6,1 6,1 6,1 6,1 6,0 6,1 6,1 6,0 6,1 6,1 6,1 6,0 6,1 6,1 6,1 6,0 6,1 6,1 6,0 6,1 6,1 6,1 6,0 6,1 6,1 6,0 6,1 6,1 6,1 6,0 6,1 6,1 6,1 6,0 6,1 6,1 6,0 6,1 6,1 6,1 6,0 6,1 6,1 6,0 6,1 6,1 6,1 6,0 6,1 6,1 6,1 6,0 6,1 6,0 6,1 6,0 6,0 6,0 6,0 6,0 6,0 6,0 6,0 6,0 6,0 6,0 6,0 6,0 6,0 6,0 6,0 6,0 6,0 6,0 6,0 6,0 6,0 6,0 6,0 6,0 6,0 6,0 6,0 6,0 6,0 6,0 6,0 6,0 6,0 6,0 6,0 6,0 6,0 6,0 6,0 6,0 6,0 6,0 6,0 6,0 6,0 6,0 6,0 6-1 6,0 6-1 6,0 6-1 6-1 6-1 6,0 6-1 6-1 6-1 6,0 6-1 6-1 6,0 6-1 6-1 6-1 6,0 6-1 6-1 6,0 6-1 6-1 6-1 6,0 6-1 6-1 6-1 6,0 6-1 6-1 6,0 6-1 6-1 6-1 6,0 6-1 6-1 6,0 6-1 6-1 6-1 6,0 6-1 6-1 6-1 6,0 6-1 6-1 6-2 6-2 6-2 6-3 6-3 6-3 6-3 6-3 6-3 6-2 6-3 6-3 6-3 6-3 6-3 6-3 6-3 6-2 6-3 6-3 6-3 6-3 6-3 6-3 6-3 6-4 6-5 6-5 6-6 6-6 6-5 6-6 6-6 6-6 6-6 6-5 6-5 6-4 6-1 6,1 6,2 6,2 6,3 6,3 6,3 6,3 6,3 6,3 6,2 6,3 6,2 6,2 6,2 6,2 6,1 6,2 6,1 6,1 6,2 6,1 6,2 6,1 6,2 6,1 6,2 6,1 6,1 6,2 6,1 6,2 6,1 6,2 6,1 6,1 6,1 6,0 6-1 6-3 6-2 6-3 6-3 6-3 6-3 6-3 6-3 6-2 6-3 6-3 6-3 6-3 6-3 6-3 6-3 6-3 6-2 6-3 6-3 6-3 6-3 6-2 6-2" transform="scale(.1)" fill="none" stroke="#EDB120" stroke-width="9.0" stroke-linejoin="round"/>
<path d="M305,6364l5-173 2,154 4-36 4,58 2-47 6,62 3-85 4,86 4-202 3,204 5-197 3,191 5-81 3,43 2-5 5,20 5-325 2,339 6-183 2,200 4-306 4,306 4-77 3,40 5-275 2,304 3-201 5,183 4-15 4,10 2-124 5,112 4-213 3,210 3,0 5,9 3-116 5,107 4-124 3,160 5-71 2,71 5-142 3,116 2,0 6,19 3-153 4,148 3-88 4,95 5-129 3,101 4,0 4,30 3-168 4,143 4-132 3,161 5-75 3,38 4-35 4,49 4-15 3,0 3-129 4,165 5-266 3,261 3-21 5,0 4-83 3,99 5-92 2,94 5-131 3,146 5-124 3,122 3-141 4,114 3-123 4,114 3-456 5,478 5-136 3,146 2-52 5,54 4-130 3,118 6-53 2,48 5-5 3,24 3-87 4,66 4-8 3,0 6-4 2,6 4-74 4,86 2-90 5,100 4-372 3,354 4-111 4,123 5-68 3,80 2-196 5,158 4-163 3,159 4-4 4,28 2-122 6,127 3-210 4,215 3-90 4,58 4-78 4,102 5-65 3,78 4-59 3,65 4-157 3,159 5-170 3,153 2-15 6,16 2-158 5,148 4-184 3,164 5-89 3,122 5-34 3,35 3-36 4,43 3-203 4,164 3-6 5,15 2-91 6,95 2,0 5,11 4-12 3,7 5-86 3,96 4-133 4,114 4-490 3,483 4-103 3,99 5-265 3,309 2-167 6,152 2-23 5,0 2-144 5,153 4-56 4,50 3-114 5,129 4-150 3,163 4-193 3,191 5-105 3,96 3-388 5,361 2-164 5,210 5-139 2,105 4-23 4,41 3-34 5,27 4-16 3,32 5-169 2,145 5-128 3,158 2-64 6,28 2-126 5,130 3-108 4,133 4-30 4,11 2-330 6,354 2-205 5,204 3-35 4,36 5-29 3,25 5-74 3,66 3-188 4,159 3-22 4,52 5-171 3,150 4-39 4,57 5-50 2,44 5-30 2,28 3-25 5,22 3-82 5,66 3-119 4,134 3-252 4,277 5-157 3,150 3-95 5,84 2-62 5,59 3-163 4,177 6-106 2,105 4-22 4,20 3-30 4,0 5-2 2,0 5-58 3,95 4-149 4,148 2-116 5,109 3-83 4,89 3-83 5,60 3-77 5,66 4,0 3,32 5-88 2,100 4-279 4,249 4-74 4,99 3-208 4,188 4-72 3,74 5-183 3,199 4-293 4,286 2-28 5,7 4,0 3,10 6-10 2,22 4-23 4,26 4-91 3,77 4-91 3,106 6-134 2,129 2-343 6,313 5-70 2,107 4-111 3,100 5-26 3,38 2-86 6,78 4-168 3,141 4-175 3,207 3-83 5,87 5-144 3,128 4-33 3,55 3-76 4,67 3-304 5,302 3-64 5,55 3-325 4,301 5-92 2,134 4-102 4,97 5-60 3,60 3-178 4,141 4,0 3,18 3-4 5,17 3-62 5,39 2-73 5,80 2-118 5,137 4-20 4,15 5-48 3,24 2-51 5,71 3-99 4,112 5-263 3,248 3-78 5,85 2-16 5,12 4-314 3,314 5-60 3,46 3-88 5,92 5-49 2,31 5-5 2,35 4-16 4,6 4-184 4,199 4-116 3,125 3-87 4,88 5-196 3,176 3-32 5,21 2-338 5,162 5-531 2,424 5-188 3,360 4-644 4,563 4-173 3,175 2-493 5,456 4-145 4,149 2-374 6,367 4-363 3,336 5,0 2,263 3-15 5,8 5-320 3,346 2-134 5,132 3-30 4,34 3-40 5,0 5-61 2,93 4-88 4,72 3-175 4,176 3-98 5,94 4-19 4,26 3-258 4,267 4-194 3,165 3-99 5,133 4-124 4,119 4-223 3,233 3-184 4,167 3-275 5,255 2-140 6,156 3-117 4,139 2-169 5,172 5-57 3,28 3-133 5,148 5-243 2,214 2-109 5,111 4-12 4,8 4-19 4,51 5-18 2,20 4-72 3,47 5-160 3,152 4,0 4,3 2-3 5,0 4-171 3,193 4-125 4,145 5-153 3,110 2-50 5,86 3-168 4,162 3-47 5,58 3-108 5,105 2-106 5,79 2-3 5,6 4-129 4,140 3-176 5,169 4-42 3,57 4-22 3,23 5-119 3,88 4-60 4,60 4-139 3,148 5-120 2,124 4-48 4,53 3-138 5,127 5-264 2,260 3-74 5,113 4-63 3,27 5-58 2,79 3-30 5,0 3-57 4,80 5-219 3,240 2-171 6,145 2-80 5,106 2-223 5,223 5-100 3,66 4-135 4,153 4-46 3,47 4-89 3,91 3-162 5,161 3-160 5,132 5-23 2,44 3-111 4,95 4-89 4,119 3-41 5,50 4-84 3,44 3-50 4,55 4-70 4,76 3-128 5,150 2-309 5,300 3-90 4,82 5-182 3,178 5-115 3,130 4-136 3,115 3-158 4,171 3-27 5,12 3-55 5,45 2-120 5,146 3-169 4,160 5,0 3,9 4-131 4,119 3-53 4,83 3-270 4,244 3-31 5,38 3-80 5,74 4-74 3,97 3-111 4,101 5-43 3,52 3-52 5,17 3-30 4,49 2-119 5,122 3-19 5,0 5-32 3,29 4-105 3,134 4-155 4,136 3-41 4,70 5-72 3,46 4-150 3,165 4-86 3,86 4-313 4,306 3-61 5,52 4-68 3,86 4-96 3,93 4-156 4,124 4-52 4,59 2-62 5,97 2-58 5,51 4-195 4,181 5-195 3,211 3-67 4,38 4-101 3,132 4-122 4,121 4-284 4,258 2-263 5,286 2-171 5,147 4-51 4,78 4-228 4,231 3-40 4,4 3,0 4,2 5-21 3,44 4-199 4,186 2-103 5,88 5,0 2,3 3-95 5,103 5-7 3,0 5,0 2,40 3-194 4,167 5-58 3,71 4-308 4,297 4-164 3,165 2-101 5,78 5-230 3,243 3-73 5,75 3-126 4,131 5-77 2,97 4-43 4,19 3,0 5,26 3-212 4,171 3-75 4,120 3-357 5,329 3-26 5,21 3-106 4,133 3-92 4,55 4-109 4,123 5-86 3,92 2-62 5,46 3-350 4,368 4-80 4,66 5-46 3,80 2-103 5,69 4-158 3,189 6-163 2,123 3-151 5,191 4-153 3,124 4-234 3,239 4-113 4,132 4-277 4,244 4-672 3,707 5-136 2,127 5-21 3,0 4-170 4,198 5-249 2,245 3-35 4,43 4-109 4,105 3-96 5,87 5-624 2,625 4-196 3,200 5-138 3,129 3-11 5,14 2-54 5,55 3-169 4,168 6-54 2,36 3-229 5,251 3-16 4,6 5-430 2,451 3-445 5,430 3-189 5,163 4-108 3,116 5-70 2,66 3-108 5,113 2-32 6,39 2-292 5,294 4-332 3,329 4-105 4,99 4-103 4,137 4-50 3,15 5-37 2,34 4,0 4,17 3-58 5,51 4-92 3,82 3,0 4,0 5,0 3,25 2-22 6,0 2-136 5,131 4-25 3,40 3-66 5,78 4-37 4,21 3-13 4,0V6394H305Z" transform="scale(.1)" fill="#7E2F8E" stroke="#7E2F8E" stroke-width="8.0" stroke-linejoin="round"/>
<path d="M305,6305l6,4 6,4 6,5 6,5 6,4 6,5 6,5 6,5 6,4 6,5 6,5 6,5 6,4 6,5 6,3 6,1 6,2 6,1 6,1 6,1 6,2 6,1 6,1 6,2 6,1 6,0 6-2 6-2 6-2 6-2 6-3 6-2 6-2 6-2 6-4 6-10 6-19 6-23 6-24 6-23 6-23 6-23 6-23 6-22 6-23 6-22 6-22 6-22 6-19 6-17 6-15 6-16 6-15 6-15 6-15 6-16 6-15 6-14 6-14 6-13 6-14 6-13 6-14 6-13 6-13 6-12 6-11 6-11 6-10 6-11 6-11 6-11 6-10 6-11 6-10 6-9 6-9 6-8 6-8 6-8 6-9 6-7 6-6 6-6 6-6 6-6 6-5 6-6 6-6 6-6 6-6 6-6 6-6 6-6 6-6 6-6 6-6 6-5 6-3 6-2 6-2 6-2 6-2 6-3 6-2 6-2 6-2 6-2 6-3 6-2 6-2 6-2 6-2 6-2 6-2 6-2 6-2 6-1 6-2 6-1 6-2 6-2 6-1 6-2 6-1 6-2 6-2 6-1 6-2 6-1 6-2 6-2 6-1 6-1 6-1 6,0 6-1 6-1 6-1 6-1 6,0 6-1 6-1 6-1 6-1 6-1 6,0 6-1 6-1 6,6 6,23 6,28 6,12 6,5 6,4 6,4 6,4 6,3 6,4 6,4 6,4 6,4 6,4 6,4 6,4 6,4 6,4 6,4 6,5 6,5 6,5 6,5 6,6 6,5 6,5 6,5 6,5 6,5 6,5 6,5 6,5 6,5 6,5 6,5 6,5 6,5 6,5 6,3 6,2 6,2 6,2 6,2 6,2 6,2 6,2 6,2 6,2 6,2 6,2 6,2 6,2 6,2 6,2 6,2 6,2 6,2 6,2 6,2 6,2 6,2 6,2 6,2 6,1 6,1 6,1 6,1 6,0 6,1 6,1 6,0 6,1 6,1 6,1 6,0 6,1 6,1 6,1 6,0 6,1 6,1 6,0 6,0 6-3 6-6 6-7 6-7 6-7 6-5 6,0 6,10 6,13 6,13 6,13 6,13 6,9 6,4 6,3 6,2 6,2 6,2 6,3 6,2 6,2 6,2 6,3 6,2 6,2 6,2 6,2 6,3 6,2 6,2 6,2 6,2 6,1 6,2 6,1 6,2 6,1 6,2 6,1 6,2 6,1 6,2 6,2 6,1 6,2 6,1 6,2 6,1 6,2 6,1 6,2 6,1 6,2 6,1 6,2 6,1 6,2 6,2 6,1 6,2 6,1 6,2 6,1 6,2 6,1 6,2 6,1 6,2 6,1 6,2 6,1 6,1 6,1 6,1 6,0 6,1 6,1 6,1 6,1 6,0 6,1 6,1 6,1 6,1 6,0 6,1 6,1 6,1 6,1 6,0 6,1 6,1 6,1 6,1 6,1 6,0 6,1 6,1 6,0 6,1 6,0 6,1 6,0 6,1 6,0 6,1 6,0 6,1 6,0 6,1 6,0 6,1 6,0 6,1 6,0 6,1 6,0 6,1 6,0 6,1 6,0 6,1 6,0 6,1 6,0 6,0 6-1 6-2 6-3 6-3 6-2 6-3 6-3 6-2 6-3 6-3 6-3 6-2 6-3 6-3 6-2 6-3 6-3 6-2 6-3 6-3 6-3 6-2 6-3 6-3 6-2 6-3 6,0 6,6 6,11 6,11 6,11 6,9 6,4 6,1 6,0 6,1 6,1 6,1 6,1 6,1 6,1 6,1 6,1 6,1 6,1 6,1 6,0 6,1 6,1 6,1 6,1 6,0 6-2 6-3 6-2 6-2 6-3 6-2 6-2 6-3 6-2 6-2 6-3 6-2 6-3 6-2 6-5 6-10 6-13 6-12 6-13 6-12 6-13 6-13 6-12 6-13 6-12 6-12 6-12 6-12 6-11 6-12 6-9 6-3 6,5 6,6 6,7 6,6 6,7 6,8 6,10 6,9 6,10 6,9 6,10 6,9 6,10 6,9 6,10 6,9 6,10 6,9 6,6 6,1 6,1 6,0 6,0 6,0 6,0 6,0 6,0 6,0 6,0 6,0 6,0 6,0 6-1 6-1 6-1 6-2 6-1 6-2 6-1 6-2 6-1 6-1 6-2 6-1 6-3 6-7 6-11 6-13 6-13 6-12 6-13 6-13 6-12 6-13 6-12 6-10 6-7 6-6" transform="scale(.1)" fill="none" stroke="#4DBEEE" stroke-width="9.0" stroke-linejoin="round"/>
<path d="M305,6273l6,5 6,6 6,6 6,6 6,6 6,7 6,6 6,6 6,6 6,7 6,6 6,6 6,6 6,6 6,4 6,2 6,2 6,2 6,2 6,2 6,2 6,2 6,2 6,2 6,1 6,1 6-1 6-2 6-2 6-2 6-1 6-2 6-2 6-2 6-3 6-10 6-19 6-23 6-24 6-23 6-23 6-23 6-23 6-22 6-23 6-22 6-22 6-22 6-19 6-16 6-14 6-15 6-14 6-15 6-14 6-15 6-14 6-14 6-13 6-13 6-13 6-13 6-13 6-13 6-12 6-12 6-10 6-10 6-10 6-10 6-10 6-10 6-10 6-10 6-9 6-9 6-8 6-9 6-8 6-8 6-8 6-7 6-6 6-6 6-5 6-6 6-5 6-6 6-5 6-5 6-6 6-5 6-6 6-5 6-6 6-5 6-6 6-4 6-3 6-3 6-2 6-2 6-2 6-2 6-3 6-2 6-2 6-2 6-2 6-2 6-3 6-2 6-2 6-2 6-2 6-2 6-1 6-2 6-2 6-1 6-2 6-1 6-2 6-2 6-1 6-2 6-1 6-2 6-2 6-1 6-2 6-1 6-1 6-1 6-1 6,0 6-1 6-1 6,0 6-1 6,0 6-1 6-1 6,0 6-1 6-1 6,0 6-1 6,0 6,5 6,21 6,24 6,10 6,4 6,2 6,3 6,3 6,3 6,2 6,3 6,3 6,3 6,2 6,3 6,3 6,3 6,3 6,3 6,4 6,4 6,5 6,4 6,4 6,4 6,4 6,4 6,5 6,4 6,4 6,4 6,4 6,4 6,4 6,5 6,4 6,4 6,4 6,2 6,2 6,2 6,2 6,1 6,2 6,2 6,1 6,2 6,2 6,2 6,1 6,2 6,2 6,1 6,2 6,2 6,2 6,1 6,2 6,2 6,1 6,2 6,2 6,1 6,2 6,0 6,1 6,0 6,1 6,0 6,1 6,0 6,1 6,1 6,0 6,1 6,0 6,1 6,0 6,1 6,0 6,1 6,0 6,0 6-2 6-5 6-6 6-6 6-6 6-4 6,1 6,9 6,13 6,12 6,13 6,12 6,9 6,4 6,2 6,2 6,2 6,3 6,2 6,2 6,2 6,3 6,2 6,2 6,2 6,3 6,2 6,2 6,2 6,2 6,2 6,2 6,1 6,2 6,1 6,2 6,1 6,1 6,2 6,1 6,2 6,1 6,2 6,1 6,2 6,1 6,1 6,2 6,1 6,2 6,1 6,2 6,1 6,2 6,1 6,1 6,2 6,1 6,2 6,1 6,2 6,1 6,2 6,1 6,1 6,2 6,1 6,2 6,1 6,2 6,1 6,1 6,0 6,1 6,1 6,1 6,1 6,1 6,0 6,1 6,1 6,1 6,1 6,0 6,1 6,1 6,1 6,1 6,0 6,1 6,1 6,1 6,1 6,0 6,1 6,1 6,1 6,1 6,0 6,1 6,0 6,1 6,1 6,0 6,1 6,0 6,1 6,1 6,0 6,1 6,1 6,0 6,1 6,0 6,1 6,1 6,0 6,1 6,1 6,0 6,1 6,0 6,1 6,1 6,0 6,0 6-1 6-3 6-4 6-3 6-4 6-3 6-4 6-3 6-4 6-3 6-4 6-3 6-4 6-3 6-4 6-3 6-4 6-3 6-4 6-3 6-4 6-3 6-4 6-3 6-4 6-3 6,0 6,7 6,14 6,14 6,14 6,12 6,4 6,1 6,2 6,1 6,1 6,2 6,1 6,1 6,1 6,2 6,1 6,1 6,2 6,1 6,1 6,1 6,2 6,1 6,1 6-1 6-2 6-3 6-4 6-3 6-3 6-4 6-3 6-3 6-4 6-3 6-3 6-3 6-4 6-3 6-6 6-12 6-14 6-15 6-14 6-15 6-14 6-14 6-15 6-14 6-14 6-12 6-11 6-11 6-11 6-11 6-9 6-3 6,4 6,6 6,6 6,6 6,7 6,8 6,10 6,11 6,11 6,11 6,11 6,11 6,11 6,11 6,11 6,11 6,10 6,11 6,6 6,2 6,0 6,0 6,0 6,0 6,0 6,0 6,0 6,0 6,0 6,0 6,0 6,0 6,0 6-1 6-1 6-2 6-1 6-2 6-1 6-2 6-1 6-1 6-2 6-2 6-3 6-9 6-14 6-16 6-16 6-17 6-16 6-16 6-16 6-16 6-14 6-4 6,4 6,5" transform="scale(.1)" fill="none" stroke="#A2142F" stroke-width="9.0" stroke-linejoin="round"/>
<path d="M305,5610l3-10 3,4 3-22 3,0 3,7 3-39 3-4 3-5 3-2 3-8 3-21 3-3 3-7 3-7 3-8 3-13 3-4 3-7 3-7 3-13 3-4 3,18 3-19 3-7 3,8 3,2 3-10 3,0 3-5 3,8 3-10 3-5 3,10 3-21 3,3 3-7 3,8 3-8 3-3 3,13 3-11 3-1 3-6 3-17 3-5 3-4 3-6 3-17 3-16 3,2 3-14 3,10 3-10 3-16 3,3 3-6 3-15 3,13 3-9 3-5 3,0 3-20 3,13 3-2 3-5 3-17 3,13 3-6 3,6 3,12 3,7 3-5 3,21 3,5 3,25 3,17 3,22 3,35 3,26 3,41 3,30 3,33 3,52 3,61 3,52 3,68 3,49 3,63 3,70 3,51 3,55 3,58 3,50 3,44 3,35 3,38 3,16 3,34 3,24 3,12 3,0 3,10 3,16 3-5 3-19 3-1 3-8 3,22 3-27 3,9 3-4 3,7 3-16 3-20 3-4 3-9 3-21 3,6 3-19 3-8 3-18 3-8 3-9 3,6 3-23 3-16 3-14 3,8 3-32 3-31 3-21 3-16 3-9 3-31 3-20 3-14 3-14 3-22 3-26 3-1 3-24 3-32 3-8 3-18 3-20 3-9 3-3 3-8 3-21 3-12 3-3 3-30 3-4 3-29 3-9 3-14 3-4 3-4 3-7 3-13 3-13 3-19 3,14 3-24 3-15 3,14 3-21 3-16 3,1 3-17 3-9 3-16 3,6 3-25 3,2 3-5 3-13 3-20 3-5 3-1 3,2 3-20 3-5 3-7 3-2 3-12 3-8 3,0 3-5 3-10 3-5 3-5 3-11 3,2 3-12 3-17 3,14 3-7 3-10 3-9 3-11 3,10 3-4 3-11 3-16 3,12 3-14 3-14 3-2 3,9 3-11 3-19 3,5 3-20 3,20 3-7 3,16 3-30 3,9 3,0 3-9 3-8 3,9 3-19 3,4 3-13 3,5 3,12 3-10 3-11 3,9 3-14 3,0 3-1 3-7 3,13 3-8 3-7 3,6 3-7 3-2 3-4 3,2 3-16 3,21 3-14 3,3 3-13 3,8 3-15 3,4 3-7 3,1 3,6 3-10 3,4 3-2 3-13 3,18 3-13 3,9 3,4 3-16 3,1 3-4 3,2 3,1 3-5 3,5 3-14 3,6 3-11 3,2 3,9 3,10 3-26 3,14 3-5 3,22 3,2 3-22 3,8 3,6 3,0 3-8 3,15 3-13 3,22 3-8 3,3 3,5 3-4 3,3 3-8 3,1 3,2 3,1 3,20 3,0 3,15 3,42 3,32 3,36 3,20 3,20 3,12 3,5 3,4 3-9 3,10 3,6 3-7 3,16 3,22 3-5 3,8 3,14 3-1 3,1 3-8 3,14 3,11 3,9 3-18 3,16 3,1 3,16 3-14 3,6 3,3 3,15 3-6 3,15 3,1 3,13 3-14 3,30 3-10 3,6 3-16 3,10 3,14 3,14 3-11 3,13 3,3 3,4 3-11 3,15 3,9 3-8 3,4 3,2 3,6 3-4 3,25 3,0 3-7 3,7 3,9 3,0 3,4 3,19 3-9 3,10 3,2 3-10 3,16 3-4 3,8 3,5 3,4 3,10 3-7 3,3 3,1 3,9 3-2 3,8 3-5 3,2 3-7 3,10 3,3 3,9 3-16 3,20 3,9 3-14 3,0 3,15 3-14 3,27 3-10 3,1 3-4 3,18 3-11 3-3 3,13 3-8 3,10 3-9 3,19 3-7 3,26 3-19 3,2 3-6 3,22 3-13 3,0 3-10 3,18 3,4 3-7 3,2 3-5 3,20 3-17 3,24 3-9 3,14 3-11 3,1 3,8 3,7 3,2 3-6 3,10 3,1 3,3 3-5 3,13 3,2 3-4 3,4 3-2 3,2 3,10 3-1 3,5 3,12 3-7 3,1 3,11 3-13 3,40 3-25 3-4 3-3 3-10 3-13 3-12 3-4 3,7 3-8 3-5 3-11 3,12 3-14 3,16 3-12 3,13 3-16 3-21 3,15 3-4 3-28 3-32 3-15 3-44 3-47 3-28 3-7 3,21 3,66 3,42 3,36 3,80 3,50 3,43 3,36 3,58 3,51 3,13 3,13 3,27 3,26 3,14 3,5 3,29 3,8 3,8 3,5 3,13 3-7 3,8 3,5 3-18 3,10 3,8 3,8 3,3 3,1 3,3 3-14 3,13 3-7 3,19 3-11 3,12 3-6 3-7 3,19 3-9 3-7 3,19 3,8 3,2 3,4 3-1 3,6 3-7 3,4 3,30 3-27 3,12 3,19 3-12 3-7 3,16 3-3 3,14 3-10 3,20 3,0 3,1 3-7 3,5 3-3 3,11 3,5 3-20 3,18 3,0 3,12 3,1 3-8 3,0 3,13 3,0 3-2 3-8 3,13 3-13 3,8 3-3 3,13 3,0 3,9 3-4 3-1 3,12 3-6 3-5 3,0 3,9 3-17 3,2 3,5 3-12 3,5 3-3 3-15 3,15 3-15 3,3 3-4 3,0 3-8 3,5 3,3 3-8 3,0 3-2 3-5 3-9 3,4 3-11 3,9 3-13 3-16 3,8 3-11 3,6 3-24 3-3 3,3 3-6 3-19 3,6 3-17 3-10 3,2 3-14 3-4 3,3 3-8 3-10 3-14 3,18 3-13 3-10 3-12 3-25 3-9 3-1 3,0 3-20 3-19 3-6 3-29 3,12 3-13 3-17 3-13 3-8 3,5 3-17 3-21 3-4 3-34 3,1 3-2 3-13 3-10 3-4 3-15 3-2 3-25 3,0 3-17 3-26 3-12 3-4 3-34 3-9 3-9 3-25 3,7 3-2 3-22 3-34 3-30 3-13 3,64 3-39 3-50 3,57 3-74 3-14 3-25 3,7 3-11 3,8 3-68 3,42 3-20 3-14 3,15 3,11 3-46 3-19 3-13 3,28 3-27 3-15 3-34 3,11 3-36 3,22 3,8 3-33 3,3 3-34 3,14 3-16 3-48 3,14 3,34 3-67 3,2 3,8 3-27 3,20 3-47 3,3 3,3 3-21 3-9 3-28 3,16 3-19 3-17 3-47 3,62 3-42 3,35 3-9 3,2 3,7 3-9 3,3 3,58 3-55 3,18 3-26 3-32 3-24 3-6 3-19 3-20 3-8 3-10 3-36 3-15 3,0 3-12 3,9 3-4 3,13 3-15 3,29 3-1 3,18 3,51 3,40 3,80 3,61 3,82 3,94 3,90 3,89 3,89 3,84 3,72 3,50 3,73 3,71 3,25 3,25 3,0 3,14 3-6 3,5 3,3 3-8 3,5 3,2 3,3 3,19 3-15 3-4 3,0 3,10 3-2 3-23 3,0 3-12 3-5 3-17 3,5 3-4 3-21 3-7 3-1 3-18 3-2 3-19 3-5 3-17 3-12 3-34 3-10 3-35 3-15 3-10 3-33 3-17 3-4 3-31 3-16 3-27 3-28 3-24 3-13 3-9 3-51 3-8 3-37 3-14 3-26 3-24 3-30 3-22 3-14 3-30 3-34 3-15 3,5 3-4 3-12 3-22 3,11 3-13 3,2 3-10 3,0 3-15 3-17 3,2 3,0 3-7 3,8 3,10 3-15 3,22 3-4 3,27 3-11 3,14 3,4 3,10 3,5 3-5 3,17 3,5 3,6 3,5 3,13 3,7 3-3 3-6 3,15 3,6 3-1 3,13 3-5 3,10 3,6 3,4 3,11 3-1 3,31 3,3 3-3 3,28 3-4 3,10 3,26 3,4 3,6 3,37 3,39 3,50 3,39 3,54 3,49 3,39 3,51 3,56 3,52 3,35 3,26 3,21 3,17 3,23 3,26 3,30 3,14 3,15 3,52 3,3 3,29 3,18 3,21 3,8 3,11 3-2 3-3 3-11 3,11 3-5 3,4 3,3 3-10 3,1 3,12 3-22 3-13 3-13 3-22 3-14 3-47 3-6 3-23 3-48 3-73 3-23 3-153 3-59 3-42 3-59 3-30 3-28 3-5 3-51 3,15 3-35 3-12 3-1 3-13 3-9 3-24 3-4 3-7 3-5 3-7 3,25 3,0 3,37 3-21 3,0 3,64 3-19 3,16 3,48 3-59 3,55 3-27 3,46 3-5 3,36 3,0 3,20 3,31 3,13 3,25 3,11 3-13 3,37 3-22 3,50 3-17 3,42 3-14 3,0 3,9 3,2 3-22 3,22 3-24 3,40 3-37 3,3 3-24 3,24 3-21 3-47 3,2 3,1 3-32 3-28 3,4 3,15 3,23 3,3 3,70 3,4 3,27 3,11 3,48 3,23 3,15 3,31 3,4 3,16 3,32 3,26 3-3 3,37 3,17 3-24 3,57 3-7 3-9 3,44 3,15 3-15" transform="scale(.1)" fill="none" stroke="#000000" stroke-width="10.0" stroke-linejoin="round"/>
<line x1="30.5" y1="509.44" x2="331.5" y2="509.44" stroke="#dc1e26" stroke-width="1.7" stroke-dasharray="4.2 4.35"/>
<line x1="30.5" y1="639.4" x2="30.5" y2="422.3" stroke="#a8a8a8" stroke-width="1.4"/>
<line x1="30.5" y1="639.4" x2="33.7" y2="639.4" stroke="#aaa" stroke-width="0.9"/>
<line x1="30.5" y1="603.3" x2="33.7" y2="603.3" stroke="#aaa" stroke-width="0.9"/>
<line x1="30.5" y1="567.2" x2="33.7" y2="567.2" stroke="#aaa" stroke-width="0.9"/>
<line x1="30.5" y1="531.1" x2="33.7" y2="531.1" stroke="#aaa" stroke-width="0.9"/>
<line x1="30.5" y1="495.0" x2="33.7" y2="495.0" stroke="#aaa" stroke-width="0.9"/>
<line x1="30.5" y1="458.9" x2="33.7" y2="458.9" stroke="#aaa" stroke-width="0.9"/>
<line x1="30.5" y1="422.8" x2="33.7" y2="422.8" stroke="#aaa" stroke-width="0.9"/>
<text x="21.6" y="642.6" class="tk" style="font-size:9.9px" textLength="4.5" lengthAdjust="spacingAndGlyphs">0</text>
<text x="14.8" y="606.5" class="tk" style="font-size:9.9px" textLength="11.3" lengthAdjust="spacingAndGlyphs">0.1</text>
<text x="14.8" y="570.4" class="tk" style="font-size:9.9px" textLength="11.3" lengthAdjust="spacingAndGlyphs">0.2</text>
<text x="14.8" y="534.3" class="tk" style="font-size:9.9px" textLength="11.3" lengthAdjust="spacingAndGlyphs">0.3</text>
<text x="14.8" y="498.2" class="tk" style="font-size:9.9px" textLength="11.3" lengthAdjust="spacingAndGlyphs">0.4</text>
<text x="14.8" y="462.1" class="tk" style="font-size:9.9px" textLength="11.3" lengthAdjust="spacingAndGlyphs">0.5</text>
<text x="14.8" y="426.0" class="tk" style="font-size:9.9px" textLength="11.3" lengthAdjust="spacingAndGlyphs">0.6</text>
<text x="23.7" y="651.3" class="tk" style="font-size:9.9px" textLength="13.5" lengthAdjust="spacingAndGlyphs">400</text>
<text x="53.7" y="651.3" class="tk" style="font-size:9.9px" textLength="13.5" lengthAdjust="spacingAndGlyphs">600</text>
<text x="83.7" y="651.3" class="tk" style="font-size:9.9px" textLength="13.5" lengthAdjust="spacingAndGlyphs">800</text>
<text x="111.5" y="651.3" class="tk" style="font-size:9.9px" textLength="18.0" lengthAdjust="spacingAndGlyphs">1000</text>
<text x="141.5" y="651.3" class="tk" style="font-size:9.9px" textLength="18.0" lengthAdjust="spacingAndGlyphs">1200</text>
<text x="171.5" y="651.3" class="tk" style="font-size:9.9px" textLength="18.0" lengthAdjust="spacingAndGlyphs">1400</text>
<text x="201.5" y="651.3" class="tk" style="font-size:9.9px" textLength="18.0" lengthAdjust="spacingAndGlyphs">1600</text>
<text x="231.5" y="651.3" class="tk" style="font-size:9.9px" textLength="18.0" lengthAdjust="spacingAndGlyphs">1800</text>
<text x="261.5" y="651.3" class="tk" style="font-size:9.9px" textLength="18.0" lengthAdjust="spacingAndGlyphs">2000</text>
<text x="291.5" y="651.3" class="tk" style="font-size:9.9px" textLength="18.0" lengthAdjust="spacingAndGlyphs">2200</text>
<text x="321.5" y="651.3" class="tk" style="font-size:9.9px" textLength="18.0" lengthAdjust="spacingAndGlyphs">2400</text>
<text x="136.6" y="662.1" class="lab" style="font-size:9.4px" textLength="11.9" lengthAdjust="spacingAndGlyphs">(e)</text>
<text x="156.8" y="662.1" class="lab" style="font-size:9.4px" textLength="70.0" lengthAdjust="spacingAndGlyphs">Wavelength(nm)</text>
<g transform="translate(10.9,535.6) rotate(-90) scale(0.9,1)"><text x="0" y="0" class="lab" style="font-size:10.2px">R<tspan dx="0.8" dy="-5.0" style="font-size:7px">2</tspan></text></g>
<path d="M651.7,623.9L652.1,546.4L652.5,623.9M652.3,608.4L652.7,508.3L653.1,608.4M653.1,623.9L653.5,546.4L653.8,623.9M673.3,614.6L673.7,561.9L674.1,614.6M672.6,623.9L673.0,592.9L673.3,623.9M519.7,639.4L520.1,628.6L520.4,639.4" fill="none" stroke="#0072BD" stroke-width="1.00" stroke-linejoin="round"/>
<path d="M3745,6257l4,0 8,118 6-191 6,157 8-125 4,0 6-236 6,382 4-959 8,931 5-145 7,157 8-104 4,89 5-120 7,115 7-1047 5,931 4-235 8,323 6-518 6,435 7,0 5,146 7-194 5,77 5-214 7,248 5-224 7,213 5-184 7,173 4-166 8,139 7,0 5,138 5-150 7,66 7-199 5,275 5-146 7,45 6-789 6,840 7-90 5,0 6-42 6,75 6-868 6,884 6-214 6,182 8-32 4,124 7-60 5,7 7-189 5,214 7-172 5,241 6-340 6,234 5-86 7,41 6,0 6,152 7-100 5,22 4-63 8,103 4-129 8,154 4-101 8,65 3-519 9,559 4-129 8,0 7,0 5,145 4-145 8,53 6-416 6,506 7-264 5,270 7-147 5,0 6-237 6,321 5-73 7,19 6-877 6,822 5-124 7,198 6-203 6,146 5-73 7,126 6-109 6,220 7-1235 5,1141 5-409 7,394 8-549 4,509 7-588 5,725 4-1750 8,1631 7-313 5,374 7-346 5,274 4-73 8,75 6-365 6,405 5-210 7,214 4-534 8,466 8-1288 3,1414 7-184 5,89 7-751 5,727 4,0 8,147 8-319 4,148 5-1064 7,1111 7-32 5,56 8-61 4,113 5-564 7,488 5-78 7,212 6-128 6,88 8-191 4,174 5-101 7,111 8-583 4,500 5-5 7,51 9-680 3,713 5-195 7,105 5-132 7,256 8-155 4,137 4-829 8,724 9-834 3,947 6-215 6,135 6-88 6,82 4-355 8,315 7-120 5,187 5-61 7,116 8-333 4,236 6-273 6,263 4-456 8,494 8-24 4,72 7-408 5,293 4-246 8,416 8-1053 4,1027 8-145 4,41 9-600 3,670 4-205 8,131 5-222 7,311 8-422 4,293 7-848 5,1015 8-572 4,472 8-337 4,429 8-262 4,146 8-233 4,284 5-563 7,617 7-400 5,287 4-13 8,128 8-908 4,886 5-213 7,202 8-423 4,425 8-186 4,61 5,0 7,8 6-287 6,364 4-72 8,131 7-161 5,92 6-118 6,180 5-417 7,293 7-139 5,298 7-190 5,88 7-322 5,397 7-381 5,320 8-63 4,154 7-147 5,87 6-120 6,0 7-126 5,204 5-64 7,111 4-95 8,19 7-116 5,85 5,0 7,136 6-434 6,368 8-66 4,70 6-690 6,754 7-306 5,248 6-66 6,0 5-693 7,701 5-473 7,593 4-247 8,165 6-120 6,111 5-233 7,183 7-327 5,410 4-303 8,253 8-301 4,365 8-427 4,353 8-350 4,452 4-122 8,0 6-107 6,156 7-268 5,208 7-106 5,100 8,0 4,16 7,0 5,13 4-1552 8,1600 7-224 5,148 4-171 8,216 6-120 6,212 8-217 4,197 7-457 5,380 5-550 7,547 5-70 7,35 4-79 8,116 8-76 4,47 8-35 4,147 5-68 7,111 7-199 5,113 5-61 7,0 5-11 7,0 7-377 5,445 7-165 5,197 5-274 7,171 7-440 5,608 5-364 7,340 3-118 9,1 7-7 5,127 7-656 5,641 5-524 7,468 4-31 8,0 4-1201 8,1226 7-80 5,136 8-317 4,305 4-320 8,300 6-611 6,609 7-666 5,700 8-592 4,569 7-424 5,423 3-53 9,117 5-275 7,160 4-331 8,434 7-193 4,80 8-848 4,956 9-532 3,411 8-141 4,196 6-458 6,459 4-84 8,34 6-158 6,269 9-116 3,112 6-157 6,60 8-625 4,723 7-273 5,136 7-1285 5,1286 6,0 6,134 9-120 3,116 8-104 4,49 6-367 6,387 7-99 5,0 8-16 4,58 8-127 4,125 5-678 7,677 5-126 7,89 5-151 7,151 7-777 5,910 5-86 7,86 5-239 7,254 5-1525 7,1499 7-462 5,507 6-263 6,98 4-123 8,183 7-198 5,243 8-453 4,463 8-425 4,349 6-69 6,170 6-155 6,88 8-262 4,199 7-469 5,588 8-139 4,7 8-267 4,260 6,0 6,128 7-902 5,896 5-472 7,452 5-338 7,356 8-277 4,292 8-124 4,83 4-65 8,0 5-964 7,970 7-344 5,456 6-604 6,544 6-552 6,588 8-413 4,382 7-104 5,154 6-120 6,106 5-578 7,468 7-300 5,395 5-787 7,685 7-65 5,125 6-65 6,133 7-219 5,92 6-519 6,549 5-61 7,47 8-361 4,451 8-390 4,397 7-701 5,668" transform="scale(.1)" fill="none" stroke="#D95319" stroke-width="8.0" stroke-linejoin="round"/>
<path d="M3745,6342l4-130 5,148 6-134 3,145 3-215 6,134 6-156 3,236 3-93 6,0 6-198 3,184 3-80 6,186 5-105 4,58 5-282 4,289 6-125 3,101 4-142 5,138 6-19 3,50 4-186 5,105 5-83 4,77 5,0 4,91 5-46 4,84 6-135 3,106 4-287 5,286 3-112 6,88 4-260 5,267 6-200 3,157 3-23 6,117 6-139 3,73 6-12 3,75 3-204 6,71 3,0 6,110 6-269 3,187 5-27 4,66 4-222 5,209 6-127 3,125 4-30 5,46 4-53 5,59 5-78 4,100 3-70 6,93 4-101 5,78 5-53 4,90 3-111 6,113 3-137 6,135 3-112 6,109 3-98 6,60 4-85 5,120 4-128 5,120 4-138 5,117 4-58 5,90 4-148 5,130 4-95 5,102 6-107 3,100 5-61 4,57 6-133 3,156 4-135 5,139 3-94 6,66 3-125 6,110 5-52 4,90 5-100 4,94 5-74 4,57 3-85 6,101 6-94 3,84 5-143 4,139 5-51 4,44 5-96 4,103 5-63 4,47 5-63 4,79 3-94 6,93 5-112 4,138 3-126 6,98 5-86 4,74 5-62 4,95 3-127 6,65 6-199 3,165 5-57 4,0 5,0 4,71 4-56 5,92 3-139 6,152 4-140 5,36 4-72 5,61 5,0 4,70 3-201 6,262 3-77 6,101 4-145 5,0 6-113 3,153 4-225 5,277 3-313 6,213 2,0 7,127 4-192 4,123 4-102 5,36 4,0 5,149 7-131 2,135 4-172 5,31 4-226 5,229 3-237 6,333 4-359 5,329 6-205 3,162 6,0 3,87 6-201 3,175 6-121 3,67 4-213 5,240 6-289 3,364 6-116 3,0 6,0 3,89 6-98 3,93 6-251 3,259 6-364 3,390 6-97 3,0 6-275 3,274 5-65 4,46 6,0 3,4 5,0 4,75 4-294 5,333 4-155 5,0 5-196 4,233 5,0 4,73 3-200 6,167 6-141 3,150 5-74 4,117 3-120 6,29 6-205 3,323 5-185 4,101 3,0 6,22 6-111 3,46 3-36 6,8 4,0 5,132 4-244 5,126 4,0 5,123 5-72 4,0 3-14 6,84 3-205 6,98 4-31 5,148 5-361 4,217 4-126 5,223 5-54 4,103 6-109 3,0 5-148 4,198 4-257 5,295 4-175 5,67 4-12 5,132 3-177 6,172 4-134 5,0 5,0 4,162 4-106 5,58 6-194 3,231 3-178 6,30 6-195 3,297 5-169 4,150 5,0 4,35 3-318 6,354 4-310 5,265 5-242 4,137 5-2 4,40 6-165 3,148 4-176 5,168 4-67 5,207 5-392 4,396 5-203 4,181 3-162 6,59 5-138 4,167 3-245 6,213 4-262 5,265 5,0 4,123 4-236 5,103 4-60 5,84 5-158 4,122 6-58 3,45 4,0 5,153 4-228 5,84 6-129 3,182 4-47 5,0 3-65 6,113 3-46 6,97 5-33 4,1 5-74 4,12 4-50 5,45 4-122 5,233 5-198 4,129 5-24 4,22 4-26 5,12 5-162 4,162 4-23 5,60 3-273 6,273 5-122 4,146 3-163 6,107 5-47 4,50 4-45 5,88 5-115 4,147 3-113 6,147 3-257 6,202 5-27 4,9 6-72 3,68 6-253 3,199 6-25 3,0 4-8 5,12 4,0 5,76 6-15 3,84 5-95 4,82 6-352 3,320 3-40 6,93 4-340 5,257 3-283 6,209 6-48 3,174 4-92 5,65 3-158 6,160 6-329 3,360 4-346 5,210 4,0 5,48 4-21 5,0 4-213 5,307 5-209 4,96 3-212 6,209 6-61 3,219 4-165 5,155 6-184 3,29 4,0 5,146 4-237 5,90 6-27 3,116 3-33 6,0 3-200 6,257 3-38 6,45 5-221 4,208 3-271 6,211 3-142 6,142 4-238 5,310 3-129 6,60 5-84 4,158 3-358 6,366 5-57 4,89 3-170 6,41 3-187 6,191 4-188 5,279 6-283 3,297 5-95 4,8 3-291 6,234 2,0 7,17 3,0 6,113 3-194 6,126 3-178 6,180 6-202 3,288 4-58 5,11 6-73 3,0 3-15 6,0 5,0 4,67 3-14 6,15 3-319 6,341 4-193 5,104 5-192 4,241 4-19 5,102 4-299 5,307 5-112 4,113 6-260 3,265 5-238 4,177 4-48 5,99 3-94 5,70 6-303 3,344 4-201 5,149 7-134 2,159 6-232 3,150 6-93 3,53 6-248 3,389 5-158 4,38 6,0 3,46 5-90 4,99 4-258 5,313 3-107 6,25 7-106 2,143 4-118 5,122 5-109 4,138 7-107 2,133 4-104 5,19 7-71 2,81 4-115 5,62 6-158 3,164 4-223 5,237 4-117 5,103 6,0 3,59 5-288 4,256 6-194 3,210 4-76 5,0 6-9 3,159 4-314 5,195 6-261 3,287 6-64 3,37 3-244 6,355 6-68 3,57 6-375 3,344 5-112 4,137 6-154 3,74 5-24 4,0 3,0 6,82 4-246 5,186 4,0 5,21 6-168 3,100 6-98 3,116 4-183 5,306 7-178 2,100 6-17 3,114 5-388 4,374 4-158 5,70 3-78 6,137 5-95 4,103 5-140 4,92 4-157 5,242 3-156 6,59 4-209 5,163 6-149 3,259 4-165 5,171 5-227 4,146 5-52 4,130 3-198 6,69 6,0 3,161 6-237 3,145 3-295 6,333 3-164 6,52 5-76 4,128 4-81 5,155 5-174 4,58 4-10 5,112 4-311 5,350 6-79 3,0 4-64 5,139 4-172 5,176 3-138 6,53 4-231 5,171 5-202 4,312 6-343 3,312 5-333 4,271 3-27 6,105 4-89 5,0 6-172 3,217 4-41 5,0 6-234 3,368 4-132 5,48 5-39 4,40 3-57 6,40 4-4 5,6 6-242 3,213V6394H3745Z" transform="scale(.1)" fill="#7E2F8E" stroke="#7E2F8E" stroke-width="6.0" stroke-linejoin="round"/>
<path d="M3745,6338l4-478 6,501 5-1064 4,946 4-839 6,777 6-526 4,545 4-487 6,638 5-242 4,74 5-138 5,185 4-275 6,331 4-383 6,457 4-247 5,69 6-164 4,206 4-541 6,583 3-275 7,268 5-819 4,756 5-196 5,361 6-205 4,190 5-439 5,397 4-455 5,355 5-301 5,324 7-948 3,1084 6-718 4,569 3-129 6,298 7-1972 3,1899 6-204 4,235 6-951 4,818 6-191 3,359 4-379 6,227 5-83 5,226 5-273 5,157 5-184 4,236 4-852 6,782 4-97 6,172 6-258 4,206 4-213 5,175 5-50 5,86 5-122 5,226 4-468 6,449 5-199 4,125 5-113 5,33 5-135 5,332 4-615 5,621 4-238 6,211 4-328 6,336 5-283 5,206 6-228 3,247 4-311 6,352 4-380 6,277 6-149 4,143 4-123 5,135 7-178 3,247 6-198 4,235 6-324 4,159 5-21 4,90 6-302 4,379 6-577 4,525 6-220 4,141 5-113 4,268 5-1001 5,991 3-293 7,254 7-167 3,237 3-296 6,252 4-189 6,214 5-256 5,125 3-292 7,343 6-299 3,275 4-695 6,701 4-367 6,334 5-427 5,421 3-1625 6,1710 4-817 6,842 5-506 5,471 5-687 5,651 4-296 5,378 5-876 5,793 6-152 4,81 3-530 7,523 5-377 4,429 4-749 6,775 5-661 5,598 4-565 5,665 7-424 3,377 5-536 5,593 6-900 4,822 4-182 5,135 5-666 5,718 5-184 5,144 4-519 6,581 6-342 3,468 5-332 5,275 5-412 5,259 5-123 5,253 5-436 4,428 4-164 6,101 6-396 4,486 6-258 4,105 3-96 6,224 6-163 4,76 5-402 5,522 4-200 6,178 6-642 3,678 5-1011 5,953 7-857 3,894 3-308 7,284 3-665 6,745 6-709 4,681 6-1691 4,1661 6-254 4,267 5-978 4,933 6-137 4,144 4-373 6,341 5-132 5,122 4-263 5,266 4-590 6,509 5-261 5,405 3-153 7,77 6-232 3,261 5-170 5,107 5-483 5,494 5-604 4,663 6-183 4,177 6-564 4,668 5-1200 5,1149 3-608 6,516 4-430 6,565 3-222 7,223 6-220 4,116 5-623 4,602 3-684 7,629 6-26 4,107 6-828 4,770 5-59 4,203 7-760 3,590 4-126 6,209 6-771 4,785 6-461 3,425 5-690 5,795 5-338 5,198 5-630 5,599 3-881 6,1066 5-386 5,290 6-307 4,280 3-297 7,336 4-118 5,167 5-641 5,629 4-233 6,194 3-521 7,601 5-213 4,212 5-540 5,351 5-362 5,396 3-158 7,251 3-506 6,442 7-563 3,703 5-641 5,599 5-587 4,535 5-566 5,642 5-435 5,346 4-905 6,850 6-89 3,253 5-216 5,196 6-748 4,765 5-530 5,383 4-228 5,301 5-725 5,650 7-570 3,719 3-299 7,309 6-731 3,585 5-614 5,620 5-594 5,638 5-535 5,435 5-235 4,407 6-340 4,192 5-539 5,659 5-589 5,628 5-481 4,439 6-279 4,268 7-435 3,372 5-104 5,144 3-1192 6,1087 6-202 4,276 5-1179 5,1112 6-163 4,268 5-504 4,390 4-601 6,613 3-116 7,95 7-50 3,213 6-174 3,186 5-1706 5,1557 4-453 6,441 3-192 7,209 3-176 6,287 5-212 5,268 5-502 5,339 6-1191 3,1221 7-78 3,111 4-850 6,773 3-109 7,283 6-845 3,770 7-710 3,765 4-373 6,376 4-796 6,816 7-535 2,363 7-104 3,197 7-523 3,508 5-263 5,310 3-212 6,132 6-327 4,452 3-334 7,290 3-440 7,393 3-274 6,308 4-168 6,210 7-870 3,876 3-214 7,68 6-419 3,409 4-70 6,167 5-140 5,61 6-872 4,1005 3-682 6,560 6-609 4,719 5-202 5,82 6-479 4,440 6-334 3,392 3-269 7,257 4-259 6,343 6-427 4,311 6-116 3,152 4-604 6,688 3-628 7,520 4-124 6,108 3-622 6,620 5-158 5,266 3-217 7,143 4-155 5,261 7-925 3,932 4-196 6,192 3-481 7,475 4-221 5,133 7-187 3,256 4-483 6,540 6-1102 4,1020 6-204 3,152 3-177 7,232 4-228 6,291 5-211 5,184 6-320 3,354 7-200 3,64 5-519 5,556 4-345 6,275 6-79 3,155 7-194 3,233 6-143 4,89 5-189 5,302 6-649 3,455 3-465 7,578 5-505 5,484 6-556 4,667 3-310 6,303 4-646 6,482 5-260 5,225 5-310 5,394 3-200 6,176 6-417 4,401 4-1457 6,1511 3-228 7,332 5-889 4,807 5-703 5,597 3-130 7,293 3-870 7,839 2-168 7,181 5-370 5,265 6-491 4,493 3-183 6,260 7-268 3,265 5-135 5,13 4-98 6,180 4-114 5,214 4-494 6,421 7-656 3,649 4-162 6,210 6-675 3,553 4-261 6,438 5-1384 5,1241 6-770 4,730 3-280 6,344 5-600 5,662 6-632 4,616 4-151 6,12 3-82 6,280 5-720 5,710 5-630 5,635 6-205 4,61 4-193 5,145 6-298 4,405 6-135 4,198 4-331 6,248 3-509 6,425 6-20 4,162 4-815 6,696 6-543 4,694 4-561 5,517 4-204 6,199 4-554 6,444 5-53 5,186 4-628 5,555 6-205 4,158 4-442 6,469 5-641 5,771 5-560 4,580 6-528 4,331" transform="scale(.1)" fill="none" stroke="#7E2F8E" stroke-width="8.5" stroke-linejoin="round"/>
<path d="M3745,6301l7,0 8,1 7,0 8,1 7,0 8,0 7,1 8,0 7,1 8,0 7,0 8,1 7,0 8,0 7,1 8,0 7,1 8,0 7,0 8,1 7,0 8,1 7,0 8,0 7,1 8,0 7,1 8,0 7,0 8,1 7,0 8,0 7,1 8,0 7,1 8,0 7,0 8,1 7,0 8,0 7,0 8,0 7,0 8,0 7,0 8,0 7-1 8,0 7,0 8,0 7,0 8,0 7,0 8-1 7,0 8,0 7,0 8,0 7,0 8-1 7,0 8,0 7,0 8,0 7,0 8,0 7-1 8,0 7,0 8,0 7,0 8,0 7-1 8,0 7,0 8,0 7,0 8,0 7-1 8,0 7,0 8,0 7,0 8,0 7,0 8-1 7,0 8,0 7,0 8,0 7,0 8-1 7,0 8,0 7,0 8,0 7,0 8,0 7-1 7,0 8,0 7-1 8,0 7-1 8,0 7-1 8-1 7,0 8-1 7,0 8-1 7,0 8-1 7,0 8-1 7,0 8-1 7-1 8,0 7-1 8,0 7-1 8,0 7-1 8,0 7-1 8,0 7-1 8,0 7-1 8-1 7,0 8-1 7,0 8-1 7,0 8-1 7,0 8-1 7,0 8-1 7,0 8-1 7,0 8,0 7-1 8,0 7-1 8,0 7,0 8-1 7,0 8,0 7-1 8,0 7-1 8,0 7,0 8-1 7,0 8-1 7,0 8,0 7-1 8,0 7-1 8,0 7,0 8-1 7,0 8,0 7-1 8,0 7-1 8,0 7,0 8-1 7,0 8-1 7,0 8,0 7,0 8,0 7,0 8,0 7,0 8,0 7,0 8,0 7,0 8,0 7,0 8,0 7,0 8,0 7,0 8,0 7,0 8,0 7,0 7,0 8,0 7,0 8,0 7,0 8,0 7,0 8,0 7,0 8,0 7,0 8,0 7,0 8,0 7,0 8,0 7,0 8,0 7,0 8,0 7,0 8,0 7,0 8,0 7,0 8,0 7,0 8,0 7,0 8,0 7,0 8,0 7,0 8,0 7,0 8,0 7,0 8,0 7,0 8,0 7,0 8,0 7,1 8,0 7,0 8,0 7,0 8,1 7,0 8,0 7,0 8,0 7,1 8,0 7,0 8,0 7,0 8,1 7,0 8,0 7,0 8,0 7,1 8,0 7,0 8,0 7,0 8,0 7,1 8,0 7,0 8,0 7,0 8,1 7,0 8,0 7,0 8,0 7,1 8,0 7,0 8,0 7,0 8,1 7,0 8,0 7,0 8,0 7,1 8,0 7,0 8,0 7,0 8,1 7,0 8,0 7,0 8,0 7,0 7,1 8,0 7,0 8,0 7,0 8,1 7,0 8,0 7,0 8,0 7,1 8,0 7,0 8,0 7,0 8,1 7,0 8,0 7,0 8,0 7,1 8,0 7,0 8,0 7,0 8,1 7,0 8,0 7,0 8,0 7,0 8,1 7,0 8,0 7,0 8,0 7,1 8,0 7,0 8,0 7,0 8,1 7,0 8,0 7,0 8,0 7,1 8,0 7,0 8,0 7,0 8,1 7,0 8,0 7,0 8,0 7,1 8,0 7,0 8,0 7,0 8,0 7,1 8,0 7,0 8,0 7,0 8,1 7,0 8,0 7,0 8,0 7,1 8,0 7,0 8,0 7,0 8,1 7,0 8,0 7,0 8,0 7,1 8,0 7,0 8,0 7,0 8,1 7,0 8,0 7,0 8,0 7,0 8,1 7,0 8,0 7,0 8,0 7,1 8,0 7,0" transform="scale(.1)" fill="none" stroke="#4DBEEE" stroke-width="9.0" stroke-linejoin="round"/>
<path d="M3745,6270l7,0 8,0 7,0 8,0 7,0 8,0 7,0 8,0 7,0 8,0 7,0 8,0 7,0 8,0 7,0 8,0 7,0 8,0 7,0 8,0 7,0 8,0 7,0 8,0 7,0 8,0 7,0 8,0 7,0 8,0 7,0 8,0 7,0 8,0 7,0 8,0 7,0 8,0 7,0 8,0 7,0 8,0 7,0 8,0 7,0 8,0 7,0 8,0 7,0 8,0 7,0 8,0 7,0 8,0 7,0 8,0 7,0 8,0 7,0 8,0 7,0 8,0 7,0 8,0 7,0 8,0 7,0 8,0 7,0 8,0 7,0 8,0 7,0 8,0 7,0 8,0 7,0 8,0 7,0 8,0 7,0 8,0 7,0 8,0 7,0 8,0 7,0 8,0 7,0 8,0 7,0 8,0 7,0 8,0 7,0 8,0 7,0 8,0 7,0 7,0 8,0 7,0 8,0 7,0 8,0 7,0 8,0 7,0 8,0 7,0 8,0 7,0 8,0 7,0 8,0 7,0 8,0 7,0 8,0 7,0 8,0 7,0 8,0 7,0 8,0 7,0 8,0 7,0 8-1 7,0 8,0 7,0 8,0 7,0 8,0 7,0 8,0 7,0 8,0 7,0 8,0 7,0 8,0 7,0 8,0 7-1 8,0 7,0 8,0 7,0 8,0 7,0 8,0 7,0 8,0 7,0 8,0 7,0 8,0 7,0 8,0 7-1 8,0 7,0 8,0 7,0 8,0 7,0 8,0 7,0 8,0 7,0 8,0 7,0 8,0 7,0 8,0 7-1 8,0 7,0 8,0 7,0 8,0 7,0 8,0 7,0 8,0 7,0 8,0 7,0 8,0 7,0 8,0 7-1 8,0 7,0 8,0 7,0 8,0 7,0 7,0 8,0 7,0 8,0 7,0 8,0 7,0 8,0 7,0 8-1 7,0 8,0 7,0 8,0 7,0 8,0 7,0 8,0 7,0 8,0 7,0 8,1 7,0 8,0 7,1 8,0 7,0 8,1 7,0 8,0 7,1 8,0 7,1 8,0 7,0 8,1 7,0 8,0 7,1 8,0 7,0 8,1 7,0 8,1 7,0 8,0 7,1 8,0 7,0 8,1 7,0 8,0 7,1 8,0 7,1 8,0 7,0 8,1 7,0 8,0 7,1 8,0 7,0 8,1 7,0 8,0 7,1 8,0 7,1 8,0 7,0 8,1 7,0 8,0 7,1 8,0 7,0 8,1 7,0 8,0 7,0 8-1 7-1 8-1 7,0 8-1 7-1 8-1 7,0 8-1 7-1 8-1 7-1 8,0 7-1 8-1 7-1 8,0 7-1 7-1 8-1 7,0 8-1 7-1 8-1 7-1 8,0 7-1 8-1 7-1 8,0 7-1 8-1 7-1 8-1 7,0 8-1 7-1 8-1 7,0 8-1 7-1 8-1 7-1 8,0 7-1 8-1 7-1 8,0 7-1 8-1 7-1 8-1 7,0 8-1 7-1 8-1 7,0 8-1 7,0 8,0 7,1 8,0 7,1 8,1 7,1 8,0 7,1 8,1 7,1 8,1 7,0 8,1 7,1 8,1 7,0 8,1 7,1 8,1 7,1 8,1 7,1 8,1 7,2 8,1 7,1 8,1 7,1 8,2 7,1 8,1 7,1 8,2 7,1 8,1 7,1 8,2 7,1 8,1 7,1 8,2 7,1 8,2 7,1 8,1 7,2 8,1 7,2 8,1 7,1 8,2 7,1 8,1 7,2 8,1 7,2 8,1 7,1 8,2 7,1" transform="scale(.1)" fill="none" stroke="#A2142F" stroke-width="8.0" stroke-linejoin="round"/>
<path d="M3745,6364l3-2 3-2 3,3 3-7 3,5 3,4 3-4 3-4 3-2 3,0 3,3 3,1 3,3 3-2 3,2 3-5 3,0 3,1 3,2 3-4 3-2 3,3 3,3 3,3 3-5 3-5 3,6 3,2 3,1 3-5 3-1 3,3 3,2 3-9 3,6 3-2 3,0 3-1 3,3 3-1 3,0 3-5 3-4 3,8 3-4 3,7 3-6 3,10 3-5 3,0 3,1 3-5 3-3 3,4 3,0 3-4 3,2 3,2 3,3 3-7 3,3 3-4 3,6 3-3 3,1 3,1 3-4 3,5 3-8 3,2 3,6 3-2 3-5 3,6 3-10 3,2 3-10 3-5 3-9 3-6 3-12 3-6 3-8 3-5 3-10 3-11 3-4 3-8 3-5 3-7 3-16 3-4 3-9 3-11 3-10 3-10 3-12 3-14 3-13 3-2 3-8 3-11 3-22 3-11 3-11 3-6 3-13 3-12 3-6 3-4 3-7 3,0 3-5 3-2 3,1 3-5 3-1 3-3 3-2 3,0 3,2 3,8 3,6 3,3 3,13 3,2 3,7 3,3 3,11 3,7 3,8 3,6 3,16 3,4 3,17 3,2 3,12 3,19 3,6 3,8 3,13 3,9 3,12 3,7 3,13 3,13 3,7 3,7 3,11 3,4 3,1 3,12 3-3 3,8 3,7 3-3 3,5 3,11 3,0 3,4 3,10 3,1 3,4 3,2 3,13 3-3 3,11 3,1 3,2 3,7 3-1 3,8 3,0 3-1 3-2 3,6 3,5 3-5 3-1 3,7 3,1 3,2 3-2 3,0 3-1 3,5 3-2 3,0 3-2 3-3 3,7 3-2 3,3 3,2 3,3 3-2 3,4 3-2 3-4 3,7 3-3 3-7 3,5 3,1 3,0 3-2 3-1 3-3 3,1 3,4 3-3 3,0 3,5 3-3 3-2 3-3 3,2 3,1 3,0 3-6 3,3 3,7 3-8 3,1 3,5 3,1 3-4 3,1 3-3 3,3 3,1 3,1 3,7 3-7 3-5 3-4 3,1 3-2 3-2 3-5 3,1 3,3 3,2 3-6 3-2 3,4 3-3 3-6 3-3 2,2 3,1 3-1 3-1 3-6 3-2 3,6 3-2 3-2 3-4 3-6 3,4 3-4 3,0 3-6 3,1 3-4 3,0 3-8 3,1 3,0 3-2 3-8 3,1 3-5 3-5 3,0 3-3 3-1 3-2 3-10 3,3 3,1 3-2 3-10 3,0 3,2 3-11 3,3 3-8 3,5 3-6 3-2 3-9 3,3 3-2 3-9 3,3 3-6 3-1 3,0 3-5 3-5 3-11 3,6 3-5 3,1 3-1 3-2 3-1 3-5 3,7 3-5 3,1 3-4 3,4 3,2 3-7 3,0 3,1 3-5 3,1 3-4 3,2 3,0 3,4 3-6 3,7 3-5 3-3 3,0 3-1 3,0 3-1 3,4 3,1 3-8 3,11 3-7 3,0 3-4 3-1 3-2 3,11 3-6 3-9 3,8 3-1 3-2 3,1 3,6 3-8 3,4 3-6 3,0 3,0 3,0 3-3 3,6 3-5 3-3 3,5 3-3 3,0 3-1 3,1 3-5 3,5 3-2 3,1 3-8 3,2 3,0 3,0 3,0 3-2 3-2 3,3 3-1 3,1 3-9 3,5 3,5 3-8 3-2 3-1 3,3 3-5 3,10 3-5 3-7 3,1 3,4 3,1 3-10 3,6 3,0 3,3 3,4 3-1 3,2 3-4 3,2 3,1 3,3 3-6 3,9 3-1 3-2 3,11 3-7 3,0 3-3 3-1 3,16 3-5 3-2 3,0 3,3 3,2 3-1 3-3 3,2 3,4 3,3 3-1 3,1 3-6 3,3 3,7 3-2 3-4 3,7 3-3 3,8 3-9 3,5 3,1 3-2 3,1 3,2 3,2 3-1 3,3 3-1 3,0 3,7 3,1 3-5 3,7 3-1 3-1 3,0 3,4 3,2 3-7 3,4 3,5 3,2 3-3 3,3 3-4 3,2 3,2 3-4 3,7 3-3 3-4 3-5 3,1 3-8 3,9 3-5 3-1 3-1 3,1 3-8 3,3 3-6 3-5 3-3 3,5 3,11 3,16 3,31 3,31 3-5 3-31 3-43 3,8 3-18 3,2 3,10 3-2 3,2 3-10 3-5 3,27 3,4 3-19 3,2 3,23 3-13 3-4 3,2 3,9 3,4 3,10 3,0 3,9 3-22 3,14 3-8 3,6 3-12 3,3 3,3 3-19 3,7 3,7 3,5 3-12 3-16 3,4 3-2 3,29 3-21 3,11 3-8 3-28 3-3 3-9 3,15 3-2 3-13 3-19 3,17 3-14 3-27 3,21 3,0 3,6 3-22 3,25 3-9 3,1 3-8 3-6 3,25 3-38 3-3 3-2 3,12 3,17 3-57 3,39 3-26 3,29 3,17 3-43 3-7 3,15 3-10 3,9 3,22 3-10 3-5 3,15 3-12 3,20 3,3 3-11 3-16 3,20 3-2 3,11 3-10 3,34 3-13 3,23 3-17 3-7 3-11 3,6 3-7 3,4 3,6 3,28 3-17 3-18 3,1 3,0 3,4 3-4 3-2 3,13 3-22 3,14 3,6 3-13 3-19 3,36 3,2 3-19 3,7 3-1 3,22 3-35 3,14 3-16 3,2 3-14 3,10 3-44 3,9 3-15 3-18 3-9 3-10 3,7 3,6 3-30 3,6 3,11 3-15 3,14 3,6 3-13 3-20 3,29 3-6 3,16 3-22 3-13 3,14 3,25 3,22 3-18 3,31 3-14 3,0 3,21 3,9 3,27 3-10 3,14 3,17 3,5 3-13 3,13 3,30 3-28 3,39 3-12 3-4 3-15 3-30 3,22 3,11 3-34 3,19 3-9 3,6 3,1 3-8 3,3 3,9 3-21 3,14 3-3 3,25 3-56 3,28 3-2 3-5 3,30 3-1 3,6 3-5 3-25 3,22 3-29 3,35 3-6 3-2 3,39 3-8 3-24 3,44 3-20 3,5 3-7 3,29 3-26 3,12 3,4 3-11 3-12 3-47 3-31 3-54 3-58 3-32 3-27 3-21 3,20 3,16 3,29 3,77 3,73 3,9 3,13 3,5 3,36 3,23 3,5 3,0 3,7 3-15 3,36 3-20 3,19 3,16 3,11 3-9 3,30 3,19 3,6 3,33 3-1 3,4 3-21 3-30 3-27 3-9 3-49 3-46 3-44 3-38 3-37 3-69 3,4 3-52 3-19 3-27 3-19 3-32 3-14 3-21 3,30 2,5 3-9 3,47 3,2 3,42 3,22 3,24 3,26 3,44 3,7 3,4 3,2 3,30 3,4 3,16 3-15 3,31 3-19 3,2 3-10 3-9 3-27 3,16 3,13 3-22 3-10 3,8 3,9 3,27 3-19 3,27 3,11 3,10 3,6 3,11 3-11 3,18 3-7 3,16 3-28 3-28 3,18 3-33 3,11 3,5 3-23 3,46 3,2 3,4 3-4 3,52 3-23 3,11 3,16 3,6 3,4 3,15 3,35 3-17 3,8 3,10 3-14 3,21 3,4 3,1 3-10 3,9 3-21 3,23 3,19 3-28 3-2 3,17 3-8 3,5 3,14 3-18 3,1 3,18 3,3 3,8 3-20 3,20 3,11 3,17 3-7 3-12 3,0 3,13 3,5 3-7 3-2 3-5 3,5 3,35 3-27 3-19 3,21 3-8 3,8 3-10 3-22 3,6 3-16 3-8 3,19 3,15 3-43 3,12 3,8 3-11 3-12 3-7 3-3 3,5 3-11 3-25 3,9 3,3 3-35 3,9 3,0 3-7 3-12 3-9 3,33 3-23 3-8 3,3 3,11 3,5 3,9 3-34 3,9 3,28 3,3 3-2 3,11 3-9 3,17 3,4 3-17 3,9 3-24 3,4 3,1 3-22 3,46 3-10 3-25 3,3 3,30 3-11 3,28 3,14 3,6 3-42 3,52 3-11 3-3 3,3 3,30 3-8 3-10 3,10 3,13 3,4 3-3 3-3 3-6 3-10 3,23 3-19 3-7 3-5 3-24 3,49 3-29 3-6 3-23 3,11 3,1 3,22 3-37 3,9 3-4 3,1 3-2 3-16 3,4 3,11 3-17 3,6 3-9 3,5 3-30 3-22 3,22 3,26 3-8 3-1 3,11 3-14 3,33 3-27 3,12 3,18 3-24 3,51 3-10 3,23 3-20 3-26 3,10 3-3 3,19 3-38 3,31 3,11 3-28 3-12 3-10 3,5 3,22 3,1 3-5 3-2 3-12 3-3 3-5 3-3 3,19 3-16 3,6 3-21 3,14 3-14 3-2 3-17 3,0 3-8 3-15 3-1 3-2 3-25 3-3 3-11 3,14 3-14 3-14 3,7" transform="scale(.1)" fill="none" stroke="#000000" stroke-width="10.0" stroke-linejoin="round"/>
<line x1="374.5" y1="527.85" x2="675.3" y2="527.85" stroke="#dc1e26" stroke-width="1.7" stroke-dasharray="4.2 4.35"/>
<line x1="374.5" y1="639.4" x2="374.5" y2="422.0" stroke="#a8a8a8" stroke-width="1.4"/>
<line x1="374.5" y1="639.4" x2="377.7" y2="639.4" stroke="#aaa" stroke-width="0.9"/>
<line x1="374.5" y1="608.4" x2="377.7" y2="608.4" stroke="#aaa" stroke-width="0.9"/>
<line x1="374.5" y1="577.4" x2="377.7" y2="577.4" stroke="#aaa" stroke-width="0.9"/>
<line x1="374.5" y1="546.4" x2="377.7" y2="546.4" stroke="#aaa" stroke-width="0.9"/>
<line x1="374.5" y1="515.5" x2="377.7" y2="515.5" stroke="#aaa" stroke-width="0.9"/>
<line x1="374.5" y1="484.5" x2="377.7" y2="484.5" stroke="#aaa" stroke-width="0.9"/>
<line x1="374.5" y1="453.5" x2="377.7" y2="453.5" stroke="#aaa" stroke-width="0.9"/>
<line x1="374.5" y1="422.5" x2="377.7" y2="422.5" stroke="#aaa" stroke-width="0.9"/>
<text x="366.4" y="642.8" class="tk" style="font-size:9.7px" textLength="4.5" lengthAdjust="spacingAndGlyphs">0</text>
<text x="359.6" y="611.8" class="tk" style="font-size:9.7px" textLength="11.3" lengthAdjust="spacingAndGlyphs">0.1</text>
<text x="359.6" y="580.8" class="tk" style="font-size:9.7px" textLength="11.3" lengthAdjust="spacingAndGlyphs">0.2</text>
<text x="359.6" y="549.8" class="tk" style="font-size:9.7px" textLength="11.3" lengthAdjust="spacingAndGlyphs">0.3</text>
<text x="359.6" y="518.9" class="tk" style="font-size:9.7px" textLength="11.3" lengthAdjust="spacingAndGlyphs">0.4</text>
<text x="359.6" y="487.9" class="tk" style="font-size:9.7px" textLength="11.3" lengthAdjust="spacingAndGlyphs">0.5</text>
<text x="359.6" y="456.9" class="tk" style="font-size:9.7px" textLength="11.3" lengthAdjust="spacingAndGlyphs">0.6</text>
<text x="359.6" y="425.9" class="tk" style="font-size:9.7px" textLength="11.3" lengthAdjust="spacingAndGlyphs">0.7</text>
<text x="367.7" y="651.3" class="tk" style="font-size:9.7px" textLength="13.5" lengthAdjust="spacingAndGlyphs">400</text>
<text x="397.7" y="651.3" class="tk" style="font-size:9.7px" textLength="13.5" lengthAdjust="spacingAndGlyphs">600</text>
<text x="427.7" y="651.3" class="tk" style="font-size:9.7px" textLength="13.5" lengthAdjust="spacingAndGlyphs">800</text>
<text x="455.4" y="651.3" class="tk" style="font-size:9.7px" textLength="18.0" lengthAdjust="spacingAndGlyphs">1000</text>
<text x="485.4" y="651.3" class="tk" style="font-size:9.7px" textLength="18.0" lengthAdjust="spacingAndGlyphs">1200</text>
<text x="515.4" y="651.3" class="tk" style="font-size:9.7px" textLength="18.0" lengthAdjust="spacingAndGlyphs">1400</text>
<text x="545.4" y="651.3" class="tk" style="font-size:9.7px" textLength="18.0" lengthAdjust="spacingAndGlyphs">1600</text>
<text x="575.3" y="651.3" class="tk" style="font-size:9.7px" textLength="18.0" lengthAdjust="spacingAndGlyphs">1800</text>
<text x="605.3" y="651.3" class="tk" style="font-size:9.7px" textLength="18.0" lengthAdjust="spacingAndGlyphs">2000</text>
<text x="635.3" y="651.3" class="tk" style="font-size:9.7px" textLength="18.0" lengthAdjust="spacingAndGlyphs">2200</text>
<text x="665.3" y="651.3" class="tk" style="font-size:9.7px" textLength="18.0" lengthAdjust="spacingAndGlyphs">2400</text>
<text x="480.6" y="662.1" class="lab" style="font-size:9.4px" textLength="10.2" lengthAdjust="spacingAndGlyphs">(f)</text>
<text x="499.0" y="662.1" class="lab" style="font-size:9.4px" textLength="69.3" lengthAdjust="spacingAndGlyphs">Wavelength(nm)</text>
<g transform="translate(354.9,535.5) rotate(-90) scale(0.9,1)"><text x="0" y="0" class="lab" style="font-size:10.2px">R<tspan dx="0.8" dy="-5.0" style="font-size:7px">2</tspan></text></g>
<line x1="34.1" y1="11.5" x2="50.3" y2="11.5" stroke="#0072BD" stroke-width="0.9"/>
<text x="52.1" y="14.3" class="lg" textLength="9.1" lengthAdjust="spacingAndGlyphs">CR</text>
<line x1="64.1" y1="11.5" x2="80.3" y2="11.5" stroke="#D95319" stroke-width="0.9"/>
<text x="82.1" y="14.3" class="lg" textLength="8.7" lengthAdjust="spacingAndGlyphs">FD</text>
<line x1="94.1" y1="11.5" x2="110.3" y2="11.5" stroke="#EDB120" stroke-width="0.9"/>
<text x="112.1" y="14.3" class="lg" textLength="8.8" lengthAdjust="spacingAndGlyphs">SG</text>
<line x1="123.9" y1="11.5" x2="140.1" y2="11.5" stroke="#7E2F8E" stroke-width="0.9"/>
<text x="141.9" y="14.3" class="lg" textLength="8.8" lengthAdjust="spacingAndGlyphs">SD</text>
<line x1="153.5" y1="11.5" x2="169.7" y2="11.5" stroke="#77AC30" stroke-width="0.9"/>
<text x="171.5" y="14.3" class="lg" textLength="9.0" lengthAdjust="spacingAndGlyphs">OR</text>
<line x1="184.3" y1="11.5" x2="200.5" y2="11.5" stroke="#4DBEEE" stroke-width="0.9"/>
<text x="202.3" y="14.3" class="lg" textLength="13.9" lengthAdjust="spacingAndGlyphs">MSC</text>
<line x1="219.3" y1="11.5" x2="235.5" y2="11.5" stroke="#A2142F" stroke-width="0.9"/>
<text x="237.3" y="14.3" class="lg" textLength="13.8" lengthAdjust="spacingAndGlyphs">ABS</text>
<line x1="253.5" y1="11.5" x2="269.7" y2="11.5" stroke="#000000" stroke-width="0.9"/>
<text x="271.5" y="14.3" class="lg" textLength="14.4" lengthAdjust="spacingAndGlyphs">SNV</text>
<line x1="287.8" y1="11.8" x2="301.3" y2="11.8" stroke="#dc1e26" stroke-width="1.6" stroke-dasharray="4.6 3.6"/>
<text x="306.6" y="14.8" class="lg" textLength="22.4" lengthAdjust="spacingAndGlyphs">R<tspan dy="-3.4" font-size="5.6">2</tspan><tspan dy="3.4">=0.36</tspan></text>
</svg></body></html>
